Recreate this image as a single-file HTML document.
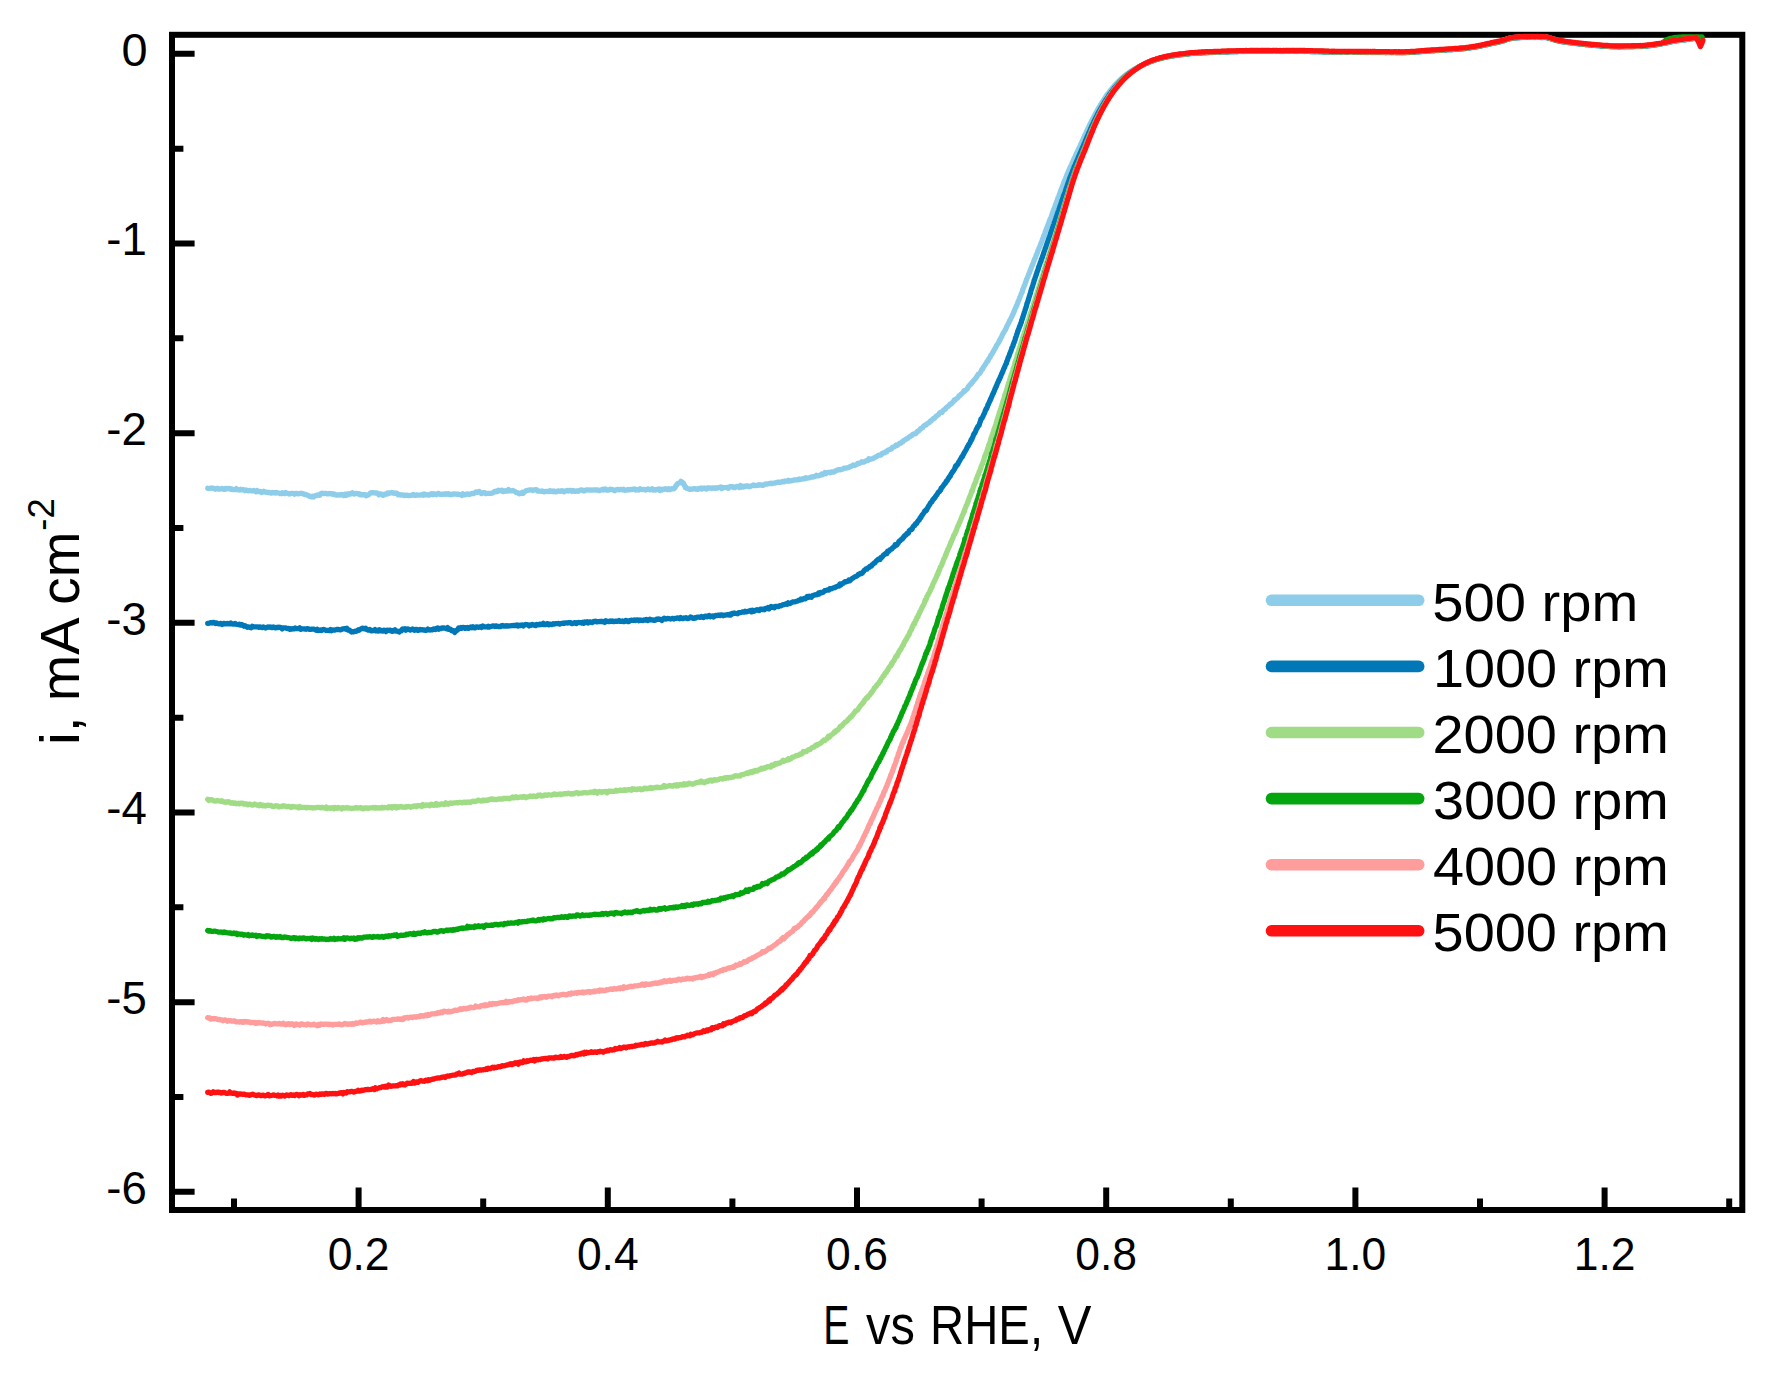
<!DOCTYPE html>
<html lang="en">
<head>
<meta charset="utf-8">
<title>RDE polarisation curves</title>
<style>
html,body{margin:0;padding:0;background:#fff;}
body{width:1790px;height:1383px;overflow:hidden;}
svg{display:block;}
svg text{font-family:'Liberation Sans', Arial, Helvetica, sans-serif;fill:#000;}
</style>
</head>
<body>
<svg width="1790" height="1383" viewBox="0 0 1790 1383">
<rect width="1790" height="1383" fill="#fff"/>
<g fill="none" stroke="#000" stroke-width="6.0" stroke-linejoin="miter">
<rect x="172.0" y="34.8" width="1570.3" height="1175.2"/>
<path stroke-width="6.0" d="M172.0 53.80H194.6M172.0 148.63H183.4M172.0 243.47H194.6M172.0 338.31H183.4M172.0 433.14H194.6M172.0 527.97H183.4M172.0 622.81H194.6M172.0 717.64H183.4M172.0 812.48H194.6M172.0 907.31H183.4M172.0 1002.15H194.6M172.0 1096.98H183.4M172.0 1191.82H194.6M234.00 1210.0V1198.6M358.60 1210.0V1187.4M483.20 1210.0V1198.6M607.80 1210.0V1187.4M732.40 1210.0V1198.6M857.00 1210.0V1187.4M981.60 1210.0V1198.6M1106.20 1210.0V1187.4M1230.80 1210.0V1198.6M1355.40 1210.0V1187.4M1480.00 1210.0V1198.6M1604.60 1210.0V1187.4M1729.20 1210.0V1198.6"/>
</g>
<g fill="none" stroke-width="5.3" stroke-linejoin="round" stroke-linecap="round">
<path d="M207.7 488.3L208.8 488.5L209.9 488.3L211.0 488.0L212.1 488.3L213.2 488.1L214.3 488.6L215.4 489.2L216.5 488.5L217.6 488.5L218.7 489.0L219.8 489.0L220.9 488.9L222.0 488.5L223.1 489.0L224.2 489.4L225.3 488.5L226.4 489.0L227.5 488.4L228.6 488.7L229.7 488.5L230.8 489.3L231.9 488.9L233.0 489.7L234.1 489.7L235.2 489.6L236.3 488.6L237.4 489.6L238.5 489.8L239.6 490.0L240.7 489.3L241.8 489.9L242.9 489.7L243.9 489.9L245.0 490.7L246.1 490.0L247.2 490.4L248.3 490.9L249.4 490.3L250.5 490.6L251.6 490.8L252.7 490.9L253.8 490.4L254.9 491.1L256.0 491.8L257.1 490.6L258.2 491.7L259.3 491.5L260.4 491.3L261.5 492.6L262.6 492.1L263.7 491.3L264.8 492.0L265.9 492.3L267.0 492.1L268.1 492.6L269.2 492.4L270.3 492.8L271.3 493.2L272.4 492.4L273.5 492.8L274.6 492.6L275.7 493.0L276.8 492.5L277.9 492.8L279.0 493.0L280.1 493.6L281.2 493.7L282.3 492.7L283.4 493.0L284.5 493.6L285.6 492.5L286.7 493.2L287.8 493.4L288.9 494.0L290.0 493.8L291.1 493.3L292.2 493.3L293.3 493.4L294.4 494.2L295.5 493.4L296.6 493.4L297.7 493.8L298.8 493.6L299.9 493.6L301.0 493.2L302.1 493.7L303.2 493.6L304.3 494.5L305.4 494.5L306.4 494.6L307.4 495.3L308.4 495.3L309.4 496.3L310.5 496.3L311.5 496.8L312.6 496.2L313.7 496.9L314.8 495.8L315.8 495.3L316.8 495.7L317.8 494.9L318.8 494.9L319.8 495.3L320.8 493.5L321.8 493.2L322.9 493.4L324.0 493.5L325.1 493.3L326.2 493.3L327.3 493.8L328.4 493.8L329.5 493.3L330.6 493.8L331.7 494.1L332.8 493.7L333.9 494.5L334.9 494.1L336.0 495.1L337.1 494.9L338.2 495.0L339.3 494.8L340.4 495.1L341.5 494.4L342.6 494.8L343.7 495.5L344.8 494.3L345.9 495.4L346.9 494.0L348.0 494.8L349.1 493.8L350.1 494.2L351.2 493.6L352.3 492.7L353.4 493.9L354.5 494.0L355.6 493.4L356.6 493.5L357.7 493.8L358.8 493.6L359.9 494.8L360.9 494.3L362.0 494.8L363.1 494.7L364.2 494.9L365.3 494.7L366.4 495.8L367.4 494.9L368.4 495.0L369.4 494.0L370.3 493.1L371.3 492.8L372.4 492.6L373.5 492.9L374.6 492.8L375.7 493.1L376.8 492.9L377.8 493.4L378.9 494.8L379.9 494.0L381.0 494.0L382.1 494.8L383.2 495.4L384.3 494.1L385.4 494.5L386.4 493.9L387.5 493.0L388.5 493.7L389.5 493.0L390.6 492.9L391.7 492.5L392.8 493.1L393.9 492.9L394.9 493.3L396.0 493.1L397.1 493.4L398.1 494.8L399.2 494.3L400.2 494.9L401.3 495.0L402.4 495.0L403.5 495.1L404.6 495.6L405.7 495.2L406.8 495.2L407.9 495.3L409.0 495.7L410.1 495.5L411.2 495.3L412.3 494.9L413.4 494.4L414.5 495.4L415.6 495.4L416.7 494.8L417.8 495.1L418.9 495.1L420.0 495.1L421.1 495.1L422.2 494.4L423.3 495.3L424.4 494.0L425.5 494.9L426.6 494.7L427.7 494.8L428.8 495.2L429.9 495.0L431.0 493.8L432.1 493.6L433.2 494.7L434.3 493.8L435.4 494.3L436.5 494.7L437.6 493.6L438.7 493.4L439.8 494.4L440.9 494.3L442.0 494.2L443.1 494.4L444.2 494.0L445.3 493.7L446.4 494.3L447.5 493.9L448.6 493.7L449.7 494.6L450.8 494.4L451.9 494.6L453.0 494.0L454.1 494.1L455.2 494.0L456.3 494.1L457.4 494.5L458.5 494.1L459.6 494.6L460.7 494.6L461.8 495.4L462.9 493.9L464.0 494.9L465.1 494.5L466.2 494.5L467.3 493.8L468.4 494.2L469.5 494.5L470.5 493.9L471.6 493.7L472.7 493.3L473.7 493.7L474.8 492.9L475.9 491.9L477.0 492.5L478.1 491.9L479.2 491.4L480.3 492.7L481.4 493.5L482.5 493.0L483.6 492.6L484.7 492.7L485.8 493.7L486.9 493.3L488.0 493.3L489.1 493.3L490.2 493.3L491.3 493.4L492.3 493.0L493.4 492.5L494.4 491.5L495.4 491.9L496.5 491.0L497.5 491.5L498.6 490.3L499.7 490.7L500.8 490.8L501.9 490.2L503.0 491.6L504.1 491.4L505.2 490.6L506.3 491.1L507.4 491.0L508.5 489.6L509.6 490.9L510.7 490.8L511.8 490.8L512.9 490.4L514.0 491.1L515.0 491.5L516.0 492.5L517.0 492.6L518.0 492.9L519.1 493.9L520.2 493.2L521.3 493.3L522.3 492.2L523.2 493.2L524.1 492.2L525.0 491.6L525.9 490.9L527.0 490.3L528.1 490.3L529.2 490.0L530.3 489.9L531.4 489.9L532.5 490.5L533.6 490.1L534.7 489.8L535.8 489.7L536.8 489.9L537.9 491.2L538.9 491.1L540.0 491.2L541.1 491.3L542.1 491.0L543.2 491.5L544.3 491.9L545.4 491.3L546.5 491.4L547.6 491.4L548.7 491.5L549.8 490.7L550.9 491.3L552.0 491.0L553.1 491.7L554.2 491.0L555.3 491.6L556.4 491.9L557.5 491.1L558.6 490.9L559.7 491.3L560.8 491.1L561.9 490.7L563.0 491.3L564.1 491.9L565.2 490.9L566.3 490.9L567.4 490.5L568.5 491.0L569.6 490.3L570.7 490.4L571.8 491.4L572.9 490.4L574.0 491.2L575.1 491.4L576.2 490.8L577.3 490.9L578.4 491.4L579.5 490.4L580.6 490.2L581.7 489.8L582.8 490.4L583.9 491.0L585.0 490.7L586.1 489.8L587.2 489.8L588.3 489.9L589.4 490.2L590.5 490.0L591.6 490.1L592.7 490.1L593.8 489.8L594.9 489.9L596.0 490.0L597.1 489.9L598.2 490.1L599.3 490.7L600.4 490.1L601.5 489.9L602.6 489.1L603.7 490.0L604.8 489.0L605.9 489.2L607.0 490.2L608.1 490.2L609.2 489.8L610.3 489.1L611.4 489.7L612.5 489.5L613.6 490.1L614.7 490.8L615.8 489.9L616.9 489.5L618.0 489.3L619.1 489.8L620.2 489.7L621.3 489.3L622.4 489.8L623.5 489.3L624.6 490.3L625.7 490.2L626.8 490.2L627.9 489.5L629.0 489.9L630.1 489.6L631.2 489.5L632.3 489.5L633.4 489.1L634.5 489.0L635.6 490.0L636.7 489.5L637.8 489.7L638.9 490.0L640.0 488.8L641.1 489.2L642.2 489.6L643.3 489.7L644.4 489.4L645.5 490.0L646.6 489.6L647.7 489.0L648.8 489.1L649.9 489.9L651.0 489.7L652.1 488.7L653.2 490.1L654.3 489.7L655.4 490.1L656.5 489.3L657.6 489.3L658.7 488.9L659.8 490.5L660.9 489.3L662.0 490.1L663.1 489.1L664.2 489.4L665.3 488.6L666.4 489.1L667.5 489.7L668.6 488.7L669.7 489.7L670.8 489.3L671.9 488.7L673.0 488.9L674.0 488.6L674.8 488.0L675.4 486.8L675.9 485.8L676.6 485.1L677.3 484.0L678.2 483.2L679.0 483.0L680.0 482.8L681.0 481.4L682.0 482.2L682.8 482.7L683.5 483.4L684.0 485.1L684.6 485.5L685.2 487.3L685.9 487.1L686.8 488.3L687.7 488.7L688.7 488.8L689.8 489.4L690.9 489.0L692.0 489.3L693.1 489.0L694.2 488.6L695.3 489.0L696.4 489.0L697.5 489.4L698.6 488.5L699.7 488.9L700.8 488.1L701.9 489.1L703.0 488.3L704.1 487.9L705.2 488.6L706.3 489.1L707.4 487.9L708.5 488.0L709.6 488.1L710.7 487.9L711.8 488.5L712.9 487.9L714.0 487.8L715.1 488.4L716.2 487.7L717.3 488.2L718.4 487.5L719.5 487.3L720.6 487.0L721.7 488.6L722.8 487.5L723.9 487.7L725.0 487.6L726.1 487.6L727.2 487.5L728.3 488.3L729.4 486.9L730.5 486.7L731.6 486.9L732.7 486.7L733.8 487.5L734.9 487.5L736.0 486.7L737.1 486.4L738.2 486.8L739.3 487.5L740.4 485.6L741.5 487.0L742.6 486.3L743.7 487.1L744.8 486.1L745.8 486.4L746.9 485.8L748.0 485.9L749.1 486.8L750.2 486.5L751.3 485.9L752.4 485.5L753.5 485.0L754.6 485.5L755.7 485.6L756.8 485.4L757.9 485.3L759.0 484.7L760.1 485.0L761.1 484.9L762.2 485.3L763.3 485.4L764.4 484.4L765.5 484.0L766.6 484.2L767.7 483.8L768.8 483.6L769.9 483.7L770.9 483.1L772.0 483.7L773.1 483.2L774.2 483.2L775.3 482.9L776.4 482.5L777.5 482.2L778.6 482.4L779.7 482.1L780.7 482.3L781.8 482.0L782.9 481.3L784.0 481.8L785.1 481.0L786.2 481.2L787.3 481.2L788.4 480.3L789.5 481.1L790.6 480.9L791.6 480.6L792.7 480.4L793.8 480.2L794.9 479.8L796.0 480.0L797.1 479.7L798.2 479.8L799.2 479.0L800.3 479.5L801.4 479.2L802.5 478.9L803.6 478.6L804.6 478.8L805.7 477.7L806.8 478.3L807.9 478.0L808.9 477.8L810.0 477.6L811.1 476.9L812.2 476.9L813.2 477.0L814.3 476.6L815.4 476.3L816.4 475.3L817.5 475.9L818.6 475.9L819.6 475.5L820.7 474.9L821.8 473.9L822.8 474.7L823.9 473.9L824.9 472.6L826.0 473.6L827.1 472.5L828.1 472.3L829.2 472.3L830.3 472.8L831.3 471.9L832.4 471.8L833.4 472.2L834.5 471.8L835.6 470.8L836.6 470.5L837.7 469.8L838.7 469.7L839.8 469.9L840.9 469.6L841.9 469.1L843.0 469.2L844.0 468.2L845.1 468.2L846.1 468.2L847.2 467.8L848.2 467.7L849.3 467.1L850.3 466.5L851.4 466.4L852.4 465.5L853.5 464.9L854.5 465.5L855.6 464.8L856.6 464.6L857.6 463.4L858.7 463.6L859.7 463.2L860.7 462.7L861.8 461.7L862.8 462.1L863.8 462.2L864.8 461.6L865.9 460.8L866.9 460.6L867.9 460.5L868.9 458.7L869.9 459.3L870.9 459.2L871.9 458.8L872.9 458.7L873.9 458.1L874.9 457.3L875.9 456.8L876.9 456.5L877.9 455.5L878.9 455.2L879.9 455.1L880.9 455.1L881.8 453.7L882.8 453.2L883.8 452.8L884.8 452.8L885.7 451.7L886.7 451.8L887.7 450.3L888.6 450.0L889.6 449.5L890.5 449.3L891.5 448.9L892.4 447.3L893.4 447.0L894.3 446.9L895.2 445.9L896.2 445.0L897.1 445.5L898.0 444.7L899.0 444.1L899.9 443.1L900.8 443.1L901.8 442.0L902.7 441.9L903.6 440.6L904.5 440.0L905.4 439.8L906.3 438.8L907.3 438.7L908.2 438.0L909.1 436.9L910.0 436.6L910.9 435.9L911.8 435.7L912.7 434.5L913.6 433.9L914.5 433.9L915.4 433.7L916.3 432.9L917.2 431.6L918.0 431.0L918.9 430.8L919.8 429.5L920.7 428.5L921.6 428.3L922.4 427.8L923.3 426.6L924.2 425.6L925.1 425.0L925.9 425.2L926.8 423.9L927.6 423.5L928.5 422.9L929.4 422.4L930.2 421.3L931.1 421.0L931.9 419.7L932.8 419.2L933.6 418.3L934.4 418.4L935.3 417.2L936.1 416.3L937.0 415.7L937.8 415.0L938.6 414.6L939.5 413.1L940.3 412.6L941.1 412.1L941.9 412.4L942.8 411.1L943.6 410.0L944.4 409.6L945.2 409.3L946.1 407.8L946.9 407.0L947.7 406.8L948.5 405.9L949.4 405.2L950.2 404.0L951.0 404.2L951.8 403.4L952.7 402.2L953.5 401.5L954.3 399.9L955.1 400.1L955.9 399.0L956.8 398.5L957.6 397.9L958.4 396.8L959.2 395.6L960.0 395.6L960.8 394.4L961.6 393.8L962.4 393.0L963.2 392.3L964.0 390.8L964.7 391.3L965.5 390.2L966.3 389.7L967.0 389.2L967.8 387.7L968.5 386.3L969.2 385.8L969.9 384.8L970.7 384.3L971.4 383.6L972.1 382.1L972.8 382.0L973.5 380.5L974.1 380.3L974.8 379.3L975.5 378.4L976.2 377.6L976.8 376.5L977.5 375.6L978.1 374.4L978.8 374.0L979.4 373.7L980.0 372.9L980.7 371.8L981.3 370.7L981.9 369.3L982.5 369.1L983.1 367.7L983.7 366.8L984.4 365.8L985.0 365.0L985.6 363.9L986.2 363.1L986.8 361.9L987.3 361.2L987.9 361.1L988.5 359.4L989.1 358.4L989.7 357.7L990.3 356.8L990.8 355.3L991.4 354.7L992.0 354.1L992.5 352.9L993.1 351.9L993.6 351.4L994.2 349.8L994.7 349.1L995.3 348.0L995.8 347.6L996.4 345.6L996.9 345.0L997.5 344.1L998.0 343.5L998.5 342.5L999.1 341.8L999.6 340.0L1000.1 339.7L1000.6 338.4L1001.2 337.3L1001.7 336.7L1002.2 335.3L1002.7 334.0L1003.2 333.5L1003.8 332.3L1004.3 331.5L1004.8 330.8L1005.3 329.8L1005.8 329.2L1006.3 327.7L1006.8 326.4L1007.3 325.6L1007.8 324.6L1008.3 323.5L1008.7 323.0L1009.2 321.7L1009.7 320.4L1010.2 320.1L1010.7 318.9L1011.1 318.0L1011.6 317.0L1012.1 316.1L1012.5 314.9L1013.0 314.3L1013.4 313.0L1013.9 312.0L1014.3 311.0L1014.8 309.5L1015.2 308.9L1015.6 307.8L1016.1 306.9L1016.5 305.5L1016.9 305.3L1017.3 303.9L1017.8 302.5L1018.2 301.4L1018.6 300.7L1019.0 299.7L1019.4 298.6L1019.8 297.7L1020.2 296.5L1020.6 295.8L1021.0 294.5L1021.4 293.6L1021.8 292.8L1022.2 292.2L1022.5 290.3L1022.9 289.4L1023.3 288.3L1023.7 287.6L1024.1 286.2L1024.5 285.3L1024.9 284.4L1025.3 283.1L1025.7 282.1L1026.1 281.2L1026.4 279.8L1026.8 278.9L1027.2 278.1L1027.6 277.2L1028.0 276.1L1028.4 274.7L1028.8 274.0L1029.2 273.2L1029.6 272.2L1030.0 271.0L1030.4 269.8L1030.8 269.1L1031.2 267.8L1031.6 266.7L1032.0 265.7L1032.4 265.2L1032.8 263.9L1033.2 263.1L1033.6 261.7L1034.0 261.0L1034.4 259.6L1034.8 258.7L1035.2 258.2L1035.7 256.8L1036.1 255.6L1036.5 254.6L1036.9 253.7L1037.3 252.8L1037.7 251.5L1038.1 250.2L1038.5 249.5L1038.9 248.5L1039.3 247.5L1039.7 246.7L1040.1 245.5L1040.5 244.6L1040.9 243.2L1041.3 242.5L1041.7 241.7L1042.1 240.5L1042.5 239.3L1042.9 238.3L1043.3 237.6L1043.7 236.0L1044.1 235.2L1044.5 234.2L1044.8 233.3L1045.2 232.0L1045.6 231.1L1046.0 230.0L1046.4 229.0L1046.8 228.0L1047.2 226.8L1047.6 225.9L1048.0 225.0L1048.4 223.7L1048.8 222.8L1049.1 221.9L1049.5 220.6L1049.9 219.8L1050.3 218.5L1050.7 217.9L1051.1 217.0L1051.5 216.0L1051.9 214.6L1052.3 213.7L1052.6 212.6L1053.0 211.5L1053.4 210.7L1053.8 209.2L1054.2 208.6L1054.6 207.4L1055.0 206.6L1055.3 205.4L1055.7 204.2L1056.1 203.3L1056.5 202.4L1056.9 201.2L1057.3 200.3L1057.6 199.1L1058.0 197.8L1058.4 197.2L1058.8 196.2L1059.2 195.0L1059.6 194.0L1059.9 193.1L1060.3 191.9L1060.7 190.8L1061.1 189.8L1061.5 189.0L1061.9 187.6L1062.3 187.0L1062.7 185.7L1063.1 184.6L1063.4 183.9L1063.8 182.7L1064.2 181.5L1064.6 180.6L1065.0 179.7L1065.5 178.7L1065.9 177.5L1066.3 176.6L1066.7 175.6L1067.1 174.4L1067.5 173.5L1068.0 172.5L1068.4 171.4L1068.8 170.4L1069.2 169.5L1069.7 168.5L1070.1 167.4L1070.6 166.4L1071.0 165.6L1071.5 164.5L1071.9 163.5L1072.4 162.6L1072.9 161.5L1073.3 160.7L1073.8 159.3L1074.2 158.5L1074.7 157.4L1075.2 156.6L1075.6 155.6L1076.1 154.3L1076.6 153.4L1077.0 152.5L1077.5 151.5L1078.0 150.5L1078.4 149.5L1078.9 148.5L1079.3 147.5L1079.8 146.5L1080.3 145.6L1080.7 144.3L1081.2 143.5L1081.6 142.4L1082.1 141.6L1082.5 140.4L1083.0 139.4L1083.4 138.5L1083.9 137.4L1084.3 136.4L1084.8 135.3L1085.2 134.4L1085.7 133.5L1086.2 132.5L1086.6 131.4L1087.1 130.5L1087.5 129.5L1088.0 128.5L1088.5 127.5L1089.0 126.6L1089.4 125.5L1089.9 124.5L1090.4 123.5L1090.9 122.5L1091.4 121.5L1091.9 120.6L1092.4 119.5L1092.9 118.6L1093.4 117.6L1093.9 116.7L1094.4 115.7L1094.9 114.7L1095.4 113.9L1096.0 112.8L1096.5 111.9L1097.0 110.9L1097.6 109.9L1098.1 108.9L1098.7 108.0L1099.2 107.1L1099.8 106.1L1100.3 105.2L1100.9 104.1L1101.5 103.3L1102.1 102.2L1102.7 101.5L1103.3 100.5L1103.9 99.6L1104.5 98.7L1105.1 97.8L1105.7 96.8L1106.3 95.9L1107.0 95.0L1107.6 94.1L1108.3 93.3L1108.9 92.5L1109.6 91.5L1110.2 90.7L1110.9 89.8L1111.6 89.0L1112.3 88.1L1113.0 87.3L1113.7 86.5L1114.4 85.7L1115.2 84.8L1115.9 84.0L1116.6 83.2L1117.4 82.5L1118.2 81.6L1118.9 80.9L1119.7 80.1L1120.5 79.5L1121.3 78.5L1122.1 77.9L1122.9 77.2L1123.8 76.5L1124.6 75.8L1125.5 75.1L1126.3 74.4L1127.2 73.8L1128.1 73.3L1129.0 72.6L1129.9 71.9L1130.8 71.3L1131.7 70.7L1132.6 70.2L1133.5 69.6L1134.5 69.0L1135.4 68.6L1136.4 68.1L1137.3 67.5L1138.3 67.0L1139.3 66.4L1140.3 66.0L1141.2 65.5L1142.2 65.2L1143.2 64.6L1144.2 64.3L1145.2 63.9L1146.2 63.4L1147.2 62.9L1148.3 62.6L1149.3 62.2L1150.3 61.8L1151.3 61.4L1152.4 61.0L1153.4 60.6L1154.4 60.4L1155.5 59.9L1156.5 59.6L1157.6 59.4L1158.6 59.1L1159.7 58.8L1160.7 58.5L1161.8 58.2L1162.8 58.0L1163.9 57.6L1165.0 57.5L1166.0 57.2L1167.1 57.0L1168.2 56.8L1169.3 56.5L1170.3 56.4L1171.4 56.2L1172.5 56.0L1173.6 55.8L1174.7 55.8L1175.8 55.6L1176.9 55.3L1177.9 55.2L1179.0 55.2L1180.1 55.0L1181.2 54.8L1182.3 54.6L1183.4 54.5L1184.5 54.4L1185.6 54.2L1186.7 54.2L1187.8 54.0L1188.8 53.9L1189.9 53.7L1191.0 53.7L1192.1 53.6L1193.2 53.5L1194.3 53.5L1195.4 53.4L1196.5 53.3L1197.6 53.2L1198.7 53.1L1199.8 53.0L1200.9 53.0L1202.0 53.0L1203.1 52.8L1204.2 52.9L1205.3 52.8L1206.4 52.7L1207.5 52.6L1208.6 52.6L1209.7 52.6L1210.8 52.5L1211.9 52.5L1213.0 52.4L1214.1 52.3L1215.2 52.3L1216.3 52.2L1217.4 52.3L1218.5 52.3L1219.6 52.2L1220.7 52.1L1221.8 52.1L1222.9 52.2L1224.0 52.1L1225.1 52.0L1226.2 52.0L1227.3 52.1L1228.4 52.0L1229.5 51.9L1230.6 51.9L1231.7 51.8L1232.8 51.8L1233.9 51.7L1235.0 51.7L1236.1 51.6L1237.2 51.7L1238.3 51.6L1239.4 51.7L1240.5 51.5L1241.6 51.5L1242.7 51.5L1243.8 51.5L1244.9 51.5L1246.0 51.4L1247.1 51.4L1248.2 51.3L1249.3 51.4L1250.4 51.4L1251.5 51.4L1252.6 51.3L1253.7 51.4L1254.8 51.4L1255.9 51.4L1257.0 51.4L1258.1 51.4L1259.2 51.3L1260.3 51.3L1261.4 51.5L1262.5 51.3L1263.6 51.4L1264.7 51.4L1265.8 51.4L1266.9 51.4L1268.0 51.4L1269.1 51.4L1270.2 51.4L1271.3 51.3L1272.4 51.4L1273.5 51.4L1274.6 51.4L1275.7 51.4L1276.8 51.4L1277.9 51.4L1279.0 51.4L1280.1 51.4L1281.2 51.5L1282.3 51.5L1283.4 51.5L1284.5 51.4L1285.6 51.4L1286.7 51.4L1287.8 51.3L1288.9 51.4L1290.0 51.4L1291.1 51.4L1292.2 51.3L1293.3 51.4L1294.4 51.4L1295.5 51.4L1296.6 51.5L1297.7 51.4L1298.8 51.4L1299.9 51.4L1301.0 51.4L1302.1 51.4L1303.2 51.4L1304.3 51.5L1305.4 51.4L1306.5 51.4L1307.6 51.4L1308.7 51.4L1309.8 51.5L1310.9 51.6L1312.0 51.6L1313.1 51.5L1314.2 51.7L1315.3 51.8L1316.4 51.7L1317.5 51.7L1318.6 51.8L1319.7 51.9L1320.8 51.9L1321.9 52.0L1323.0 52.0L1324.1 52.0L1325.2 52.1L1326.3 52.1L1327.4 52.0L1328.5 52.1L1329.6 52.1L1330.7 52.1L1331.8 52.2L1332.9 52.2L1334.0 52.1L1335.1 52.3L1336.2 52.3L1337.3 52.2L1338.4 52.3L1339.5 52.3L1340.6 52.3L1341.7 52.1L1342.8 52.2L1343.9 52.2L1345.0 52.2L1346.1 52.3L1347.2 52.4L1348.3 52.3L1349.4 52.2L1350.5 52.4L1351.6 52.3L1352.7 52.3L1353.8 52.3L1354.9 52.4L1356.0 52.3L1357.1 52.4L1358.2 52.3L1359.3 52.3L1360.4 52.4L1361.5 52.4L1362.6 52.3L1363.7 52.4L1364.8 52.4L1365.9 52.5L1367.0 52.4L1368.1 52.5L1369.2 52.4L1370.3 52.4L1371.4 52.5L1372.5 52.5L1373.6 52.5L1374.7 52.5L1375.8 52.4L1376.9 52.5L1378.0 52.5L1379.1 52.5L1380.2 52.6L1381.3 52.6L1382.4 52.6L1383.5 52.7L1384.6 52.6L1385.7 52.5L1386.8 52.5L1387.9 52.5L1389.0 52.7L1390.1 52.6L1391.2 52.7L1392.3 52.7L1393.4 52.8L1394.5 52.7L1395.6 52.7L1396.7 52.7L1397.8 52.7L1398.9 52.7L1400.0 52.7L1401.1 52.7L1402.2 52.8L1403.3 52.6L1404.4 52.7L1405.5 52.6L1406.6 52.6L1407.7 52.6L1408.8 52.5L1409.9 52.5L1411.0 52.3L1412.1 52.4L1413.2 52.2L1414.3 52.2L1415.4 52.1L1416.5 51.9L1417.5 51.9L1418.6 51.9L1419.7 51.9L1420.8 51.7L1421.9 51.7L1423.0 51.5L1424.1 51.5L1425.2 51.5L1426.3 51.3L1427.4 51.2L1428.5 51.0L1429.6 51.1L1430.7 51.1L1431.8 50.9L1432.9 50.9L1434.0 50.8L1435.1 50.6L1436.2 50.7L1437.3 50.5L1438.4 50.5L1439.5 50.4L1440.6 50.4L1441.7 50.3L1442.8 50.3L1443.9 50.1L1445.0 50.0L1446.1 50.1L1447.2 49.9L1448.3 49.8L1449.4 49.8L1450.5 49.8L1451.6 49.6L1452.7 49.6L1453.8 49.5L1454.9 49.5L1456.0 49.4L1457.1 49.4L1458.2 49.2L1459.3 49.1L1460.3 49.1L1461.4 48.9L1462.5 48.8L1463.6 48.8L1464.7 48.6L1465.8 48.4L1466.9 48.3L1468.0 48.2L1469.1 48.1L1470.2 47.8L1471.3 47.7L1472.4 47.6L1473.4 47.4L1474.5 47.2L1475.6 47.1L1476.7 46.9L1477.8 46.6L1478.9 46.5L1479.9 46.3L1481.0 46.0L1482.1 45.7L1483.2 45.5L1484.2 45.3L1485.3 45.1L1486.4 44.7L1487.5 44.7L1488.5 44.3L1489.6 44.1L1490.7 43.9L1491.8 43.7L1492.8 43.4L1493.9 43.1L1495.0 43.0L1496.1 42.7L1497.1 42.4L1498.2 42.4L1499.3 42.1L1500.4 41.9L1501.4 41.5L1502.5 41.3L1503.5 41.0L1504.6 40.6L1505.6 40.1L1506.6 39.7L1507.7 39.4L1508.8 39.0L1509.8 38.8L1510.9 38.7L1512.0 38.4L1513.1 38.3L1514.1 38.1L1515.2 38.1L1516.3 38.0L1517.4 37.8L1518.5 37.8L1519.6 37.7L1520.7 37.6L1521.8 37.6L1522.9 37.4L1524.0 37.4L1525.1 37.3L1526.2 37.4L1527.3 37.4L1528.4 37.3L1529.5 37.3L1530.6 37.3L1531.7 37.2L1532.8 37.2L1533.9 37.4L1535.0 37.5L1536.1 37.4L1537.2 37.3L1538.3 37.4L1539.4 37.4L1540.5 37.5L1541.6 37.5L1542.7 37.6L1543.8 37.6L1544.9 37.6L1546.0 37.8L1547.1 37.9L1548.2 38.1L1549.3 38.3L1550.3 38.6L1551.4 38.9L1552.4 39.3L1553.4 39.7L1554.5 40.0L1555.5 40.4L1556.6 40.7L1557.7 41.0L1558.7 41.3L1559.8 41.4L1560.9 41.5L1562.0 41.8L1563.1 41.8L1564.2 42.1L1565.2 42.2L1566.3 42.2L1567.4 42.7L1568.5 42.8L1569.6 42.8L1570.7 43.0L1571.8 43.1L1572.9 43.2L1574.0 43.3L1575.1 43.5L1576.2 43.6L1577.2 43.8L1578.3 43.9L1579.4 44.0L1580.5 44.3L1581.6 44.2L1582.7 44.4L1583.8 44.4L1584.9 44.5L1586.0 44.8L1587.1 44.8L1588.2 44.9L1589.3 45.0L1590.4 45.1L1591.5 45.2L1592.6 45.3L1593.7 45.4L1594.8 45.5L1595.9 45.6L1597.0 45.6L1598.1 45.7L1599.1 45.9L1600.2 45.9L1601.3 46.1L1602.4 46.3L1603.5 46.2L1604.6 46.3L1605.7 46.4L1606.8 46.4L1607.9 46.5L1609.0 46.5L1610.1 46.6L1611.2 46.7L1612.3 46.8L1613.4 46.8L1614.5 46.8L1615.6 46.8L1616.7 47.0L1617.8 46.9L1618.9 47.0L1620.0 46.9L1621.1 47.0L1622.2 46.9L1623.3 46.9L1624.4 47.0L1625.5 46.8L1626.6 46.9L1627.7 46.9L1628.8 46.8L1629.9 46.8L1631.0 46.8L1632.1 46.7L1633.2 46.7L1634.3 46.6L1635.4 46.6L1636.5 46.6L1637.6 46.6L1638.7 46.5L1639.8 46.5L1640.9 46.4L1642.0 46.5L1643.1 46.4L1644.2 46.3L1645.3 46.1L1646.4 46.0L1647.5 46.0L1648.6 45.8L1649.7 45.6L1650.8 45.6L1651.9 45.6L1652.9 45.2L1654.0 45.2L1655.1 45.0L1656.2 44.8L1657.3 44.7L1658.4 44.4L1659.5 44.3L1660.6 44.2L1661.6 43.9L1662.7 43.7L1663.8 43.5L1664.9 43.3L1666.0 43.1L1667.0 42.8L1668.1 42.6L1669.2 42.2L1670.2 42.1L1671.3 41.8L1672.4 41.5L1673.5 41.4L1674.6 41.2L1675.6 41.0L1676.7 41.0L1677.8 40.7L1678.9 40.5L1680.0 40.5L1681.1 40.3L1682.2 40.3L1683.3 40.1L1684.4 39.9L1685.5 39.8L1686.6 39.7L1687.6 39.6L1688.7 39.3L1689.8 39.2L1690.9 39.0L1692.0 38.8L1693.1 38.7L1694.2 38.4L1695.2 38.2L1696.0 38.1" stroke="#8ecde9"/>
<path d="M207.7 623.3L208.8 623.3L209.9 622.9L211.0 622.7L212.1 623.0L213.2 622.3L214.3 622.5L215.4 623.5L216.5 622.9L217.6 623.4L218.7 623.8L219.8 623.6L220.9 623.3L222.0 624.4L223.1 623.7L224.2 623.3L225.3 623.9L226.4 623.8L227.5 623.3L228.6 623.8L229.7 623.8L230.8 623.0L231.9 623.9L233.0 624.0L234.1 624.0L235.2 623.5L236.3 624.2L237.4 624.5L238.4 624.7L239.5 624.2L240.6 625.1L241.7 624.5L242.8 625.2L243.8 626.2L244.9 625.7L245.9 626.1L247.0 627.2L248.0 626.8L249.1 627.1L250.2 627.4L251.3 627.8L252.4 626.3L253.5 626.9L254.6 626.8L255.7 626.8L256.8 626.9L257.9 626.9L259.0 627.4L260.1 626.9L261.2 627.4L262.3 627.5L263.4 627.0L264.5 627.4L265.6 628.1L266.7 627.4L267.8 627.0L268.9 627.3L270.0 626.9L271.1 627.4L272.2 627.7L273.3 627.0L274.4 627.3L275.5 627.9L276.6 627.3L277.7 627.7L278.8 627.2L279.9 627.3L281.0 627.6L282.1 628.9L283.2 627.8L284.3 627.8L285.4 627.9L286.5 628.2L287.6 628.6L288.7 628.5L289.7 629.4L290.8 628.6L291.9 629.2L293.0 628.7L294.1 628.9L295.2 628.0L296.3 628.7L297.4 628.7L298.5 628.7L299.6 627.9L300.7 629.3L301.8 628.8L302.9 628.8L304.0 628.9L305.1 629.0L306.2 629.3L307.3 628.6L308.4 628.8L309.5 629.4L310.6 629.4L311.7 629.2L312.8 629.2L313.9 629.1L315.0 629.6L316.1 630.2L317.2 629.3L318.3 630.5L319.4 630.3L320.5 629.8L321.6 630.5L322.7 629.6L323.8 629.5L324.9 629.8L326.0 630.3L327.1 630.4L328.2 630.3L329.3 630.6L330.4 629.6L331.5 630.8L332.6 629.9L333.7 630.2L334.8 630.2L335.9 629.7L337.0 629.4L338.0 629.4L339.1 629.7L340.2 629.8L341.3 629.6L342.4 628.8L343.5 628.8L344.6 628.6L345.7 629.2L346.8 628.2L347.8 630.1L348.8 629.8L349.7 630.3L350.7 631.3L351.7 632.0L352.8 631.7L353.9 631.9L354.9 631.2L356.0 631.4L357.0 631.0L358.0 630.0L359.0 630.3L360.1 629.3L361.1 628.9L362.2 628.2L363.3 628.4L364.4 628.9L365.5 628.2L366.5 629.5L367.5 629.8L368.5 630.2L369.6 629.4L370.6 630.5L371.7 630.9L372.8 630.3L373.9 630.6L375.0 629.5L376.1 630.9L377.2 630.3L378.3 631.0L379.4 629.8L380.5 630.9L381.6 630.5L382.7 631.0L383.8 630.2L384.9 630.3L386.0 631.6L387.1 630.2L388.2 630.3L389.3 630.5L390.4 630.1L391.5 631.1L392.6 631.4L393.7 630.3L394.8 629.8L395.9 631.1L397.0 631.2L398.1 631.4L399.1 632.0L400.2 631.2L401.1 631.0L401.9 629.7L402.7 628.9L403.7 629.5L404.8 628.7L405.9 630.1L407.0 629.1L408.1 628.9L409.2 629.6L410.3 630.1L411.4 629.6L412.5 628.9L413.6 629.7L414.7 630.3L415.7 629.5L416.8 629.5L417.9 630.4L419.0 630.0L420.1 629.5L421.2 629.8L422.3 629.7L423.4 630.1L424.5 630.0L425.6 630.4L426.7 630.1L427.8 629.1L428.9 629.9L430.0 630.0L431.1 629.7L432.2 629.9L433.3 629.1L434.4 628.8L435.5 629.5L436.6 628.5L437.7 628.0L438.8 629.3L439.9 628.4L441.0 628.5L442.1 628.0L443.2 628.0L444.3 628.0L445.4 628.3L446.5 628.7L447.6 627.6L448.6 629.3L449.6 628.9L450.6 629.4L451.6 630.7L452.6 630.9L453.6 630.6L454.7 632.4L455.7 631.1L456.5 630.8L457.2 629.9L457.9 629.6L458.6 628.0L459.7 628.4L460.8 627.5L461.9 628.3L463.0 627.3L464.1 627.5L465.2 628.4L466.3 627.7L467.4 627.5L468.5 628.4L469.6 627.6L470.7 627.0L471.8 627.7L472.9 626.8L474.0 627.8L475.1 627.8L476.2 627.0L477.3 626.9L478.4 627.3L479.5 627.2L480.6 626.7L481.7 627.4L482.8 626.1L483.9 626.8L485.0 626.8L486.1 626.8L487.2 627.0L488.3 626.2L489.4 627.0L490.5 626.6L491.6 626.3L492.7 625.9L493.8 625.9L494.8 626.5L495.9 625.8L497.0 626.2L498.1 626.6L499.2 626.5L500.3 626.7L501.4 625.8L502.5 625.4L503.6 626.2L504.7 625.9L505.8 626.2L506.9 625.6L508.0 626.1L509.1 625.9L510.2 625.8L511.3 625.7L512.4 625.6L513.5 625.5L514.6 625.4L515.7 625.7L516.8 625.0L517.9 626.0L519.0 625.2L520.1 625.6L521.2 625.1L522.3 625.0L523.4 626.0L524.5 624.9L525.6 624.5L526.7 624.7L527.8 624.9L528.9 625.9L530.0 625.0L531.1 625.3L532.2 624.4L533.3 625.0L534.4 625.1L535.5 625.6L536.6 624.4L537.7 624.9L538.8 624.8L539.9 624.1L541.0 624.5L542.1 624.4L543.2 623.4L544.3 624.6L545.4 624.5L546.5 624.0L547.6 623.6L548.7 624.8L549.8 624.2L550.9 624.4L552.0 624.6L553.1 623.6L554.2 624.2L555.3 623.6L556.4 623.6L557.5 623.6L558.6 623.5L559.7 624.0L560.8 623.5L561.9 623.3L563.0 623.2L564.1 623.4L565.2 622.8L566.3 622.9L567.4 623.0L568.5 622.7L569.6 622.9L570.7 622.6L571.8 623.7L572.9 623.4L574.0 622.9L575.1 622.6L576.2 623.6L577.3 622.7L578.4 622.5L579.5 622.6L580.6 622.6L581.7 623.0L582.8 622.3L583.8 623.2L584.9 621.9L586.0 622.5L587.1 621.7L588.2 622.9L589.3 621.9L590.4 622.0L591.5 622.4L592.6 622.5L593.7 621.4L594.8 621.7L595.9 621.2L597.0 621.9L598.1 621.7L599.2 621.6L600.3 621.4L601.4 621.5L602.5 621.3L603.6 621.9L604.7 622.3L605.8 620.7L606.9 621.5L608.0 621.3L609.1 621.7L610.2 621.0L611.3 621.3L612.4 620.9L613.5 621.7L614.6 621.4L615.7 621.2L616.8 621.4L617.9 621.1L619.0 620.5L620.1 621.4L621.2 621.3L622.3 621.0L623.4 621.5L624.5 621.6L625.6 620.5L626.7 620.6L627.8 621.6L628.9 621.5L630.0 620.5L631.1 620.2L632.2 620.4L633.3 620.4L634.4 619.9L635.5 620.5L636.6 619.9L637.7 619.9L638.8 620.7L639.9 620.0L641.0 620.2L642.1 620.4L643.2 620.5L644.3 619.9L645.4 620.0L646.5 619.5L647.6 620.6L648.7 620.1L649.8 619.2L650.9 619.7L652.0 620.0L653.1 619.8L654.2 620.4L655.3 620.1L656.4 619.2L657.5 619.4L658.6 618.8L659.7 619.4L660.8 619.3L661.9 620.4L663.0 619.2L664.1 618.2L665.2 618.8L666.3 619.1L667.4 618.4L668.5 618.6L669.6 618.7L670.7 619.0L671.8 618.7L672.9 618.3L674.0 619.0L675.1 618.4L676.2 618.4L677.3 617.9L678.4 618.1L679.5 618.7L680.6 617.6L681.7 618.3L682.8 618.6L683.9 618.0L685.0 618.2L686.1 617.6L687.2 618.6L688.3 618.4L689.4 618.0L690.4 617.0L691.5 617.3L692.6 618.1L693.7 618.4L694.8 617.7L695.9 618.0L697.0 617.1L698.1 617.2L699.2 617.2L700.3 617.4L701.4 616.4L702.5 617.4L703.6 617.5L704.7 616.3L705.8 616.1L706.9 616.8L708.0 616.2L709.1 615.4L710.2 616.7L711.3 616.3L712.4 615.9L713.5 617.0L714.6 616.0L715.7 615.5L716.8 615.7L717.9 615.1L718.9 615.1L720.0 615.5L721.1 615.0L722.2 614.9L723.3 615.7L724.4 615.2L725.5 615.1L726.6 614.8L727.7 614.7L728.8 615.0L729.9 614.2L731.0 614.9L732.1 613.5L733.1 613.6L734.2 613.0L735.3 613.3L736.4 613.5L737.5 613.8L738.6 612.7L739.7 612.8L740.8 612.5L741.9 612.2L742.9 611.8L744.0 612.2L745.1 611.2L746.2 611.9L747.3 611.7L748.4 611.2L749.5 610.9L750.6 610.5L751.6 611.8L752.7 610.2L753.8 611.3L754.9 610.7L756.0 610.1L757.1 609.6L758.2 610.4L759.2 610.5L760.3 609.1L761.4 609.2L762.5 609.6L763.6 609.1L764.6 609.7L765.7 608.3L766.8 608.6L767.9 607.6L769.0 608.9L770.0 607.4L771.1 606.5L772.2 607.3L773.3 607.0L774.4 607.7L775.4 606.5L776.5 606.4L777.6 606.4L778.6 606.6L779.7 605.6L780.8 605.9L781.9 605.4L782.9 604.7L784.0 604.6L785.1 604.3L786.1 603.6L787.2 604.3L788.2 602.9L789.3 603.7L790.4 603.3L791.4 602.6L792.5 602.0L793.5 601.9L794.6 601.9L795.6 601.7L796.7 601.2L797.7 601.2L798.8 600.1L799.8 600.2L800.9 599.0L801.9 599.7L803.0 599.1L804.0 598.5L805.1 598.9L806.1 598.3L807.1 596.4L808.2 597.3L809.2 596.3L810.3 597.0L811.3 597.3L812.3 595.6L813.4 595.5L814.4 595.0L815.4 594.9L816.5 594.6L817.5 594.5L818.5 593.1L819.5 593.9L820.6 592.3L821.6 592.5L822.6 592.5L823.6 591.9L824.7 590.7L825.7 590.5L826.7 590.2L827.7 589.9L828.8 590.1L829.8 588.6L830.8 588.9L831.8 588.6L832.8 588.1L833.8 587.7L834.9 587.7L835.9 586.8L836.9 586.6L837.9 586.0L838.9 586.1L839.9 584.0L840.9 585.0L841.9 583.8L842.9 583.4L843.9 582.6L844.9 581.7L845.9 581.9L846.9 581.3L847.8 581.3L848.8 580.0L849.8 580.7L850.7 579.7L851.7 578.9L852.7 578.2L853.6 577.6L854.6 576.9L855.5 576.6L856.4 576.3L857.4 575.6L858.3 574.5L859.2 574.4L860.1 573.5L861.0 573.4L861.9 573.5L862.8 572.3L863.7 571.3L864.6 570.0L865.5 569.5L866.3 568.7L867.2 569.1L868.1 567.8L869.0 567.5L869.8 566.5L870.7 566.1L871.5 566.0L872.4 564.4L873.2 563.9L874.1 563.0L874.9 563.0L875.8 561.5L876.6 560.7L877.5 559.9L878.3 559.2L879.2 559.3L880.0 559.6L880.9 557.3L881.7 557.4L882.6 556.4L883.4 555.1L884.3 554.8L885.1 554.1L885.9 553.2L886.8 553.6L887.6 551.2L888.5 551.5L889.3 550.8L890.1 549.7L891.0 549.3L891.8 548.9L892.6 547.8L893.4 547.2L894.3 546.6L895.1 544.7L895.9 545.5L896.7 545.1L897.5 543.8L898.3 543.0L899.1 541.2L899.9 541.0L900.7 540.0L901.5 539.3L902.3 539.2L903.0 537.6L903.8 537.2L904.6 535.6L905.3 535.6L906.1 534.9L906.8 533.7L907.6 532.9L908.3 533.3L909.1 531.1L909.8 530.3L910.5 529.6L911.3 529.7L912.0 529.3L912.7 527.6L913.4 526.3L914.1 525.6L914.8 525.4L915.5 523.7L916.2 523.9L916.9 523.0L917.5 521.6L918.2 520.9L918.9 520.1L919.5 519.6L920.2 517.6L920.8 517.7L921.5 516.1L922.1 515.0L922.8 514.5L923.4 513.5L924.1 512.3L924.7 511.1L925.3 510.5L926.0 510.7L926.6 510.0L927.2 508.5L927.8 507.8L928.5 506.2L929.1 505.5L929.7 504.7L930.4 503.2L931.0 502.4L931.6 502.0L932.3 500.9L932.9 499.6L933.6 499.4L934.2 498.2L934.8 497.9L935.5 496.5L936.1 495.5L936.8 494.8L937.4 493.8L938.1 492.7L938.7 491.9L939.4 491.6L940.0 490.6L940.7 490.0L941.3 487.8L941.9 487.5L942.6 486.6L943.2 485.9L943.9 484.8L944.5 483.9L945.1 483.5L945.8 482.4L946.4 480.9L947.0 481.0L947.6 480.0L948.3 478.4L948.9 478.1L949.5 476.5L950.1 476.4L950.7 474.9L951.3 473.7L951.9 473.0L952.5 471.9L953.1 471.4L953.7 470.5L954.3 469.5L954.9 468.3L955.5 466.1L956.0 466.7L956.6 464.9L957.2 464.9L957.8 464.3L958.3 463.0L958.9 461.8L959.5 461.0L960.0 460.0L960.6 458.9L961.2 458.0L961.7 456.9L962.3 456.8L962.8 455.3L963.3 454.8L963.9 453.3L964.4 452.5L965.0 451.4L965.5 450.7L966.0 449.9L966.6 448.7L967.1 447.4L967.6 446.4L968.1 446.4L968.7 444.6L969.2 443.7L969.7 443.4L970.2 442.3L970.7 441.1L971.2 439.7L971.7 439.8L972.2 438.1L972.7 437.2L973.2 435.9L973.7 434.5L974.2 433.5L974.7 433.2L975.2 432.2L975.7 431.0L976.2 429.6L976.7 428.6L977.2 428.0L977.7 426.6L978.2 426.5L978.6 425.6L979.1 425.2L979.6 423.5L980.1 422.0L980.5 420.9L981.0 418.9L981.5 419.0L982.0 418.1L982.4 417.6L982.9 416.4L983.4 415.4L983.8 414.3L984.3 413.5L984.7 412.8L985.2 410.8L985.7 410.1L986.1 408.7L986.6 408.8L987.0 407.7L987.5 406.5L987.9 404.8L988.4 404.3L988.8 403.1L989.3 402.2L989.7 401.1L990.2 400.4L990.6 399.0L991.0 398.5L991.5 397.3L991.9 396.1L992.4 395.1L992.8 394.0L993.3 393.4L993.7 392.1L994.2 391.2L994.6 390.0L995.1 388.6L995.5 388.4L995.9 386.8L996.4 386.3L996.8 385.2L997.3 383.5L997.7 382.8L998.2 381.9L998.6 380.8L999.0 379.7L999.5 379.3L999.9 378.0L1000.4 377.2L1000.8 375.9L1001.2 375.1L1001.7 373.8L1002.1 373.0L1002.5 372.2L1003.0 371.0L1003.4 369.8L1003.8 368.6L1004.3 368.0L1004.7 367.0L1005.1 365.8L1005.5 364.7L1005.9 364.0L1006.3 363.6L1006.7 361.7L1007.1 360.9L1007.6 359.9L1008.0 358.0L1008.3 357.8L1008.7 356.5L1009.1 356.1L1009.5 354.6L1009.9 353.4L1010.3 352.5L1010.7 351.6L1011.1 350.4L1011.4 349.5L1011.8 348.1L1012.2 347.4L1012.6 346.6L1012.9 345.9L1013.3 344.5L1013.7 343.4L1014.1 342.6L1014.4 341.5L1014.8 340.7L1015.2 339.5L1015.5 338.1L1015.9 337.2L1016.3 336.1L1016.6 335.1L1017.0 334.0L1017.4 332.7L1017.7 331.3L1018.1 330.7L1018.5 329.3L1018.8 328.8L1019.2 327.7L1019.6 326.2L1019.9 325.9L1020.3 324.9L1020.6 323.6L1021.0 323.0L1021.4 322.0L1021.7 320.1L1022.1 319.7L1022.4 318.5L1022.8 317.5L1023.1 316.6L1023.5 315.1L1023.8 314.1L1024.2 313.0L1024.5 311.9L1024.8 311.1L1025.2 309.7L1025.5 308.7L1025.8 308.1L1026.2 306.9L1026.5 305.9L1026.8 304.3L1027.1 303.5L1027.4 302.5L1027.8 301.6L1028.1 300.4L1028.4 299.8L1028.7 298.4L1029.0 297.4L1029.3 296.4L1029.7 295.5L1030.0 294.1L1030.3 293.5L1030.6 292.3L1030.9 291.1L1031.2 290.1L1031.6 289.1L1031.9 288.2L1032.2 287.1L1032.6 285.9L1032.9 285.0L1033.2 283.8L1033.6 283.0L1033.9 281.6L1034.2 280.1L1034.6 279.9L1034.9 278.5L1035.3 277.2L1035.6 276.4L1036.0 275.2L1036.3 274.8L1036.7 273.4L1037.0 271.9L1037.4 271.3L1037.7 270.1L1038.1 269.6L1038.4 267.9L1038.8 266.6L1039.2 266.0L1039.5 264.9L1039.9 263.9L1040.3 262.4L1040.6 262.0L1041.0 261.2L1041.3 259.4L1041.7 259.0L1042.1 257.6L1042.4 257.2L1042.8 255.7L1043.2 254.6L1043.5 253.8L1043.9 252.6L1044.2 251.4L1044.6 250.6L1045.0 249.3L1045.3 248.0L1045.7 247.7L1046.1 246.2L1046.4 245.1L1046.8 244.3L1047.2 242.9L1047.5 241.9L1047.9 241.0L1048.3 240.0L1048.6 239.0L1049.0 238.2L1049.3 236.9L1049.7 236.0L1050.1 235.0L1050.4 233.6L1050.8 232.8L1051.2 231.6L1051.5 230.9L1051.9 229.8L1052.2 228.6L1052.6 227.4L1053.0 226.6L1053.3 225.4L1053.7 224.6L1054.1 223.4L1054.4 222.3L1054.8 221.5L1055.1 220.5L1055.5 219.2L1055.9 218.5L1056.2 217.2L1056.6 216.1L1057.0 215.2L1057.3 214.0L1057.7 213.0L1058.0 212.0L1058.4 211.2L1058.8 210.2L1059.1 208.9L1059.5 208.1L1059.8 206.8L1060.2 205.8L1060.6 204.9L1060.9 203.8L1061.3 203.0L1061.6 201.7L1062.0 200.4L1062.4 199.7L1062.7 198.4L1063.1 197.4L1063.4 196.0L1063.8 195.5L1064.1 194.5L1064.5 193.4L1064.9 192.4L1065.2 191.5L1065.6 190.2L1065.9 189.3L1066.3 188.0L1066.7 187.0L1067.0 186.2L1067.4 185.0L1067.8 183.8L1068.1 183.0L1068.5 181.9L1068.9 180.7L1069.2 179.9L1069.6 178.7L1070.0 177.6L1070.4 176.6L1070.8 175.9L1071.2 174.5L1071.6 173.7L1072.0 172.7L1072.4 171.7L1072.8 170.4L1073.2 169.5L1073.6 168.6L1074.0 167.6L1074.4 166.4L1074.9 165.4L1075.3 164.6L1075.7 163.6L1076.1 162.5L1076.6 161.4L1077.0 160.5L1077.5 159.4L1077.9 158.5L1078.3 157.3L1078.8 156.4L1079.2 155.4L1079.7 154.3L1080.1 153.4L1080.5 152.4L1081.0 151.3L1081.4 150.4L1081.8 149.2L1082.3 148.3L1082.7 147.4L1083.1 146.3L1083.6 145.4L1084.0 144.2L1084.4 143.1L1084.9 142.3L1085.3 141.3L1085.7 140.4L1086.1 139.3L1086.6 138.1L1087.0 137.3L1087.4 136.1L1087.9 135.0L1088.3 134.4L1088.7 133.2L1089.2 132.2L1089.6 131.2L1090.0 130.3L1090.5 129.1L1090.9 128.2L1091.4 127.0L1091.8 126.0L1092.3 125.2L1092.7 124.2L1093.2 123.2L1093.7 122.1L1094.1 121.1L1094.6 120.1L1095.1 119.3L1095.6 118.2L1096.1 117.2L1096.6 116.2L1097.1 115.3L1097.6 114.3L1098.1 113.3L1098.6 112.2L1099.1 111.4L1099.7 110.5L1100.2 109.4L1100.7 108.5L1101.3 107.6L1101.8 106.6L1102.4 105.7L1103.0 104.6L1103.5 103.8L1104.1 102.7L1104.7 101.8L1105.3 101.0L1105.8 100.0L1106.4 99.1L1107.0 98.3L1107.7 97.3L1108.3 96.4L1108.9 95.4L1109.5 94.5L1110.2 93.6L1110.8 92.8L1111.5 91.8L1112.1 91.0L1112.8 90.1L1113.5 89.2L1114.1 88.4L1114.8 87.5L1115.5 86.8L1116.2 85.9L1117.0 85.1L1117.7 84.3L1118.4 83.4L1119.2 82.7L1119.9 81.8L1120.7 81.2L1121.4 80.4L1122.2 79.5L1123.0 78.7L1123.8 78.1L1124.6 77.2L1125.4 76.5L1126.2 75.9L1127.1 75.2L1127.9 74.4L1128.8 73.8L1129.6 73.1L1130.5 72.5L1131.4 71.8L1132.3 71.2L1133.2 70.6L1134.1 69.9L1135.0 69.5L1135.9 68.8L1136.8 68.3L1137.8 67.6L1138.7 67.2L1139.7 66.5L1140.6 66.0L1141.6 65.6L1142.6 65.1L1143.6 64.5L1144.5 64.2L1145.5 63.6L1146.5 63.3L1147.5 62.8L1148.5 62.4L1149.5 61.9L1150.6 61.7L1151.6 61.2L1152.6 60.8L1153.6 60.4L1154.7 60.0L1155.7 59.7L1156.8 59.5L1157.8 59.1L1158.8 58.8L1159.9 58.5L1161.0 58.3L1162.0 58.0L1163.1 57.7L1164.1 57.5L1165.2 57.3L1166.3 57.0L1167.4 56.7L1168.4 56.5L1169.5 56.3L1170.6 56.1L1171.7 56.0L1172.8 55.8L1173.8 55.6L1174.9 55.4L1176.0 55.3L1177.1 55.1L1178.2 54.8L1179.3 54.8L1180.4 54.6L1181.4 54.5L1182.5 54.4L1183.6 54.2L1184.7 54.1L1185.8 54.0L1186.9 53.9L1188.0 53.8L1189.1 53.7L1190.2 53.6L1191.3 53.4L1192.4 53.4L1193.5 53.4L1194.6 53.2L1195.7 53.2L1196.8 53.1L1197.9 53.1L1199.0 52.9L1200.1 52.9L1201.2 52.8L1202.3 52.7L1203.4 52.6L1204.4 52.6L1205.5 52.6L1206.6 52.5L1207.7 52.5L1208.8 52.4L1209.9 52.3L1211.0 52.4L1212.1 52.3L1213.2 52.3L1214.3 52.1L1215.4 52.2L1216.5 52.1L1217.6 52.2L1218.7 52.0L1219.8 52.0L1220.9 51.9L1222.0 51.8L1223.1 51.8L1224.2 51.9L1225.3 51.8L1226.4 51.7L1227.5 51.8L1228.6 51.8L1229.7 51.7L1230.8 51.6L1231.9 51.6L1233.0 51.6L1234.1 51.5L1235.2 51.5L1236.3 51.5L1237.4 51.5L1238.5 51.4L1239.6 51.3L1240.7 51.3L1241.8 51.3L1242.9 51.3L1244.0 51.3L1245.1 51.3L1246.2 51.2L1247.3 51.2L1248.4 51.2L1249.5 51.2L1250.6 51.2L1251.7 51.3L1252.8 51.2L1253.9 51.2L1255.0 51.1L1256.1 51.2L1257.2 51.1L1258.3 51.2L1259.4 51.2L1260.5 51.2L1261.6 51.2L1262.7 51.2L1263.8 51.1L1264.9 51.1L1266.0 51.2L1267.1 51.2L1268.2 51.3L1269.3 51.2L1270.4 51.3L1271.5 51.2L1272.6 51.2L1273.7 51.1L1274.8 51.1L1275.9 51.2L1277.0 51.3L1278.1 51.2L1279.2 51.2L1280.3 51.2L1281.4 51.2L1282.5 51.2L1283.6 51.3L1284.7 51.2L1285.8 51.2L1286.9 51.2L1288.0 51.2L1289.1 51.2L1290.2 51.2L1291.3 51.3L1292.4 51.2L1293.5 51.2L1294.6 51.3L1295.7 51.3L1296.8 51.2L1297.9 51.2L1299.0 51.1L1300.1 51.2L1301.2 51.1L1302.3 51.3L1303.4 51.1L1304.5 51.3L1305.6 51.2L1306.7 51.2L1307.8 51.3L1308.9 51.3L1310.0 51.4L1311.1 51.5L1312.2 51.4L1313.3 51.5L1314.4 51.4L1315.5 51.5L1316.6 51.5L1317.7 51.5L1318.8 51.6L1319.9 51.6L1321.0 51.7L1322.1 51.7L1323.2 51.7L1324.3 51.8L1325.4 51.9L1326.5 51.8L1327.6 51.9L1328.7 52.0L1329.8 51.8L1330.9 51.9L1332.0 52.0L1333.1 51.9L1334.2 52.1L1335.3 51.9L1336.4 52.1L1337.5 52.1L1338.6 52.1L1339.7 52.0L1340.8 52.1L1341.9 52.0L1343.0 52.1L1344.1 52.0L1345.2 52.1L1346.3 52.1L1347.4 52.0L1348.5 52.1L1349.6 52.1L1350.7 52.0L1351.8 52.2L1352.9 52.1L1354.0 52.0L1355.1 52.1L1356.2 52.1L1357.3 52.1L1358.4 52.2L1359.5 52.1L1360.6 52.2L1361.7 52.1L1362.8 52.2L1363.9 52.2L1365.0 52.2L1366.1 52.2L1367.2 52.2L1368.3 52.1L1369.4 52.2L1370.5 52.3L1371.6 52.3L1372.7 52.3L1373.8 52.3L1374.9 52.3L1376.0 52.3L1377.1 52.3L1378.2 52.4L1379.3 52.4L1380.4 52.3L1381.5 52.3L1382.6 52.4L1383.7 52.4L1384.8 52.4L1385.9 52.5L1387.0 52.4L1388.1 52.4L1389.2 52.4L1390.3 52.3L1391.4 52.5L1392.5 52.4L1393.6 52.4L1394.7 52.4L1395.8 52.5L1396.9 52.5L1398.0 52.5L1399.1 52.4L1400.2 52.5L1401.3 52.4L1402.4 52.5L1403.5 52.5L1404.6 52.5L1405.7 52.5L1406.8 52.4L1407.9 52.4L1409.0 52.3L1410.1 52.2L1411.2 52.2L1412.3 52.2L1413.4 52.0L1414.5 52.0L1415.6 51.9L1416.7 51.9L1417.8 51.8L1418.9 51.6L1420.0 51.5L1421.1 51.6L1422.2 51.4L1423.3 51.3L1424.4 51.3L1425.5 51.1L1426.6 51.0L1427.7 50.9L1428.8 50.8L1429.9 50.8L1431.0 50.7L1432.1 50.7L1433.1 50.6L1434.2 50.6L1435.3 50.3L1436.4 50.4L1437.5 50.3L1438.6 50.2L1439.7 50.2L1440.8 50.1L1441.9 50.1L1443.0 49.9L1444.1 49.9L1445.2 50.0L1446.3 49.8L1447.4 49.7L1448.5 49.7L1449.6 49.7L1450.7 49.6L1451.8 49.4L1452.9 49.5L1454.0 49.3L1455.1 49.2L1456.2 49.2L1457.3 49.1L1458.4 49.1L1459.5 49.0L1460.6 48.8L1461.7 48.8L1462.8 48.6L1463.9 48.5L1465.0 48.3L1466.1 48.1L1467.1 48.1L1468.2 47.9L1469.3 47.8L1470.4 47.6L1471.5 47.5L1472.6 47.3L1473.7 47.2L1474.8 46.8L1475.9 46.8L1476.9 46.7L1478.0 46.4L1479.1 46.2L1480.2 46.0L1481.3 45.9L1482.3 45.5L1483.4 45.3L1484.5 45.0L1485.5 44.8L1486.6 44.6L1487.7 44.4L1488.8 44.1L1489.8 43.8L1490.9 43.6L1492.0 43.3L1493.1 43.2L1494.2 43.0L1495.2 42.7L1496.3 42.6L1497.4 42.3L1498.5 42.0L1499.5 41.8L1500.6 41.5L1501.6 41.2L1502.7 40.9L1503.8 40.6L1504.8 40.3L1505.8 39.8L1506.9 39.5L1507.9 39.3L1509.0 38.7L1510.0 38.6L1511.1 38.4L1512.2 38.2L1513.3 38.0L1514.4 38.0L1515.5 37.8L1516.6 37.8L1517.7 37.7L1518.8 37.5L1519.9 37.5L1521.0 37.4L1522.1 37.4L1523.2 37.3L1524.3 37.2L1525.4 37.2L1526.5 37.2L1527.6 37.2L1528.7 37.1L1529.8 37.1L1530.9 37.1L1532.0 37.1L1533.1 37.1L1534.2 37.1L1535.3 37.1L1536.4 37.2L1537.5 37.2L1538.6 37.2L1539.7 37.4L1540.8 37.3L1541.9 37.5L1543.0 37.4L1544.1 37.4L1545.2 37.4L1546.3 37.4L1547.3 37.7L1548.4 38.0L1549.5 38.4L1550.5 38.5L1551.6 39.0L1552.6 39.2L1553.7 39.6L1554.7 39.8L1555.8 40.3L1556.8 40.5L1557.9 40.8L1559.0 41.0L1560.1 41.2L1561.1 41.4L1562.2 41.6L1563.3 41.8L1564.4 42.0L1565.5 42.1L1566.6 42.2L1567.7 42.3L1568.8 42.4L1569.9 42.7L1570.9 42.8L1572.0 42.9L1573.1 43.0L1574.2 43.2L1575.3 43.3L1576.4 43.4L1577.5 43.5L1578.6 43.8L1579.7 43.8L1580.8 43.9L1581.9 44.0L1583.0 44.2L1584.1 44.3L1585.2 44.5L1586.2 44.5L1587.3 44.6L1588.4 44.7L1589.5 44.8L1590.6 45.0L1591.7 45.1L1592.8 45.3L1593.9 45.2L1595.0 45.3L1596.1 45.5L1597.2 45.5L1598.3 45.5L1599.4 45.6L1600.5 45.8L1601.6 45.9L1602.7 45.9L1603.8 46.1L1604.9 46.2L1606.0 46.2L1607.1 46.3L1608.2 46.3L1609.3 46.4L1610.4 46.5L1611.5 46.5L1612.6 46.6L1613.7 46.6L1614.8 46.6L1615.9 46.6L1617.0 46.7L1618.1 46.7L1619.2 46.8L1620.3 46.7L1621.4 46.7L1622.5 46.7L1623.6 46.7L1624.7 46.6L1625.8 46.6L1626.9 46.6L1628.0 46.5L1629.1 46.6L1630.2 46.6L1631.3 46.5L1632.4 46.6L1633.5 46.5L1634.6 46.4L1635.7 46.4L1636.8 46.4L1637.9 46.4L1639.0 46.3L1640.1 46.4L1641.2 46.3L1642.3 46.2L1643.4 46.1L1644.4 45.9L1645.5 45.9L1646.6 45.8L1647.7 45.8L1648.8 45.6L1649.9 45.6L1651.0 45.4L1652.1 45.2L1653.2 45.0L1654.3 44.9L1655.4 44.8L1656.5 44.6L1657.6 44.4L1658.6 44.3L1659.7 44.2L1660.8 43.9L1661.9 43.7L1663.0 43.5L1664.0 43.2L1665.1 43.1L1666.2 42.8L1667.3 42.6L1668.3 42.4L1669.4 42.2L1670.5 41.8L1671.6 41.6L1672.6 41.4L1673.7 41.2L1674.8 41.0L1675.9 40.8L1677.0 40.7L1678.1 40.5L1679.2 40.4L1680.3 40.3L1681.3 40.1L1682.4 40.0L1683.5 39.8L1684.6 39.8L1685.7 39.6L1686.8 39.4L1687.9 39.2L1689.0 39.1L1690.1 38.9L1691.2 38.8L1692.2 38.6L1693.3 38.3L1694.4 38.2L1695.5 38.0L1696.0 37.9" stroke="#0078b8"/>
<path d="M207.7 799.3L208.8 800.4L209.9 799.7L211.0 799.6L212.1 799.8L213.2 800.4L214.2 801.0L215.3 801.2L216.4 801.0L217.5 800.5L218.6 800.9L219.7 800.9L220.8 801.3L221.9 800.8L223.0 801.7L224.1 802.1L225.2 801.9L226.2 802.3L227.3 801.8L228.4 801.7L229.5 802.2L230.6 803.0L231.7 803.1L232.8 802.6L233.9 803.4L235.0 802.9L236.1 803.8L237.2 803.5L238.3 803.2L239.4 803.8L240.5 803.2L241.6 803.3L242.7 803.2L243.8 804.0L244.9 803.9L245.9 804.0L247.0 804.0L248.1 804.8L249.2 804.1L250.3 804.1L251.4 805.0L252.5 805.2L253.6 804.8L254.7 804.0L255.8 804.6L256.9 805.2L258.0 805.0L259.1 805.7L260.2 804.6L261.3 805.5L262.4 805.0L263.5 805.9L264.6 805.4L265.7 806.0L266.8 805.3L267.9 805.1L269.0 805.3L270.1 805.6L271.2 805.4L272.3 806.4L273.4 806.6L274.5 806.2L275.6 805.7L276.7 806.1L277.8 806.0L278.9 806.9L280.0 806.5L281.1 806.6L282.2 806.3L283.3 805.7L284.4 806.2L285.5 806.1L286.6 806.8L287.7 806.7L288.8 806.4L289.9 806.6L291.0 807.5L292.1 806.5L293.2 806.6L294.3 806.9L295.4 806.8L296.5 806.9L297.6 807.4L298.7 807.9L299.7 806.5L300.8 807.3L301.9 807.3L303.0 807.3L304.1 807.3L305.2 807.3L306.3 807.9L307.4 807.3L308.5 807.5L309.6 807.6L310.7 807.7L311.8 807.6L312.9 808.1L314.0 807.7L315.1 807.8L316.2 807.7L317.3 807.3L318.4 807.4L319.5 807.3L320.6 807.9L321.7 807.5L322.8 807.4L323.9 807.9L325.0 808.1L326.1 807.1L327.2 808.6L328.3 807.9L329.4 807.8L330.5 808.3L331.6 807.9L332.7 807.6L333.8 808.8L334.9 807.5L336.0 807.9L337.1 808.3L338.2 807.5L339.3 807.9L340.4 808.1L341.5 809.0L342.6 807.6L343.7 807.9L344.8 808.2L345.9 808.0L347.0 807.5L348.1 808.2L349.2 808.0L350.3 808.2L351.4 808.5L352.5 808.4L353.6 808.2L354.7 808.1L355.8 807.5L356.9 807.9L358.0 808.1L359.1 807.8L360.2 808.0L361.3 807.6L362.4 808.6L363.5 808.9L364.6 807.8L365.7 808.1L366.8 807.9L367.9 808.5L369.0 808.1L370.1 807.9L371.2 807.8L372.3 807.9L373.4 807.4L374.5 808.1L375.6 807.5L376.7 808.0L377.8 807.8L378.9 808.2L380.0 807.7L381.1 808.1L382.2 807.3L383.3 807.9L384.4 807.5L385.5 807.7L386.6 807.6L387.7 807.9L388.8 806.7L389.9 807.6L391.0 806.8L392.1 807.9L393.2 806.6L394.3 806.9L395.4 806.6L396.5 808.0L397.6 806.7L398.7 807.3L399.8 806.9L400.9 806.4L402.0 806.9L403.1 807.3L404.2 806.9L405.3 807.3L406.4 806.7L407.5 806.8L408.6 806.5L409.7 806.8L410.8 807.3L411.9 806.6L413.0 806.5L414.1 806.0L415.2 805.9L416.3 806.7L417.4 805.6L418.5 805.6L419.6 805.8L420.7 805.6L421.8 806.5L422.9 804.6L424.0 805.7L425.1 805.7L426.2 804.9L427.3 805.0L428.4 805.3L429.5 805.7L430.5 804.6L431.6 804.2L432.7 805.2L433.8 805.4L434.9 804.5L436.0 803.6L437.1 805.1L438.2 804.3L439.3 804.8L440.4 804.2L441.5 803.9L442.6 803.8L443.7 804.5L444.8 804.4L445.9 802.8L447.0 803.3L448.1 804.3L449.2 803.3L450.3 802.8L451.4 803.3L452.5 803.1L453.6 803.0L454.7 802.8L455.8 802.8L456.9 802.6L458.0 802.8L459.1 802.3L460.1 802.4L461.2 802.4L462.3 802.9L463.4 802.4L464.5 802.1L465.6 802.3L466.7 802.1L467.8 802.3L468.9 802.0L470.0 802.4L471.1 802.1L472.2 801.4L473.3 801.2L474.4 801.6L475.5 801.4L476.6 801.0L477.7 800.4L478.8 800.1L479.9 800.9L481.0 801.0L482.1 800.9L483.2 800.0L484.3 800.8L485.4 800.1L486.4 800.4L487.5 800.3L488.6 799.7L489.7 799.7L490.8 798.9L491.9 799.3L493.0 798.9L494.1 799.7L495.2 799.4L496.3 799.7L497.4 799.4L498.5 798.9L499.6 799.2L500.7 798.8L501.8 799.1L502.9 798.9L504.0 798.2L505.1 798.6L506.2 798.5L507.3 798.2L508.4 798.7L509.5 798.9L510.6 797.9L511.7 797.9L512.7 797.0L513.8 797.8L514.9 797.6L516.0 796.7L517.1 797.7L518.2 797.7L519.3 797.1L520.4 797.1L521.5 796.8L522.6 797.4L523.7 796.4L524.8 796.8L525.9 797.7L527.0 796.8L528.1 796.9L529.2 796.5L530.3 796.0L531.4 796.4L532.5 796.5L533.6 795.8L534.7 796.3L535.8 796.6L536.9 796.4L538.0 795.2L539.1 795.4L540.2 795.0L541.3 796.1L542.4 795.8L543.4 795.8L544.5 795.0L545.6 794.8L546.7 795.3L547.8 795.2L548.9 794.7L550.0 795.0L551.1 795.2L552.2 794.9L553.3 794.3L554.4 793.8L555.5 794.5L556.6 794.6L557.7 794.3L558.8 794.2L559.9 794.0L561.0 794.5L562.1 794.1L563.2 794.1L564.3 793.6L565.4 793.7L566.5 793.9L567.6 793.3L568.7 793.2L569.8 793.5L570.9 794.1L572.0 793.6L573.1 794.0L574.2 793.3L575.3 793.1L576.4 792.6L577.5 792.9L578.6 793.7L579.7 793.1L580.8 793.2L581.9 793.2L583.0 792.8L584.1 792.7L585.2 792.7L586.3 792.9L587.4 792.8L588.5 792.7L589.5 792.5L590.6 792.1L591.7 792.2L592.8 791.9L593.9 792.6L595.0 791.3L596.1 792.0L597.2 793.1L598.3 791.8L599.4 791.5L600.5 791.9L601.6 792.3L602.7 791.7L603.8 791.9L604.9 791.7L606.0 791.4L607.1 792.8L608.2 791.5L609.3 791.1L610.4 791.1L611.5 791.4L612.6 791.3L613.7 791.4L614.8 791.1L615.9 790.3L617.0 791.1L618.1 790.7L619.2 790.6L620.3 790.0L621.4 790.3L622.5 790.2L623.6 790.4L624.7 789.7L625.8 790.3L626.9 790.2L628.0 789.6L629.1 789.8L630.2 789.6L631.3 790.2L632.4 788.7L633.5 789.5L634.6 788.9L635.7 789.3L636.7 789.7L637.8 789.0L638.9 789.2L640.0 788.7L641.1 789.8L642.2 789.3L643.3 789.3L644.4 788.1L645.5 788.1L646.6 788.9L647.7 788.3L648.8 788.2L649.9 788.3L651.0 787.5L652.1 788.3L653.2 787.9L654.3 787.9L655.4 787.3L656.5 787.7L657.6 787.1L658.6 787.7L659.7 787.6L660.8 787.4L661.9 787.1L663.0 787.1L664.1 785.5L665.2 786.9L666.3 786.3L667.4 786.3L668.5 786.0L669.6 785.5L670.7 785.7L671.8 786.1L672.9 786.2L673.9 785.3L675.0 785.0L676.1 785.9L677.2 784.8L678.3 785.9L679.4 784.9L680.5 784.4L681.6 785.1L682.7 785.2L683.8 783.8L684.9 784.9L686.0 784.0L687.1 784.6L688.2 783.7L689.2 783.1L690.3 783.8L691.4 783.9L692.5 784.2L693.6 783.9L694.7 783.4L695.8 782.8L696.9 782.6L698.0 782.5L699.1 782.1L700.2 782.2L701.2 781.1L702.3 782.1L703.4 781.9L704.5 782.8L705.6 781.9L706.7 781.2L707.8 781.5L708.9 780.5L709.9 780.6L711.0 779.9L712.1 781.1L713.2 780.6L714.3 779.6L715.4 779.9L716.4 780.2L717.5 779.8L718.6 779.5L719.7 778.8L720.8 778.7L721.9 778.8L722.9 779.0L724.0 778.0L725.1 777.7L726.2 778.4L727.3 777.4L728.3 778.0L729.4 777.4L730.5 777.5L731.6 777.6L732.7 776.9L733.7 776.8L734.8 775.8L735.9 775.7L737.0 776.0L738.0 776.1L739.1 775.8L740.2 776.0L741.2 774.9L742.3 774.6L743.4 774.7L744.4 774.0L745.5 773.7L746.6 773.0L747.6 773.6L748.7 772.4L749.8 772.8L750.8 771.7L751.9 772.5L752.9 771.3L754.0 771.8L755.1 770.5L756.1 770.6L757.2 771.0L758.2 769.9L759.3 769.9L760.3 769.3L761.4 768.3L762.4 769.0L763.5 768.7L764.5 767.7L765.6 768.1L766.6 767.2L767.6 766.7L768.7 766.8L769.7 766.2L770.8 767.0L771.8 765.1L772.8 765.7L773.9 765.4L774.9 763.8L775.9 763.5L777.0 764.1L778.0 763.2L779.0 763.2L780.0 763.1L781.1 762.1L782.1 761.4L783.1 760.3L784.1 761.2L785.2 760.3L786.2 760.4L787.2 759.9L788.2 758.8L789.2 759.7L790.2 759.0L791.3 758.5L792.3 757.2L793.3 757.1L794.3 756.6L795.3 756.2L796.3 755.5L797.3 755.7L798.3 755.2L799.3 754.8L800.3 753.9L801.3 754.2L802.3 753.3L803.3 751.6L804.2 752.0L805.2 751.7L806.2 751.6L807.2 750.6L808.2 750.1L809.1 749.4L810.1 749.4L811.0 748.4L812.0 747.8L812.9 747.2L813.9 747.2L814.8 746.2L815.8 745.2L816.7 745.6L817.6 744.4L818.6 744.3L819.5 743.7L820.4 743.4L821.3 742.8L822.2 741.5L823.1 741.0L824.0 739.9L824.9 740.5L825.8 739.4L826.7 739.1L827.6 737.7L828.4 736.3L829.3 737.2L830.2 735.9L831.0 735.2L831.9 734.5L832.7 734.1L833.6 733.3L834.4 731.7L835.3 732.1L836.1 730.7L836.9 730.1L837.8 730.2L838.6 729.2L839.4 727.9L840.2 726.5L841.0 726.6L841.8 726.0L842.6 725.0L843.4 723.8L844.2 723.2L844.9 722.2L845.7 722.1L846.5 721.5L847.3 720.8L848.0 719.3L848.8 718.9L849.5 718.3L850.3 717.0L851.0 716.4L851.8 716.5L852.5 714.9L853.3 714.4L854.0 713.0L854.8 712.4L855.5 710.8L856.2 710.7L856.9 710.4L857.7 709.9L858.4 708.7L859.1 707.7L859.8 706.6L860.5 705.5L861.2 704.8L862.0 704.3L862.7 702.9L863.4 702.8L864.1 701.1L864.8 699.9L865.5 699.4L866.2 698.3L866.9 697.5L867.5 697.7L868.2 696.3L868.9 695.6L869.6 695.2L870.3 694.3L871.0 692.7L871.6 692.6L872.3 691.4L873.0 690.3L873.6 689.7L874.3 688.0L875.0 687.4L875.6 686.8L876.3 686.2L876.9 684.9L877.6 684.1L878.2 683.7L878.9 683.0L879.5 681.8L880.2 681.2L880.8 679.6L881.4 678.7L882.1 678.1L882.7 676.9L883.3 675.9L884.0 675.9L884.6 674.2L885.2 673.0L885.9 672.7L886.5 672.4L887.1 670.7L887.7 670.3L888.3 668.7L888.9 667.8L889.5 666.8L890.2 666.1L890.8 666.0L891.4 663.8L892.0 664.1L892.6 662.0L893.2 661.4L893.7 661.0L894.3 659.9L894.9 658.9L895.5 657.1L896.1 657.0L896.7 655.5L897.2 656.1L897.8 654.0L898.4 653.2L898.9 651.7L899.5 651.0L900.1 649.8L900.6 649.8L901.2 648.3L901.7 647.7L902.3 646.2L902.8 645.3L903.4 645.1L903.9 643.2L904.4 641.9L904.9 641.9L905.5 640.2L906.0 639.6L906.5 639.2L907.0 637.5L907.5 637.2L908.1 635.6L908.6 635.5L909.1 634.5L909.6 632.7L910.1 631.9L910.6 630.6L911.1 630.1L911.6 629.5L912.0 627.4L912.5 627.4L913.0 625.5L913.5 624.7L914.0 623.3L914.5 624.0L915.0 622.1L915.5 621.2L915.9 619.9L916.4 619.6L916.9 617.3L917.4 617.2L917.9 617.1L918.3 615.0L918.8 614.2L919.3 613.5L919.8 611.9L920.3 611.2L920.7 610.6L921.2 609.3L921.7 608.4L922.2 607.1L922.7 606.4L923.1 605.3L923.6 604.9L924.1 603.6L924.6 602.2L925.0 600.3L925.5 600.6L926.0 599.7L926.5 598.0L926.9 596.5L927.4 595.9L927.9 595.8L928.3 593.9L928.8 593.2L929.3 592.5L929.7 591.9L930.2 590.4L930.7 589.3L931.1 588.2L931.6 588.1L932.1 586.8L932.5 585.4L933.0 583.8L933.4 583.1L933.9 582.6L934.3 581.1L934.8 580.8L935.2 579.5L935.7 578.5L936.1 577.6L936.6 576.6L937.0 575.0L937.4 574.2L937.9 574.3L938.3 571.8L938.8 571.1L939.2 570.8L939.6 569.2L940.1 567.9L940.5 566.7L940.9 566.5L941.4 565.7L941.8 564.8L942.2 563.3L942.7 562.7L943.1 560.8L943.5 560.3L943.9 558.9L944.4 558.2L944.8 557.5L945.2 556.6L945.6 554.7L946.1 554.6L946.5 552.9L946.9 551.7L947.4 551.0L947.8 549.4L948.2 549.0L948.6 548.2L949.1 546.9L949.5 546.2L949.9 544.9L950.4 544.0L950.8 542.4L951.2 542.0L951.7 540.6L952.1 539.7L952.5 538.9L953.0 538.0L953.4 536.2L953.8 535.2L954.3 534.8L954.7 534.1L955.1 533.0L955.6 532.2L956.0 531.4L956.4 530.0L956.9 528.8L957.3 527.4L957.7 526.4L958.2 525.6L958.6 524.9L959.0 523.8L959.4 522.7L959.9 521.7L960.3 521.0L960.7 519.8L961.1 518.8L961.5 517.8L961.9 516.4L962.4 515.2L962.8 514.8L963.2 513.7L963.6 512.5L964.0 511.4L964.4 511.5L964.8 509.2L965.2 508.4L965.6 507.5L966.0 505.9L966.4 505.4L966.8 505.1L967.2 503.7L967.6 502.6L968.0 501.5L968.4 500.3L968.8 499.6L969.2 498.1L969.6 497.0L970.0 496.2L970.4 495.5L970.8 494.2L971.2 493.4L971.6 491.2L972.0 491.5L972.4 491.0L972.8 489.5L973.2 487.8L973.5 486.6L973.9 486.0L974.3 484.5L974.7 484.1L975.1 482.6L975.5 482.2L975.9 481.3L976.3 478.9L976.7 478.8L977.1 477.4L977.5 476.1L977.9 475.4L978.3 474.5L978.7 474.0L979.0 471.9L979.4 471.9L979.8 471.3L980.2 469.7L980.6 468.6L981.0 467.4L981.4 465.9L981.7 465.5L982.1 464.4L982.5 463.5L982.9 463.2L983.2 461.5L983.6 460.3L984.0 459.7L984.4 457.6L984.7 456.6L985.1 455.9L985.4 454.7L985.8 454.2L986.2 452.8L986.5 452.5L986.9 451.4L987.2 450.1L987.6 448.6L988.0 447.9L988.3 446.9L988.7 445.2L989.0 444.7L989.4 443.8L989.7 442.6L990.1 442.0L990.4 440.8L990.8 439.1L991.1 438.4L991.5 437.0L991.8 436.4L992.2 434.9L992.5 434.5L992.9 433.2L993.2 432.4L993.5 430.9L993.9 429.4L994.2 429.5L994.6 427.8L994.9 427.3L995.3 425.9L995.6 425.0L995.9 424.3L996.3 422.8L996.6 422.1L997.0 420.0L997.3 419.8L997.6 418.4L998.0 417.4L998.3 416.4L998.6 415.4L999.0 414.8L999.3 412.6L999.7 412.2L1000.0 410.9L1000.3 410.5L1000.7 408.9L1001.0 408.1L1001.3 406.8L1001.7 406.1L1002.0 405.2L1002.3 403.7L1002.6 402.7L1003.0 401.2L1003.3 400.7L1003.6 399.9L1004.0 398.4L1004.3 397.8L1004.6 395.8L1005.0 394.8L1005.3 393.9L1005.6 393.1L1005.9 392.2L1006.3 391.2L1006.6 390.1L1006.9 389.3L1007.2 387.9L1007.6 386.6L1007.9 385.5L1008.2 385.5L1008.5 383.1L1008.9 382.7L1009.2 382.2L1009.5 380.8L1009.8 379.4L1010.2 378.6L1010.5 377.8L1010.8 376.8L1011.1 375.1L1011.5 374.6L1011.8 373.4L1012.1 372.6L1012.4 371.6L1012.8 370.1L1013.1 368.7L1013.4 368.2L1013.7 367.5L1014.1 366.2L1014.4 365.0L1014.7 364.6L1015.0 362.5L1015.4 362.0L1015.7 360.5L1016.0 359.7L1016.3 358.6L1016.7 358.0L1017.0 356.2L1017.3 355.3L1017.6 354.0L1018.0 353.5L1018.3 352.2L1018.6 351.4L1018.9 349.9L1019.3 349.0L1019.6 348.4L1019.9 347.0L1020.2 346.2L1020.6 345.1L1020.9 343.8L1021.2 342.4L1021.6 342.1L1021.9 340.8L1022.2 340.0L1022.5 338.1L1022.9 337.2L1023.2 336.0L1023.5 335.3L1023.9 334.7L1024.2 333.6L1024.5 332.4L1024.9 331.3L1025.2 330.5L1025.5 329.1L1025.9 328.3L1026.2 327.2L1026.6 325.5L1026.9 324.9L1027.2 324.3L1027.6 322.8L1027.9 321.9L1028.3 320.7L1028.6 319.7L1028.9 319.0L1029.3 317.6L1029.6 316.4L1029.9 314.8L1030.3 314.4L1030.6 313.0L1031.0 312.0L1031.3 311.6L1031.6 310.5L1032.0 308.9L1032.3 308.5L1032.6 307.3L1033.0 306.0L1033.3 305.3L1033.6 303.7L1033.9 302.7L1034.3 301.6L1034.6 300.7L1034.9 300.1L1035.3 298.5L1035.6 297.5L1035.9 296.5L1036.2 295.7L1036.6 294.6L1036.9 293.8L1037.2 292.4L1037.5 291.2L1037.9 290.3L1038.2 289.4L1038.5 288.1L1038.8 287.3L1039.1 286.6L1039.5 285.0L1039.8 284.1L1040.1 283.4L1040.5 281.9L1040.8 280.8L1041.1 279.7L1041.4 278.9L1041.8 277.9L1042.1 276.7L1042.4 275.7L1042.7 274.9L1043.1 273.8L1043.4 272.3L1043.7 271.5L1044.1 270.5L1044.4 269.6L1044.7 268.3L1045.1 267.2L1045.4 266.2L1045.7 264.9L1046.1 264.2L1046.4 263.0L1046.7 262.2L1047.1 260.8L1047.4 259.9L1047.7 258.7L1048.1 257.7L1048.4 257.0L1048.7 255.7L1049.1 254.8L1049.4 253.5L1049.7 252.7L1050.1 251.3L1050.4 250.5L1050.7 249.4L1051.1 248.6L1051.4 247.4L1051.7 246.3L1052.1 245.5L1052.4 244.3L1052.7 243.3L1053.0 242.3L1053.4 241.1L1053.7 240.0L1054.0 239.1L1054.4 237.9L1054.7 237.0L1055.0 236.0L1055.3 234.9L1055.7 233.7L1056.0 232.5L1056.3 231.6L1056.6 230.6L1057.0 229.7L1057.3 228.4L1057.6 227.4L1057.9 226.5L1058.3 225.3L1058.6 224.3L1058.9 223.5L1059.2 222.4L1059.5 221.2L1059.9 220.1L1060.2 218.9L1060.5 218.1L1060.8 216.9L1061.1 215.9L1061.5 214.7L1061.8 213.8L1062.1 212.7L1062.4 211.7L1062.7 210.8L1063.1 209.6L1063.4 208.3L1063.7 207.3L1064.0 206.2L1064.3 205.2L1064.7 204.4L1065.0 203.3L1065.3 202.1L1065.6 201.2L1065.9 200.0L1066.2 198.8L1066.6 197.8L1066.9 196.8L1067.2 196.1L1067.5 194.6L1067.8 193.9L1068.2 192.9L1068.5 191.6L1068.8 190.6L1069.1 189.5L1069.4 188.5L1069.8 187.5L1070.1 186.4L1070.4 185.5L1070.8 184.5L1071.1 183.3L1071.4 182.3L1071.8 181.2L1072.1 180.2L1072.5 179.0L1072.8 178.1L1073.2 177.0L1073.6 175.9L1073.9 175.2L1074.3 173.8L1074.7 172.8L1075.0 171.9L1075.4 170.6L1075.8 169.7L1076.2 168.6L1076.6 167.6L1077.0 166.7L1077.4 165.7L1077.8 164.8L1078.2 163.7L1078.6 162.7L1079.0 161.7L1079.4 160.5L1079.9 159.7L1080.3 158.5L1080.7 157.5L1081.1 156.7L1081.5 155.6L1082.0 154.5L1082.4 153.5L1082.8 152.5L1083.2 151.3L1083.6 150.4L1084.1 149.3L1084.5 148.4L1084.9 147.3L1085.3 146.5L1085.7 145.4L1086.1 144.2L1086.5 143.3L1086.9 142.2L1087.3 141.2L1087.7 140.3L1088.2 139.2L1088.6 138.0L1089.0 137.1L1089.4 136.2L1089.8 135.1L1090.2 134.2L1090.6 133.0L1091.0 132.1L1091.4 131.0L1091.9 130.0L1092.3 129.0L1092.7 128.0L1093.2 126.9L1093.6 126.0L1094.0 124.9L1094.5 123.9L1094.9 123.0L1095.4 122.0L1095.8 120.9L1096.3 119.9L1096.8 119.0L1097.2 118.1L1097.7 117.1L1098.2 116.0L1098.7 114.9L1099.2 114.0L1099.7 113.1L1100.2 112.1L1100.7 111.1L1101.2 110.1L1101.7 109.3L1102.2 108.3L1102.8 107.2L1103.3 106.2L1103.9 105.4L1104.4 104.4L1105.0 103.5L1105.5 102.6L1106.1 101.5L1106.7 100.6L1107.3 99.7L1107.8 98.8L1108.4 97.9L1109.0 97.0L1109.6 96.0L1110.3 95.1L1110.9 94.3L1111.5 93.3L1112.1 92.4L1112.8 91.6L1113.4 90.6L1114.1 89.8L1114.8 88.9L1115.4 88.0L1116.1 87.1L1116.8 86.4L1117.5 85.5L1118.2 84.6L1119.0 83.8L1119.7 83.0L1120.4 82.2L1121.2 81.4L1121.9 80.8L1122.7 79.9L1123.5 79.1L1124.2 78.2L1125.0 77.6L1125.8 76.8L1126.6 76.1L1127.5 75.4L1128.3 74.7L1129.1 74.0L1130.0 73.3L1130.8 72.5L1131.7 72.0L1132.6 71.2L1133.4 70.6L1134.3 70.0L1135.2 69.4L1136.1 68.8L1137.1 68.3L1138.0 67.7L1138.9 67.1L1139.9 66.6L1140.8 66.1L1141.8 65.4L1142.7 65.0L1143.7 64.5L1144.7 64.0L1145.7 63.5L1146.7 63.1L1147.6 62.7L1148.6 62.3L1149.7 61.7L1150.7 61.4L1151.7 61.1L1152.7 60.7L1153.7 60.3L1154.8 59.9L1155.8 59.5L1156.8 59.2L1157.9 58.9L1158.9 58.7L1160.0 58.3L1161.1 58.0L1162.1 57.8L1163.2 57.4L1164.2 57.2L1165.3 57.1L1166.4 56.9L1167.4 56.5L1168.5 56.4L1169.6 56.1L1170.7 55.9L1171.8 55.6L1172.8 55.6L1173.9 55.4L1175.0 55.3L1176.1 55.1L1177.2 54.9L1178.3 54.7L1179.4 54.7L1180.5 54.4L1181.5 54.3L1182.6 54.1L1183.7 54.1L1184.8 54.0L1185.9 53.8L1187.0 53.7L1188.1 53.6L1189.2 53.5L1190.3 53.4L1191.4 53.3L1192.5 53.2L1193.6 53.0L1194.7 53.0L1195.8 52.8L1196.9 52.8L1198.0 52.8L1199.1 52.7L1200.1 52.6L1201.2 52.6L1202.3 52.4L1203.4 52.4L1204.5 52.4L1205.6 52.4L1206.7 52.3L1207.8 52.3L1208.9 52.3L1210.0 52.1L1211.1 52.1L1212.2 52.0L1213.3 51.9L1214.4 52.0L1215.5 51.9L1216.6 51.9L1217.7 51.8L1218.8 51.8L1219.9 51.8L1221.0 51.8L1222.1 51.7L1223.2 51.6L1224.3 51.7L1225.4 51.6L1226.5 51.6L1227.6 51.5L1228.7 51.6L1229.8 51.5L1230.9 51.5L1232.0 51.3L1233.1 51.3L1234.2 51.3L1235.3 51.3L1236.4 51.3L1237.5 51.2L1238.6 51.3L1239.7 51.2L1240.8 51.2L1241.9 51.2L1243.0 51.0L1244.1 51.1L1245.2 51.1L1246.3 51.0L1247.4 51.1L1248.5 51.0L1249.6 51.0L1250.7 51.0L1251.8 50.9L1252.9 51.0L1254.0 51.0L1255.1 51.0L1256.2 51.0L1257.3 50.9L1258.4 50.9L1259.5 50.9L1260.6 51.1L1261.7 51.0L1262.8 51.0L1263.9 50.9L1265.0 51.0L1266.1 51.0L1267.2 51.0L1268.3 50.9L1269.4 51.1L1270.5 51.0L1271.6 51.0L1272.7 51.1L1273.8 51.0L1274.9 51.0L1276.0 51.0L1277.1 51.0L1278.2 51.0L1279.3 51.0L1280.4 51.0L1281.5 51.0L1282.6 51.0L1283.7 51.0L1284.8 51.1L1285.9 50.9L1287.0 51.0L1288.1 51.1L1289.2 51.0L1290.3 50.9L1291.4 51.1L1292.5 51.0L1293.6 50.9L1294.7 51.0L1295.8 50.9L1296.9 50.9L1298.0 51.0L1299.1 51.0L1300.2 50.9L1301.3 51.0L1302.4 51.0L1303.5 51.0L1304.6 51.0L1305.7 51.1L1306.8 51.0L1307.9 51.0L1309.0 51.0L1310.1 51.1L1311.2 51.2L1312.3 51.2L1313.4 51.2L1314.5 51.3L1315.6 51.2L1316.7 51.4L1317.8 51.4L1318.9 51.5L1320.0 51.5L1321.1 51.5L1322.2 51.5L1323.3 51.5L1324.4 51.6L1325.5 51.7L1326.6 51.9L1327.7 51.7L1328.8 51.7L1329.9 51.7L1331.0 51.8L1332.1 51.7L1333.2 51.7L1334.3 51.8L1335.4 51.7L1336.5 51.9L1337.6 51.9L1338.7 51.8L1339.8 51.8L1340.9 51.8L1342.0 51.8L1343.1 51.9L1344.2 51.9L1345.3 51.9L1346.4 51.9L1347.5 51.9L1348.6 51.9L1349.7 51.8L1350.8 51.9L1351.9 52.0L1353.0 52.0L1354.1 51.9L1355.2 51.9L1356.3 52.0L1357.4 52.0L1358.5 51.9L1359.6 51.9L1360.7 52.0L1361.8 52.0L1362.9 51.9L1364.0 52.0L1365.1 52.0L1366.2 52.1L1367.3 52.0L1368.4 52.0L1369.5 52.0L1370.6 52.1L1371.7 52.1L1372.8 52.0L1373.9 52.1L1375.0 52.0L1376.1 52.0L1377.2 52.0L1378.3 52.0L1379.4 52.1L1380.5 52.1L1381.6 52.2L1382.7 52.2L1383.8 52.2L1384.9 52.1L1386.0 52.2L1387.1 52.1L1388.2 52.1L1389.3 52.3L1390.4 52.3L1391.5 52.3L1392.6 52.3L1393.7 52.2L1394.8 52.3L1395.9 52.3L1397.0 52.2L1398.1 52.3L1399.2 52.2L1400.3 52.2L1401.4 52.3L1402.5 52.3L1403.6 52.2L1404.7 52.2L1405.8 52.2L1406.9 52.2L1408.0 52.1L1409.1 52.1L1410.2 51.9L1411.3 51.9L1412.4 51.9L1413.5 51.9L1414.6 51.7L1415.7 51.7L1416.8 51.7L1417.9 51.5L1419.0 51.4L1420.1 51.4L1421.2 51.3L1422.3 51.3L1423.4 51.2L1424.5 51.0L1425.6 50.9L1426.7 50.9L1427.8 50.7L1428.9 50.6L1429.9 50.7L1431.0 50.5L1432.1 50.5L1433.2 50.4L1434.3 50.3L1435.4 50.3L1436.5 50.2L1437.6 50.2L1438.7 50.0L1439.8 50.0L1440.9 49.9L1442.0 50.0L1443.1 49.9L1444.2 49.7L1445.3 49.7L1446.4 49.6L1447.5 49.6L1448.6 49.5L1449.7 49.5L1450.8 49.3L1451.9 49.3L1453.0 49.2L1454.1 49.1L1455.2 49.1L1456.3 49.0L1457.4 48.9L1458.5 48.9L1459.6 48.6L1460.7 48.7L1461.8 48.5L1462.9 48.5L1464.0 48.3L1465.1 48.2L1466.2 48.0L1467.2 47.9L1468.3 47.7L1469.4 47.5L1470.5 47.5L1471.6 47.3L1472.7 47.2L1473.8 46.8L1474.9 46.8L1475.9 46.6L1477.0 46.3L1478.1 46.2L1479.2 46.1L1480.3 45.9L1481.3 45.5L1482.4 45.4L1483.5 45.1L1484.6 44.9L1485.6 44.6L1486.7 44.4L1487.8 44.1L1488.9 43.8L1489.9 43.7L1491.0 43.4L1492.1 43.3L1493.2 42.9L1494.2 42.6L1495.3 42.5L1496.4 42.3L1497.5 42.1L1498.5 41.8L1499.6 41.5L1500.7 41.3L1501.7 40.9L1502.8 40.7L1503.8 40.3L1504.9 40.0L1505.9 39.7L1507.0 39.2L1508.0 38.9L1509.1 38.6L1510.1 38.4L1511.2 38.2L1512.3 38.0L1513.4 37.8L1514.5 37.8L1515.6 37.6L1516.7 37.5L1517.8 37.4L1518.9 37.3L1520.0 37.3L1521.1 37.2L1522.2 37.1L1523.3 37.1L1524.4 37.1L1525.5 36.9L1526.6 36.9L1527.7 36.9L1528.8 36.9L1529.9 36.9L1531.0 36.9L1532.1 36.9L1533.2 37.0L1534.3 37.0L1535.4 37.0L1536.5 37.0L1537.6 37.0L1538.7 37.1L1539.8 37.1L1540.9 37.2L1542.0 37.1L1543.1 37.2L1544.2 37.2L1545.3 37.1L1546.3 37.3L1547.4 37.5L1548.5 37.8L1549.6 38.1L1550.6 38.5L1551.7 38.8L1552.7 39.0L1553.8 39.4L1554.8 39.8L1555.9 40.1L1556.9 40.3L1558.0 40.7L1559.1 40.8L1560.1 41.0L1561.2 41.2L1562.3 41.4L1563.4 41.6L1564.5 41.8L1565.6 41.9L1566.7 42.1L1567.8 42.1L1568.9 42.3L1569.9 42.5L1571.0 42.6L1572.1 42.9L1573.2 42.9L1574.3 43.0L1575.4 43.2L1576.5 43.3L1577.6 43.4L1578.7 43.5L1579.8 43.7L1580.9 43.8L1582.0 43.9L1583.1 44.0L1584.1 44.1L1585.2 44.3L1586.3 44.4L1587.4 44.3L1588.5 44.5L1589.6 44.6L1590.7 44.7L1591.8 44.9L1592.9 45.0L1594.0 45.1L1595.1 45.1L1596.2 45.2L1597.3 45.4L1598.4 45.4L1599.5 45.5L1600.6 45.6L1601.7 45.7L1602.8 45.6L1603.9 45.8L1605.0 45.9L1606.1 46.0L1607.2 46.1L1608.3 46.2L1609.4 46.2L1610.5 46.3L1611.6 46.4L1612.7 46.4L1613.8 46.4L1614.9 46.5L1616.0 46.5L1617.1 46.5L1618.2 46.5L1619.3 46.4L1620.4 46.4L1621.5 46.5L1622.6 46.5L1623.7 46.5L1624.8 46.4L1625.9 46.4L1627.0 46.4L1628.1 46.4L1629.1 46.3L1630.2 46.4L1631.3 46.3L1632.4 46.4L1633.5 46.2L1634.6 46.2L1635.7 46.3L1636.8 46.2L1637.9 46.1L1639.0 46.1L1640.1 46.0L1641.2 46.0L1642.3 45.9L1643.4 45.9L1644.5 45.8L1645.6 45.7L1646.7 45.7L1647.8 45.5L1648.9 45.5L1650.0 45.2L1651.1 45.0L1652.2 44.8L1653.3 44.9L1654.4 44.7L1655.5 44.5L1656.6 44.3L1657.6 44.2L1658.7 44.1L1659.8 43.9L1660.9 43.8L1662.0 43.5L1663.1 43.2L1664.1 43.1L1665.2 42.8L1666.3 42.6L1667.4 42.4L1668.4 42.1L1669.5 41.9L1670.6 41.6L1671.6 41.3L1672.7 41.2L1673.8 40.9L1674.9 40.8L1676.0 40.7L1677.1 40.5L1678.2 40.3L1679.2 40.2L1680.3 40.0L1681.4 39.9L1682.5 39.7L1683.6 39.6L1684.7 39.4L1685.8 39.3L1686.9 39.2L1688.0 39.0L1689.1 38.9L1690.2 38.7L1691.2 38.6L1692.3 38.3L1693.4 38.2L1694.5 38.0L1695.6 37.8L1696.0 37.6" stroke="#a0dc86"/>
<path d="M207.7 930.5L208.8 931.0L209.9 930.6L211.0 931.3L212.1 931.3L213.1 931.3L214.2 931.2L215.3 931.2L216.4 931.5L217.5 931.8L218.6 932.1L219.7 932.2L220.8 932.0L221.9 932.3L223.0 932.6L224.1 931.9L225.2 932.4L226.2 932.5L227.3 932.8L228.4 932.9L229.5 933.1L230.6 932.9L231.7 933.7L232.8 933.6L233.9 932.9L235.0 933.7L236.1 933.3L237.2 934.6L238.3 933.8L239.4 934.0L240.5 934.3L241.6 934.2L242.7 934.4L243.8 935.2L244.9 934.7L246.0 935.0L247.1 935.3L248.1 934.5L249.2 935.7L250.3 935.3L251.4 935.5L252.5 934.9L253.6 935.6L254.7 935.6L255.8 935.2L256.9 936.5L258.0 935.9L259.1 935.6L260.2 935.9L261.3 936.2L262.4 936.4L263.5 936.3L264.6 936.6L265.7 936.8L266.8 935.7L267.9 936.1L269.0 936.0L270.1 936.5L271.2 937.2L272.3 936.9L273.4 936.3L274.5 936.6L275.6 937.3L276.7 936.7L277.8 936.9L278.9 937.2L280.0 936.4L281.1 937.5L282.2 937.4L283.3 937.6L284.4 937.0L285.5 937.1L286.6 937.3L287.7 937.7L288.8 937.7L289.8 937.8L290.9 938.5L292.0 938.4L293.1 937.6L294.2 937.7L295.3 938.7L296.4 937.9L297.5 938.7L298.6 938.8L299.7 938.0L300.8 938.2L301.9 938.4L303.0 938.0L304.1 938.0L305.2 938.3L306.3 938.9L307.4 938.4L308.5 938.6L309.6 938.5L310.7 938.2L311.8 939.4L312.9 937.9L314.0 938.6L315.1 939.2L316.2 938.4L317.3 939.2L318.4 939.5L319.5 938.6L320.6 939.1L321.7 938.5L322.8 939.2L323.9 939.0L325.0 939.1L326.1 939.6L327.2 939.2L328.3 939.5L329.4 939.2L330.5 938.5L331.6 939.1L332.7 939.1L333.8 938.3L334.9 939.5L336.0 938.9L337.1 939.0L338.2 938.5L339.3 938.9L340.4 938.9L341.5 938.7L342.6 938.8L343.7 937.9L344.8 939.3L345.9 938.2L347.0 937.8L348.1 938.2L349.2 938.3L350.3 938.8L351.4 938.1L352.5 938.6L353.6 938.0L354.7 939.3L355.8 938.5L356.9 939.0L358.0 937.7L359.1 938.3L360.2 937.6L361.3 938.1L362.4 938.1L363.5 937.1L364.6 937.2L365.7 937.1L366.8 936.9L367.9 937.1L369.0 936.9L370.1 936.7L371.2 937.2L372.3 937.4L373.4 936.5L374.5 936.8L375.6 936.9L376.7 936.8L377.8 936.5L378.9 937.1L380.0 937.0L381.0 936.9L382.1 936.4L383.2 937.3L384.3 937.1L385.4 936.1L386.5 936.2L387.6 936.6L388.7 935.7L389.8 936.2L390.9 935.9L392.0 935.5L393.1 935.7L394.2 935.0L395.3 935.4L396.4 934.7L397.5 936.4L398.6 935.9L399.7 935.7L400.8 935.2L401.9 935.4L403.0 935.4L404.1 935.2L405.2 935.1L406.3 934.2L407.4 934.7L408.5 934.1L409.6 933.8L410.6 933.7L411.7 934.2L412.8 934.3L413.9 933.2L415.0 934.4L416.1 934.2L417.2 933.3L418.3 933.1L419.4 933.2L420.5 933.5L421.6 932.8L422.7 932.4L423.8 932.9L424.9 931.8L426.0 932.6L427.1 932.9L428.2 932.5L429.2 932.5L430.3 932.3L431.4 932.3L432.5 931.9L433.6 931.4L434.7 931.6L435.8 931.5L436.9 932.0L438.0 932.0L439.1 931.4L440.2 930.8L441.3 930.7L442.4 930.8L443.5 931.3L444.6 930.8L445.7 930.5L446.8 930.1L447.8 930.6L448.9 930.2L450.0 930.0L451.1 929.9L452.2 930.4L453.3 929.5L454.4 930.1L455.5 929.8L456.6 929.2L457.7 929.4L458.8 928.8L459.8 928.3L460.9 928.4L462.0 928.0L463.1 928.5L464.2 928.1L465.3 928.2L466.4 928.2L467.5 926.4L468.6 927.7L469.7 926.7L470.8 927.4L471.8 926.8L472.9 927.1L474.0 927.5L475.1 926.1L476.2 926.8L477.3 926.6L478.4 925.7L479.5 926.7L480.6 926.3L481.7 926.0L482.8 925.8L483.9 927.3L485.0 925.7L486.1 925.0L487.2 925.3L488.3 925.4L489.4 925.3L490.5 925.3L491.6 924.8L492.6 925.4L493.7 924.8L494.8 924.3L495.9 924.5L497.0 924.5L498.1 924.9L499.2 924.6L500.3 924.2L501.4 924.2L502.5 924.1L503.6 924.8L504.7 923.5L505.8 923.9L506.9 923.8L507.9 923.0L509.0 923.3L510.1 923.2L511.2 922.8L512.3 923.1L513.4 923.2L514.5 923.1L515.6 922.4L516.7 922.4L517.8 923.2L518.9 921.6L520.0 922.0L521.1 922.2L522.1 921.7L523.2 921.8L524.3 921.5L525.4 921.6L526.5 921.7L527.6 921.0L528.7 921.0L529.8 920.8L530.9 920.5L532.0 920.6L533.1 920.0L534.2 920.6L535.3 920.9L536.4 920.8L537.4 920.5L538.5 919.4L539.6 920.3L540.7 919.3L541.8 919.4L542.9 920.1L544.0 918.8L545.1 919.5L546.2 919.1L547.3 918.8L548.4 918.4L549.5 918.8L550.6 918.3L551.7 918.9L552.8 918.8L553.9 917.6L554.9 917.9L556.0 917.8L557.1 917.4L558.2 917.3L559.3 917.7L560.4 917.4L561.5 916.7L562.6 917.1L563.7 917.4L564.8 916.6L565.9 916.6L567.0 917.5L568.1 917.3L569.2 916.0L570.3 916.0L571.4 916.6L572.5 915.9L573.6 916.2L574.7 916.0L575.8 916.3L576.8 914.9L577.9 915.0L579.0 915.3L580.1 916.1L581.2 915.6L582.3 914.8L583.4 915.7L584.5 915.7L585.6 915.2L586.7 915.1L587.8 915.3L588.9 915.5L590.0 915.0L591.1 915.1L592.2 914.8L593.3 914.5L594.4 914.2L595.5 914.6L596.6 914.3L597.7 914.3L598.8 914.7L599.9 914.4L601.0 914.5L602.1 913.4L603.2 914.3L604.3 913.7L605.4 913.5L606.5 913.5L607.6 914.3L608.7 914.0L609.8 913.3L610.9 913.1L612.0 913.5L613.1 913.2L614.2 914.1L615.3 912.7L616.4 912.5L617.4 913.0L618.5 913.1L619.6 913.1L620.7 913.3L621.8 913.7L622.9 912.6L624.0 912.5L625.1 911.9L626.2 912.6L627.3 912.8L628.4 912.2L629.5 912.7L630.6 912.1L631.7 912.7L632.8 912.1L633.9 911.4L635.0 911.4L636.1 910.9L637.2 910.7L638.3 911.5L639.4 911.6L640.5 911.9L641.5 911.0L642.6 910.8L643.7 910.3L644.8 911.0L645.9 910.7L647.0 910.1L648.1 910.6L649.2 910.4L650.3 909.2L651.4 910.2L652.5 909.9L653.6 909.5L654.7 909.4L655.8 910.2L656.9 910.0L658.0 910.0L659.0 908.6L660.1 908.7L661.2 909.3L662.3 908.3L663.4 908.3L664.5 907.8L665.6 909.2L666.7 908.7L667.8 908.4L668.9 908.1L670.0 907.7L671.1 907.6L672.2 907.9L673.3 907.2L674.4 907.9L675.4 907.1L676.5 906.8L677.6 907.5L678.7 906.8L679.8 906.9L680.9 906.4L682.0 905.5L683.1 906.5L684.2 905.5L685.3 906.4L686.3 905.1L687.4 904.9L688.5 905.6L689.6 905.5L690.7 905.2L691.8 904.5L692.9 905.2L694.0 904.0L695.0 904.3L696.1 904.0L697.2 903.9L698.3 904.3L699.4 903.4L700.5 903.8L701.5 903.6L702.6 902.4L703.7 902.4L704.8 902.5L705.9 902.2L706.9 902.4L708.0 901.2L709.1 902.1L710.2 901.9L711.2 901.3L712.3 900.5L713.4 900.9L714.5 900.4L715.5 900.6L716.6 900.1L717.7 900.2L718.7 899.4L719.8 899.9L720.9 898.1L721.9 898.4L723.0 898.7L724.1 897.6L725.1 898.2L726.2 897.1L727.2 897.4L728.3 896.7L729.4 896.6L730.4 896.5L731.5 896.1L732.5 895.7L733.6 896.4L734.6 895.2L735.7 894.5L736.7 894.9L737.8 894.5L738.8 894.4L739.9 894.3L740.9 892.8L742.0 893.3L743.0 892.9L744.0 892.1L745.1 891.8L746.1 890.1L747.1 890.7L748.2 891.3L749.2 889.4L750.2 889.5L751.2 889.5L752.3 889.2L753.3 889.3L754.3 887.4L755.3 887.8L756.3 887.7L757.3 886.3L758.3 886.4L759.3 886.8L760.4 886.1L761.4 885.4L762.4 883.6L763.4 884.2L764.3 883.9L765.3 883.1L766.3 882.8L767.3 883.6L768.3 881.7L769.3 880.9L770.3 880.9L771.2 880.2L772.2 879.7L773.2 879.3L774.1 879.1L775.1 878.3L776.1 877.2L777.0 877.1L778.0 876.8L778.9 875.9L779.9 876.0L780.8 875.3L781.7 874.0L782.7 874.0L783.6 874.1L784.6 873.3L785.5 872.1L786.4 871.9L787.4 870.6L788.3 869.7L789.2 870.0L790.1 869.2L791.0 868.7L792.0 867.9L792.9 867.5L793.8 866.5L794.7 866.3L795.6 865.8L796.5 864.8L797.4 864.6L798.3 862.9L799.2 862.6L800.1 863.0L801.0 862.4L801.9 861.2L802.8 860.4L803.7 859.2L804.6 859.3L805.5 858.8L806.3 857.2L807.2 857.4L808.1 856.7L809.0 856.0L809.8 854.6L810.7 854.7L811.5 853.1L812.4 853.7L813.2 852.4L814.1 851.2L814.9 851.5L815.7 850.7L816.6 849.2L817.4 849.7L818.2 847.6L819.1 847.5L819.9 847.1L820.7 844.9L821.5 845.5L822.3 844.3L823.1 843.6L823.9 842.4L824.7 842.2L825.5 840.9L826.2 840.1L827.0 839.6L827.8 838.5L828.6 838.9L829.3 836.9L830.1 836.3L830.9 835.7L831.6 835.0L832.4 834.6L833.1 833.8L833.8 832.5L834.6 831.6L835.3 831.0L836.0 830.5L836.8 829.6L837.5 828.3L838.2 826.8L838.9 827.7L839.6 826.4L840.3 825.3L841.0 824.4L841.7 823.2L842.4 822.2L843.1 821.6L843.8 820.8L844.4 819.7L845.1 818.5L845.8 818.1L846.4 817.6L847.1 816.3L847.7 815.6L848.4 813.8L849.0 813.7L849.6 812.9L850.2 811.5L850.9 810.4L851.5 810.4L852.1 808.9L852.7 808.6L853.3 807.3L853.9 806.8L854.5 805.4L855.1 804.0L855.6 803.7L856.2 802.7L856.8 802.1L857.3 800.7L857.9 799.8L858.5 799.4L859.0 798.6L859.6 797.4L860.1 796.6L860.7 795.4L861.2 794.6L861.7 793.7L862.3 792.5L862.8 791.4L863.4 790.5L863.9 790.5L864.4 788.5L864.9 787.4L865.5 786.4L866.0 785.6L866.5 784.7L867.1 783.2L867.6 781.9L868.1 781.9L868.6 780.1L869.1 779.9L869.7 778.9L870.2 778.3L870.7 777.6L871.2 776.1L871.7 774.7L872.3 773.5L872.8 772.7L873.3 772.0L873.8 770.2L874.3 770.1L874.8 769.1L875.3 768.4L875.8 767.0L876.3 766.2L876.8 764.9L877.4 764.0L877.9 762.5L878.4 762.3L878.9 761.9L879.4 760.4L879.9 759.5L880.4 757.9L880.9 758.0L881.4 756.1L881.9 755.8L882.4 754.5L882.9 753.1L883.4 752.9L883.8 751.5L884.3 750.6L884.8 749.7L885.3 748.5L885.8 747.4L886.3 746.8L886.8 745.4L887.3 744.6L887.8 743.3L888.3 742.0L888.8 741.4L889.3 740.5L889.8 739.7L890.2 739.2L890.7 737.0L891.2 736.8L891.7 734.8L892.2 734.3L892.7 733.5L893.1 731.8L893.6 731.0L894.1 730.8L894.6 729.8L895.0 728.7L895.5 727.5L896.0 727.7L896.4 725.7L896.9 724.4L897.3 724.5L897.8 723.1L898.2 721.6L898.7 721.3L899.1 719.9L899.6 719.1L900.0 717.9L900.5 716.3L900.9 716.2L901.3 714.8L901.8 713.3L902.2 712.4L902.6 712.1L903.1 710.6L903.5 709.7L903.9 709.0L904.4 707.7L904.8 706.0L905.2 705.9L905.7 705.0L906.1 704.0L906.5 703.3L906.9 701.7L907.4 700.9L907.8 700.2L908.2 698.4L908.6 698.3L909.0 697.2L909.5 695.8L909.9 695.3L910.3 693.8L910.7 692.1L911.1 691.9L911.6 690.6L912.0 689.6L912.4 688.4L912.8 687.9L913.2 686.6L913.6 685.0L914.1 684.5L914.5 683.6L914.9 682.0L915.3 681.1L915.7 680.1L916.1 679.0L916.5 678.3L917.0 677.6L917.4 676.9L917.8 675.6L918.2 674.5L918.6 673.6L919.0 672.6L919.4 670.9L919.8 670.3L920.2 669.1L920.6 667.9L921.0 666.8L921.4 665.7L921.8 664.8L922.2 663.4L922.6 663.1L923.0 661.8L923.4 660.9L923.8 659.9L924.2 659.1L924.6 657.5L925.0 656.7L925.4 655.0L925.8 653.7L926.2 652.8L926.6 653.2L927.0 650.8L927.4 650.7L927.8 650.1L928.2 648.3L928.5 648.1L928.9 647.2L929.3 645.8L929.7 645.4L930.1 643.6L930.4 642.0L930.8 641.5L931.2 640.0L931.5 638.6L931.9 637.6L932.3 638.1L932.6 635.8L933.0 635.0L933.3 633.7L933.7 633.0L934.0 631.8L934.4 630.7L934.7 629.3L935.1 628.2L935.4 627.4L935.8 626.8L936.1 626.5L936.5 625.1L936.8 624.3L937.2 622.7L937.5 621.4L937.9 619.9L938.2 619.4L938.5 617.4L938.9 617.2L939.2 616.9L939.6 615.3L939.9 614.6L940.3 613.0L940.6 611.5L940.9 610.8L941.3 609.8L941.6 609.4L942.0 608.7L942.3 606.5L942.6 605.6L943.0 604.7L943.3 603.6L943.7 602.1L944.0 601.7L944.4 600.7L944.7 599.7L945.0 598.0L945.4 597.4L945.7 595.7L946.1 595.7L946.4 593.9L946.8 593.1L947.1 592.0L947.5 590.9L947.8 589.7L948.1 588.3L948.5 588.8L948.8 587.1L949.2 586.1L949.5 585.8L949.9 583.8L950.2 583.1L950.6 581.8L950.9 581.2L951.3 579.9L951.7 578.8L952.0 577.5L952.4 576.7L952.7 576.0L953.1 573.6L953.4 573.4L953.8 572.2L954.2 571.2L954.5 569.5L954.9 569.6L955.2 567.9L955.6 567.1L956.0 566.0L956.3 564.4L956.7 563.9L957.0 562.3L957.4 561.6L957.8 560.9L958.1 559.9L958.5 558.9L958.8 557.8L959.2 557.7L959.6 556.0L959.9 554.2L960.3 553.4L960.6 552.4L961.0 551.6L961.3 550.3L961.7 549.2L962.1 549.2L962.4 547.5L962.8 546.3L963.1 545.3L963.5 544.2L963.8 543.9L964.1 542.4L964.5 541.7L964.8 538.8L965.2 539.2L965.5 538.5L965.8 537.8L966.2 536.0L966.5 534.2L966.9 534.1L967.2 532.6L967.5 531.0L967.8 530.5L968.2 530.1L968.5 529.1L968.8 527.9L969.2 526.1L969.5 526.5L969.8 523.9L970.1 523.3L970.5 521.7L970.8 521.8L971.1 520.4L971.4 519.5L971.7 518.2L972.1 517.0L972.4 516.1L972.7 514.2L973.0 514.3L973.3 513.2L973.7 511.6L974.0 510.7L974.3 509.8L974.6 509.3L974.9 507.8L975.3 506.6L975.6 505.3L975.9 503.8L976.2 503.1L976.6 502.4L976.9 501.2L977.2 500.3L977.5 499.5L977.9 498.3L978.2 497.2L978.5 496.3L978.9 495.1L979.2 493.9L979.5 493.1L979.9 491.1L980.2 491.3L980.5 489.2L980.9 489.0L981.2 487.7L981.5 487.1L981.9 485.6L982.2 484.1L982.5 483.9L982.9 482.5L983.2 481.4L983.5 480.3L983.9 479.7L984.2 478.5L984.5 477.3L984.9 475.5L985.2 474.9L985.5 474.1L985.9 473.7L986.2 472.1L986.5 470.8L986.9 470.3L987.2 468.7L987.5 467.7L987.9 466.7L988.2 465.1L988.5 465.0L988.8 463.7L989.2 462.4L989.5 461.0L989.8 460.5L990.1 459.9L990.5 458.0L990.8 456.8L991.1 456.3L991.4 454.5L991.7 453.2L992.1 452.9L992.4 451.7L992.7 450.8L993.0 449.7L993.3 448.9L993.6 447.7L994.0 446.5L994.3 445.5L994.6 444.8L994.9 443.9L995.2 442.8L995.5 441.7L995.8 439.2L996.2 439.0L996.5 438.1L996.8 437.3L997.1 435.6L997.4 435.6L997.7 434.2L998.0 432.8L998.3 432.0L998.6 430.8L999.0 429.6L999.3 428.9L999.6 427.6L999.9 426.2L1000.2 425.4L1000.5 424.5L1000.8 423.1L1001.1 422.9L1001.4 421.0L1001.7 420.9L1002.0 419.6L1002.3 417.9L1002.6 417.2L1002.9 416.5L1003.2 415.0L1003.6 413.6L1003.9 413.0L1004.2 412.5L1004.5 410.3L1004.8 409.9L1005.1 408.7L1005.4 407.6L1005.7 406.4L1006.0 405.4L1006.3 404.8L1006.6 403.6L1006.9 402.0L1007.2 401.8L1007.5 399.8L1007.8 399.4L1008.1 398.2L1008.4 397.4L1008.7 396.1L1008.9 395.3L1009.2 393.9L1009.5 393.1L1009.8 391.9L1010.1 391.4L1010.4 389.4L1010.7 388.9L1011.0 387.7L1011.3 386.5L1011.6 385.2L1011.9 384.5L1012.2 382.8L1012.5 381.8L1012.8 381.4L1013.1 379.6L1013.4 379.5L1013.7 377.9L1014.0 377.0L1014.3 375.9L1014.6 374.9L1014.9 373.7L1015.2 372.6L1015.5 371.6L1015.8 370.9L1016.1 369.9L1016.4 368.8L1016.7 367.5L1017.0 366.3L1017.3 364.8L1017.6 364.4L1017.9 363.4L1018.2 362.0L1018.5 361.3L1018.8 360.4L1019.1 359.0L1019.4 358.2L1019.7 356.9L1020.0 355.3L1020.4 354.6L1020.7 353.5L1021.0 352.7L1021.3 351.3L1021.6 350.4L1021.9 349.2L1022.2 348.4L1022.5 347.3L1022.8 346.5L1023.1 345.4L1023.4 344.2L1023.7 343.2L1024.1 342.1L1024.4 341.0L1024.7 340.4L1025.0 338.2L1025.3 337.8L1025.6 336.9L1025.9 336.0L1026.3 334.4L1026.6 333.7L1026.9 332.8L1027.2 331.4L1027.5 329.9L1027.8 329.3L1028.1 328.0L1028.5 327.5L1028.8 326.0L1029.1 325.6L1029.4 324.2L1029.7 322.9L1030.1 321.9L1030.4 320.7L1030.7 320.0L1031.0 319.2L1031.3 317.8L1031.6 317.0L1032.0 315.5L1032.3 314.7L1032.6 314.2L1032.9 312.2L1033.2 311.8L1033.6 310.7L1033.9 308.9L1034.2 308.0L1034.5 307.0L1034.8 306.5L1035.1 305.1L1035.5 304.1L1035.8 303.2L1036.1 302.0L1036.4 301.0L1036.7 299.8L1037.0 299.1L1037.3 297.6L1037.6 297.1L1038.0 295.6L1038.3 294.4L1038.6 293.7L1038.9 292.6L1039.2 291.0L1039.5 290.5L1039.8 289.0L1040.1 288.1L1040.4 287.4L1040.8 286.0L1041.1 285.2L1041.4 284.0L1041.7 283.4L1042.0 281.9L1042.3 280.7L1042.6 279.6L1043.0 278.6L1043.3 277.8L1043.6 276.7L1043.9 275.8L1044.2 274.6L1044.5 273.6L1044.8 272.5L1045.2 271.4L1045.5 270.4L1045.8 269.5L1046.1 268.4L1046.4 267.1L1046.8 265.8L1047.1 264.9L1047.4 264.1L1047.7 262.5L1048.0 261.9L1048.4 261.0L1048.7 259.7L1049.0 258.6L1049.3 258.1L1049.7 257.0L1050.0 255.6L1050.3 254.8L1050.6 253.8L1050.9 252.3L1051.3 251.9L1051.6 250.2L1051.9 249.3L1052.2 248.1L1052.5 247.2L1052.9 245.9L1053.2 245.1L1053.5 244.3L1053.8 243.0L1054.1 241.9L1054.5 241.2L1054.8 239.7L1055.1 239.0L1055.4 237.7L1055.7 236.7L1056.1 235.6L1056.4 234.6L1056.7 233.5L1057.0 232.3L1057.3 231.3L1057.6 230.4L1057.9 229.3L1058.3 228.1L1058.6 227.1L1058.9 226.0L1059.2 225.1L1059.5 224.1L1059.8 223.0L1060.1 221.8L1060.4 220.9L1060.8 219.6L1061.1 218.3L1061.4 217.7L1061.7 216.4L1062.0 215.5L1062.3 214.4L1062.6 213.6L1062.9 212.3L1063.3 211.4L1063.6 210.3L1063.9 209.1L1064.2 208.0L1064.5 207.2L1064.8 206.2L1065.1 205.2L1065.4 204.3L1065.7 203.0L1066.0 201.9L1066.3 200.8L1066.7 199.8L1067.0 198.7L1067.3 197.5L1067.6 196.9L1067.9 195.3L1068.2 194.5L1068.5 193.5L1068.8 192.4L1069.1 191.2L1069.4 190.2L1069.8 189.2L1070.1 188.0L1070.4 187.1L1070.7 186.0L1071.0 184.9L1071.4 184.0L1071.7 182.8L1072.0 181.9L1072.4 180.7L1072.7 179.8L1073.1 178.7L1073.4 177.7L1073.7 176.5L1074.1 175.5L1074.5 174.5L1074.8 173.5L1075.2 172.6L1075.6 171.6L1076.0 170.4L1076.3 169.4L1076.7 168.2L1077.1 167.1L1077.5 166.2L1077.9 165.2L1078.3 164.1L1078.7 163.1L1079.1 162.3L1079.5 161.1L1079.9 160.0L1080.4 159.4L1080.8 158.2L1081.2 157.1L1081.6 156.2L1082.0 155.0L1082.4 154.2L1082.9 152.9L1083.3 151.9L1083.7 151.0L1084.1 149.9L1084.5 149.1L1084.9 147.8L1085.3 146.9L1085.7 145.9L1086.1 145.0L1086.6 144.0L1087.0 142.9L1087.4 142.0L1087.8 140.8L1088.2 139.8L1088.6 138.8L1089.0 137.7L1089.4 136.7L1089.8 135.7L1090.2 134.6L1090.6 133.6L1091.0 132.6L1091.4 131.5L1091.9 130.6L1092.3 129.5L1092.7 128.7L1093.1 127.7L1093.6 126.6L1094.0 125.5L1094.4 124.5L1094.9 123.6L1095.3 122.5L1095.8 121.6L1096.2 120.5L1096.7 119.6L1097.2 118.5L1097.6 117.6L1098.1 116.5L1098.6 115.5L1099.1 114.6L1099.6 113.6L1100.1 112.6L1100.6 111.7L1101.1 110.7L1101.6 109.8L1102.1 108.6L1102.7 107.8L1103.2 106.8L1103.7 105.8L1104.3 104.8L1104.8 104.0L1105.4 103.0L1106.0 102.0L1106.5 101.2L1107.1 100.2L1107.7 99.3L1108.3 98.3L1108.9 97.4L1109.5 96.6L1110.1 95.6L1110.7 94.6L1111.3 93.8L1111.9 92.9L1112.6 92.0L1113.2 91.2L1113.9 90.1L1114.5 89.5L1115.2 88.5L1115.9 87.7L1116.6 86.8L1117.3 85.9L1118.0 85.1L1118.7 84.3L1119.4 83.5L1120.1 82.7L1120.9 81.8L1121.6 81.1L1122.4 80.3L1123.1 79.5L1123.9 78.7L1124.7 77.9L1125.5 77.2L1126.3 76.5L1127.1 75.7L1127.9 74.9L1128.8 74.4L1129.6 73.5L1130.5 72.9L1131.3 72.2L1132.2 71.5L1133.1 71.0L1133.9 70.3L1134.8 69.8L1135.7 69.2L1136.6 68.5L1137.6 68.0L1138.5 67.4L1139.4 66.7L1140.4 66.2L1141.3 65.8L1142.3 65.2L1143.2 64.7L1144.2 64.2L1145.2 63.7L1146.2 63.2L1147.2 62.8L1148.2 62.4L1149.2 61.9L1150.2 61.4L1151.2 61.1L1152.2 60.6L1153.2 60.3L1154.3 60.0L1155.3 59.7L1156.3 59.3L1157.4 58.9L1158.4 58.7L1159.5 58.2L1160.5 58.0L1161.6 57.9L1162.7 57.6L1163.7 57.2L1164.8 56.9L1165.9 56.8L1166.9 56.6L1168.0 56.3L1169.1 56.2L1170.2 55.9L1171.2 55.6L1172.3 55.6L1173.4 55.3L1174.5 55.1L1175.6 55.0L1176.7 54.9L1177.7 54.7L1178.8 54.6L1179.9 54.4L1181.0 54.3L1182.1 54.1L1183.2 54.0L1184.3 53.8L1185.4 53.7L1186.5 53.7L1187.6 53.7L1188.7 53.4L1189.7 53.3L1190.8 53.2L1191.9 53.1L1193.0 53.0L1194.1 52.9L1195.2 52.8L1196.3 52.8L1197.4 52.7L1198.5 52.7L1199.6 52.6L1200.7 52.5L1201.8 52.5L1202.9 52.4L1204.0 52.3L1205.1 52.2L1206.2 52.2L1207.3 52.2L1208.4 52.1L1209.5 52.0L1210.6 52.1L1211.7 52.0L1212.8 52.0L1213.9 51.9L1215.0 51.8L1216.1 51.8L1217.2 51.7L1218.3 51.7L1219.4 51.7L1220.5 51.6L1221.6 51.7L1222.7 51.5L1223.8 51.6L1224.9 51.5L1226.0 51.6L1227.1 51.5L1228.2 51.4L1229.3 51.4L1230.4 51.4L1231.5 51.3L1232.6 51.4L1233.7 51.3L1234.8 51.3L1235.9 51.3L1237.0 51.2L1238.1 51.2L1239.2 51.1L1240.3 51.1L1241.4 51.1L1242.5 51.1L1243.6 51.0L1244.7 50.9L1245.8 50.9L1246.9 51.0L1248.0 51.0L1249.1 50.9L1250.2 50.9L1251.3 51.0L1252.4 50.9L1253.5 50.9L1254.6 50.8L1255.7 51.0L1256.8 50.9L1257.9 50.9L1259.0 50.8L1260.1 50.9L1261.2 50.9L1262.3 50.9L1263.4 50.9L1264.5 50.9L1265.6 50.8L1266.7 50.9L1267.8 50.9L1268.9 50.9L1270.0 50.9L1271.1 50.9L1272.2 50.9L1273.3 50.9L1274.4 50.9L1275.5 50.9L1276.6 50.9L1277.7 50.9L1278.8 50.9L1279.9 51.0L1281.0 51.0L1282.1 50.9L1283.2 51.0L1284.3 50.9L1285.4 50.9L1286.5 50.9L1287.6 50.9L1288.7 51.0L1289.8 50.8L1290.9 50.9L1292.0 50.9L1293.1 50.9L1294.2 51.0L1295.3 50.9L1296.4 50.8L1297.5 50.9L1298.6 50.9L1299.7 50.8L1300.8 50.9L1301.9 50.9L1303.0 50.9L1304.1 50.9L1305.2 51.0L1306.3 51.0L1307.4 51.0L1308.5 51.1L1309.6 51.0L1310.7 51.0L1311.8 51.0L1312.9 51.2L1314.0 51.2L1315.1 51.2L1316.2 51.2L1317.3 51.3L1318.4 51.3L1319.5 51.3L1320.6 51.4L1321.7 51.4L1322.8 51.5L1323.9 51.4L1325.0 51.5L1326.1 51.5L1327.2 51.6L1328.3 51.5L1329.4 51.7L1330.5 51.7L1331.6 51.7L1332.7 51.7L1333.8 51.6L1334.9 51.7L1336.0 51.6L1337.1 51.7L1338.2 51.7L1339.3 51.7L1340.4 51.8L1341.5 51.8L1342.6 51.7L1343.7 51.7L1344.8 51.7L1345.9 51.8L1347.0 51.9L1348.1 51.8L1349.2 51.8L1350.3 51.8L1351.4 51.9L1352.5 51.8L1353.6 51.8L1354.7 51.7L1355.8 51.8L1356.9 51.9L1358.0 51.8L1359.1 51.9L1360.2 51.8L1361.3 51.8L1362.4 51.9L1363.5 51.9L1364.6 51.8L1365.7 51.9L1366.8 51.9L1367.9 51.9L1369.0 51.9L1370.1 51.9L1371.2 51.8L1372.3 51.9L1373.4 51.9L1374.5 51.9L1375.6 52.0L1376.7 52.0L1377.8 52.0L1378.9 52.1L1380.0 52.0L1381.1 52.0L1382.2 52.0L1383.3 52.1L1384.4 52.1L1385.5 52.1L1386.6 52.1L1387.7 52.1L1388.8 52.1L1389.9 52.2L1391.0 52.1L1392.1 52.1L1393.2 52.2L1394.3 52.2L1395.4 52.1L1396.5 52.2L1397.6 52.1L1398.7 52.3L1399.8 52.3L1400.9 52.3L1402.0 52.2L1403.1 52.2L1404.2 52.2L1405.3 52.1L1406.4 52.1L1407.5 52.0L1408.6 52.0L1409.7 52.0L1410.8 52.0L1411.9 51.9L1413.0 51.9L1414.1 51.9L1415.2 51.6L1416.3 51.6L1417.4 51.4L1418.5 51.4L1419.5 51.3L1420.6 51.2L1421.7 51.2L1422.8 51.1L1423.9 51.0L1425.0 50.9L1426.1 50.8L1427.2 50.7L1428.3 50.7L1429.4 50.6L1430.5 50.5L1431.6 50.3L1432.7 50.4L1433.8 50.3L1434.9 50.2L1436.0 50.0L1437.1 50.1L1438.2 50.0L1439.3 49.8L1440.4 49.9L1441.5 49.8L1442.6 49.8L1443.7 49.7L1444.8 49.6L1445.9 49.6L1447.0 49.4L1448.1 49.4L1449.2 49.4L1450.3 49.3L1451.4 49.2L1452.5 49.1L1453.6 49.1L1454.7 48.9L1455.8 48.8L1456.9 48.8L1458.0 48.8L1459.1 48.6L1460.2 48.5L1461.2 48.5L1462.3 48.3L1463.4 48.3L1464.5 48.1L1465.6 48.0L1466.7 47.9L1467.8 47.7L1468.9 47.6L1470.0 47.5L1471.1 47.3L1472.2 47.2L1473.2 46.9L1474.3 46.8L1475.4 46.6L1476.5 46.3L1477.6 46.2L1478.7 46.0L1479.7 45.8L1480.8 45.6L1481.9 45.4L1483.0 45.1L1484.0 44.8L1485.1 44.5L1486.2 44.4L1487.3 44.2L1488.3 43.9L1489.4 43.7L1490.5 43.4L1491.6 43.1L1492.6 42.9L1493.7 42.7L1494.8 42.5L1495.9 42.4L1497.0 42.0L1498.0 41.9L1499.1 41.5L1500.2 41.3L1501.2 41.0L1502.3 40.7L1503.3 40.4L1504.4 40.1L1505.4 39.7L1506.5 39.3L1507.5 39.0L1508.5 38.7L1509.6 38.4L1510.7 38.2L1511.8 38.0L1512.9 37.8L1514.0 37.8L1515.0 37.5L1516.1 37.4L1517.2 37.3L1518.3 37.3L1519.4 37.2L1520.5 37.3L1521.6 37.1L1522.7 37.1L1523.8 37.0L1524.9 36.9L1526.0 36.9L1527.1 36.9L1528.2 36.8L1529.3 36.8L1530.4 36.8L1531.5 36.7L1532.6 36.8L1533.7 36.8L1534.8 36.9L1535.9 36.8L1537.0 36.8L1538.1 36.9L1539.2 36.9L1540.3 37.0L1541.4 37.0L1542.5 37.0L1543.6 37.0L1544.7 37.1L1545.8 37.2L1546.9 37.2L1548.0 37.6L1549.0 37.8L1550.1 38.1L1551.1 38.5L1552.2 38.8L1553.3 39.1L1554.3 39.4L1555.3 39.8L1556.4 40.3L1557.5 40.3L1558.5 40.6L1559.6 40.8L1560.7 41.1L1561.8 41.2L1562.9 41.2L1564.0 41.6L1565.1 41.6L1566.1 41.8L1567.2 41.9L1568.3 42.1L1569.4 42.3L1570.5 42.5L1571.6 42.6L1572.7 42.7L1573.8 42.9L1574.9 42.9L1576.0 43.1L1577.1 43.2L1578.1 43.4L1579.2 43.4L1580.3 43.6L1581.4 43.7L1582.5 43.8L1583.6 43.9L1584.7 44.2L1585.8 44.2L1586.9 44.3L1588.0 44.4L1589.1 44.6L1590.2 44.5L1591.3 44.8L1592.4 44.8L1593.5 44.8L1594.6 45.0L1595.7 45.2L1596.8 45.2L1597.9 45.2L1599.0 45.3L1600.0 45.5L1601.1 45.4L1602.2 45.6L1603.3 45.7L1604.4 45.9L1605.5 45.8L1606.6 46.0L1607.7 46.0L1608.8 46.0L1609.9 46.2L1611.0 46.2L1612.1 46.2L1613.2 46.3L1614.3 46.4L1615.4 46.3L1616.5 46.4L1617.6 46.4L1618.7 46.4L1619.8 46.4L1620.9 46.4L1622.0 46.4L1623.1 46.3L1624.2 46.4L1625.3 46.3L1626.4 46.3L1627.5 46.3L1628.6 46.2L1629.7 46.3L1630.8 46.3L1631.9 46.3L1633.0 46.1L1634.1 46.2L1635.2 46.1L1636.3 46.1L1637.4 46.0L1638.5 46.0L1639.6 46.1L1640.7 46.0L1641.8 45.9L1642.9 45.8L1644.0 45.7L1645.1 45.7L1646.2 45.7L1647.3 45.4L1648.4 45.3L1649.5 45.2L1650.6 45.0L1651.7 45.0L1652.8 44.8L1653.8 44.6L1654.9 44.4L1656.0 44.4L1657.1 44.2L1658.2 44.1L1659.3 43.8L1660.4 43.7L1661.4 43.5L1662.4 42.9L1663.3 42.2L1664.1 41.6L1665.0 40.9L1665.9 40.2L1666.8 39.7L1667.8 39.3L1668.9 38.9L1669.9 38.6L1671.0 38.3L1672.1 38.1L1673.2 37.9L1674.2 37.6L1675.3 37.5L1676.4 37.5L1677.5 37.3L1678.6 37.2L1679.7 37.1L1680.8 37.1L1681.9 37.0L1683.0 37.0L1684.1 36.9L1685.2 37.0L1686.3 37.0L1687.4 36.9L1688.5 36.9L1689.6 36.9L1690.7 36.9L1691.8 36.9L1692.9 36.8L1694.0 36.9L1695.1 36.9L1696.2 36.9L1697.3 36.9L1698.4 36.9L1699.5 37.1L1700.6 37.0L1701.7 37.0L1702.0 36.9" stroke="#04a50e"/>
<path d="M207.7 1017.7L208.8 1018.2L209.9 1017.9L211.0 1019.1L212.1 1018.7L213.1 1018.9L214.2 1018.5L215.3 1018.7L216.4 1018.9L217.5 1019.5L218.6 1019.4L219.7 1019.5L220.8 1019.9L221.9 1020.0L223.0 1020.7L224.1 1020.1L225.1 1019.9L226.2 1020.4L227.3 1021.2L228.4 1020.4L229.5 1020.8L230.6 1020.7L231.7 1021.2L232.8 1021.2L233.9 1020.8L235.0 1021.2L236.1 1021.8L237.2 1021.9L238.3 1021.9L239.4 1022.0L240.5 1021.6L241.6 1021.7L242.7 1022.3L243.8 1021.5L244.9 1022.1L246.0 1021.4L247.1 1022.1L248.2 1022.0L249.3 1021.9L250.4 1022.7L251.4 1022.3L252.5 1022.5L253.6 1022.6L254.7 1022.5L255.8 1023.4L256.9 1022.7L258.0 1023.1L259.1 1022.5L260.2 1022.9L261.3 1023.0L262.4 1023.1L263.5 1023.0L264.6 1023.4L265.7 1024.0L266.8 1023.4L267.9 1023.4L269.0 1023.4L270.1 1024.6L271.2 1024.3L272.3 1023.9L273.4 1024.0L274.5 1023.4L275.6 1023.7L276.7 1023.9L277.8 1023.9L278.9 1023.5L280.0 1023.6L281.1 1024.2L282.2 1024.2L283.3 1023.2L284.4 1024.1L285.5 1024.7L286.6 1023.9L287.7 1024.3L288.8 1023.6L289.9 1024.6L291.0 1023.9L292.1 1023.8L293.2 1024.2L294.3 1025.4L295.4 1024.2L296.5 1023.9L297.6 1024.7L298.7 1024.6L299.8 1025.2L300.9 1024.0L302.0 1023.9L303.1 1024.4L304.2 1024.7L305.3 1024.7L306.4 1025.0L307.5 1024.0L308.6 1024.2L309.7 1024.5L310.8 1024.9L311.9 1024.8L313.0 1024.4L314.1 1024.2L315.2 1024.9L316.3 1025.0L317.4 1025.7L318.5 1024.5L319.6 1025.2L320.7 1024.0L321.8 1024.3L322.9 1024.2L324.0 1024.3L325.1 1024.1L326.2 1024.2L327.3 1024.4L328.4 1024.2L329.5 1024.7L330.6 1024.4L331.7 1024.4L332.8 1025.0L333.9 1024.5L335.0 1024.4L336.1 1024.3L337.2 1024.3L338.3 1024.5L339.4 1023.9L340.5 1024.7L341.6 1024.8L342.7 1024.6L343.8 1023.9L344.9 1023.5L346.0 1023.9L347.1 1024.1L348.2 1024.4L349.3 1023.9L350.4 1023.8L351.5 1024.4L352.6 1023.5L353.7 1024.1L354.8 1023.9L355.9 1022.9L357.0 1023.4L358.1 1023.0L359.2 1022.7L360.3 1022.2L361.3 1022.2L362.4 1022.9L363.5 1022.4L364.6 1022.6L365.7 1021.9L366.8 1022.1L367.9 1022.0L369.0 1021.4L370.1 1021.2L371.2 1022.0L372.3 1021.7L373.4 1021.2L374.5 1021.4L375.6 1021.6L376.7 1022.0L377.8 1020.8L378.9 1021.3L379.9 1021.8L381.0 1020.9L382.1 1021.3L383.2 1019.6L384.3 1021.1L385.4 1020.4L386.5 1019.5L387.6 1020.5L388.7 1020.5L389.8 1020.5L390.9 1020.4L392.0 1019.7L393.1 1019.3L394.2 1019.3L395.3 1019.4L396.4 1019.4L397.5 1019.0L398.5 1019.0L399.6 1019.3L400.7 1018.9L401.8 1019.6L402.9 1019.4L404.0 1017.9L405.1 1018.0L406.2 1017.6L407.3 1017.5L408.4 1018.0L409.5 1017.3L410.6 1017.1L411.6 1017.3L412.7 1017.6L413.8 1016.9L414.9 1016.8L416.0 1017.1L417.1 1016.8L418.2 1016.6L419.3 1016.7L420.4 1015.7L421.4 1016.1L422.5 1015.6L423.6 1016.1L424.7 1015.8L425.8 1014.9L426.9 1015.7L428.0 1014.5L429.1 1015.3L430.1 1014.7L431.2 1014.1L432.3 1013.8L433.4 1013.9L434.5 1013.9L435.6 1013.4L436.6 1013.7L437.7 1012.7L438.8 1013.1L439.9 1012.9L441.0 1012.0L442.1 1012.7L443.1 1011.8L444.2 1011.1L445.3 1011.7L446.4 1011.7L447.5 1012.0L448.6 1011.2L449.7 1011.9L450.7 1011.7L451.8 1011.3L452.9 1011.2L454.0 1010.7L455.1 1010.1L456.2 1010.4L457.2 1010.3L458.3 1009.9L459.4 1009.5L460.5 1008.7L461.6 1009.5L462.7 1009.2L463.7 1008.3L464.8 1008.7L465.9 1008.8L467.0 1008.2L468.1 1008.4L469.2 1008.2L470.3 1007.1L471.3 1007.4L472.4 1007.6L473.5 1007.6L474.6 1007.6L475.7 1006.0L476.8 1006.6L477.8 1006.8L478.9 1006.8L480.0 1006.8L481.1 1005.6L482.2 1005.6L483.3 1005.2L484.4 1005.8L485.5 1004.7L486.5 1005.6L487.6 1005.3L488.7 1004.9L489.8 1003.7L490.9 1004.1L492.0 1004.5L493.1 1003.5L494.1 1003.8L495.2 1003.7L496.3 1003.9L497.4 1003.5L498.5 1003.3L499.6 1002.9L500.7 1002.9L501.8 1002.7L502.8 1002.9L503.9 1002.4L505.0 1002.7L506.1 1001.4L507.2 1002.5L508.3 1001.7L509.4 1002.1L510.5 1001.5L511.6 1001.7L512.6 1001.8L513.7 1000.8L514.8 1000.9L515.9 1000.6L517.0 1000.7L518.1 999.7L519.2 1000.2L520.3 1000.0L521.4 999.6L522.5 999.7L523.5 999.0L524.6 1000.1L525.7 999.6L526.8 1000.0L527.9 998.7L529.0 998.5L530.1 998.9L531.2 998.0L532.3 998.6L533.4 998.1L534.5 998.1L535.5 998.2L536.6 998.0L537.7 998.6L538.8 998.0L539.9 997.0L541.0 997.8L542.1 996.7L543.2 997.2L544.3 996.5L545.4 996.6L546.5 997.3L547.6 996.4L548.6 996.2L549.7 996.1L550.8 996.1L551.9 996.7L553.0 995.5L554.1 995.3L555.2 995.9L556.3 994.9L557.4 995.3L558.5 995.8L559.6 995.2L560.7 994.8L561.7 994.6L562.8 994.4L563.9 994.4L565.0 994.6L566.1 994.9L567.2 994.7L568.3 993.9L569.4 993.7L570.5 994.2L571.6 993.0L572.7 993.4L573.8 993.4L574.9 992.9L576.0 992.9L577.0 993.3L578.1 992.3L579.2 992.5L580.3 992.5L581.4 992.7L582.5 992.0L583.6 992.9L584.7 992.2L585.8 992.1L586.9 992.0L588.0 991.7L589.1 991.5L590.2 992.3L591.3 991.8L592.4 991.5L593.5 991.9L594.6 991.0L595.6 991.5L596.7 991.1L597.8 990.6L598.9 991.2L600.0 990.1L601.1 990.9L602.2 990.1L603.3 990.5L604.4 990.8L605.5 990.3L606.6 989.7L607.7 989.8L608.8 989.6L609.9 989.1L610.9 989.0L612.0 989.4L613.1 989.4L614.2 988.4L615.3 988.9L616.4 989.0L617.5 988.7L618.6 988.1L619.7 988.8L620.8 987.7L621.9 988.4L623.0 988.6L624.0 986.9L625.1 987.7L626.2 987.6L627.3 987.4L628.4 986.8L629.5 986.8L630.6 986.2L631.7 986.7L632.7 986.7L633.8 986.0L634.9 985.8L636.0 985.8L637.1 985.8L638.2 985.7L639.3 985.4L640.4 985.3L641.4 984.6L642.5 983.9L643.6 985.1L644.7 985.3L645.8 983.9L646.9 984.1L648.0 984.3L649.1 984.4L650.1 984.1L651.2 984.2L652.3 983.5L653.4 983.5L654.5 983.4L655.6 982.9L656.7 983.4L657.8 983.0L658.9 983.0L659.9 982.2L661.0 982.7L662.1 981.6L663.2 982.1L664.3 980.7L665.4 981.1L666.5 981.7L667.6 981.0L668.6 981.1L669.7 980.2L670.8 981.4L671.9 980.8L673.0 980.4L674.1 980.4L675.2 980.2L676.3 980.5L677.3 979.9L678.4 979.1L679.5 979.4L680.6 980.0L681.7 979.5L682.8 979.0L683.9 979.3L685.0 979.0L686.1 979.1L687.2 978.1L688.3 978.3L689.4 978.8L690.5 978.4L691.6 978.5L692.7 979.0L693.8 978.0L694.9 978.1L695.9 977.6L697.0 977.4L698.1 977.5L699.2 976.8L700.3 976.3L701.4 977.6L702.5 976.7L703.5 977.0L704.6 976.3L705.7 976.0L706.7 975.9L707.8 975.6L708.8 974.5L709.9 975.2L710.9 973.9L711.9 974.1L713.0 974.7L714.0 973.3L715.1 973.6L716.1 972.4L717.1 972.4L718.2 971.8L719.2 971.6L720.3 970.8L721.3 970.4L722.4 970.6L723.4 969.5L724.5 969.5L725.5 969.7L726.6 968.9L727.6 968.4L728.6 968.0L729.7 968.1L730.7 967.6L731.8 967.4L732.8 966.9L733.8 967.4L734.9 966.0L735.9 965.0L736.9 965.5L737.9 965.0L738.9 964.7L740.0 963.5L741.0 964.2L742.0 963.3L743.0 962.8L744.0 961.7L745.0 962.1L745.9 961.4L746.9 961.5L747.9 960.3L748.9 959.5L749.9 959.5L750.9 958.6L751.8 958.7L752.8 957.6L753.8 957.4L754.8 956.9L755.7 956.4L756.7 955.7L757.7 955.1L758.6 954.8L759.6 954.1L760.5 953.8L761.5 953.1L762.4 951.8L763.4 952.1L764.3 952.1L765.3 951.1L766.2 950.7L767.1 950.0L768.1 949.1L769.0 948.1L769.9 948.4L770.8 947.9L771.7 947.1L772.6 946.4L773.6 945.8L774.5 945.0L775.4 944.5L776.3 943.8L777.2 943.2L778.0 942.1L778.9 941.6L779.8 941.4L780.7 940.4L781.6 938.9L782.4 939.2L783.3 937.6L784.2 938.6L785.0 937.4L785.9 936.7L786.8 935.5L787.6 934.6L788.5 934.3L789.3 933.7L790.1 932.7L791.0 932.3L791.8 931.8L792.7 931.1L793.5 929.7L794.3 928.5L795.1 928.7L796.0 927.7L796.8 927.4L797.6 927.2L798.4 926.4L799.2 925.1L800.1 924.7L800.9 924.2L801.7 922.8L802.5 922.1L803.3 921.6L804.1 920.5L804.9 919.6L805.6 918.7L806.4 918.2L807.2 917.2L808.0 917.0L808.7 915.7L809.5 915.7L810.3 914.8L811.0 913.0L811.8 913.1L812.5 911.7L813.2 911.6L814.0 910.5L814.7 909.4L815.4 908.9L816.1 907.6L816.9 907.1L817.6 906.3L818.3 905.2L819.0 904.6L819.7 903.2L820.4 903.0L821.1 901.4L821.7 901.3L822.4 900.4L823.1 899.6L823.8 898.2L824.5 898.8L825.2 896.6L825.8 895.9L826.5 894.7L827.2 894.7L827.9 893.1L828.5 892.8L829.2 891.2L829.9 890.8L830.6 889.6L831.2 889.3L831.9 887.9L832.6 886.8L833.2 886.5L833.9 884.9L834.5 884.2L835.2 884.0L835.8 882.0L836.5 882.2L837.1 880.8L837.7 879.7L838.3 879.3L838.9 878.5L839.6 877.2L840.2 876.4L840.8 875.9L841.4 874.9L842.0 873.7L842.6 872.5L843.2 871.5L843.8 870.7L844.4 870.3L845.0 869.4L845.6 868.3L846.2 867.8L846.8 866.3L847.4 865.3L848.0 864.4L848.5 864.4L849.1 861.9L849.7 861.9L850.3 861.0L850.9 860.0L851.5 859.9L852.1 858.6L852.7 857.5L853.3 855.9L853.9 855.5L854.5 854.2L855.0 853.5L855.6 852.6L856.2 851.4L856.7 850.9L857.3 850.3L857.8 849.1L858.3 847.8L858.9 846.0L859.4 846.3L859.9 845.3L860.4 843.8L860.9 842.7L861.4 842.2L861.9 840.6L862.4 840.3L862.9 838.6L863.3 837.6L863.8 837.0L864.3 835.4L864.8 835.0L865.2 834.2L865.7 832.5L866.1 832.4L866.6 830.8L867.1 830.2L867.5 829.1L868.0 827.8L868.4 826.8L868.9 825.4L869.3 824.7L869.8 823.7L870.2 823.7L870.7 822.4L871.1 820.5L871.6 820.3L872.1 819.1L872.5 817.9L873.0 817.2L873.4 816.3L873.9 814.8L874.3 813.9L874.8 813.1L875.2 811.6L875.7 811.1L876.2 810.0L876.6 808.7L877.1 807.7L877.5 807.1L878.0 806.3L878.4 805.1L878.9 803.7L879.3 803.3L879.8 802.1L880.2 801.2L880.7 800.4L881.1 798.6L881.6 797.9L882.0 796.7L882.5 795.6L882.9 795.7L883.3 794.3L883.8 792.2L884.2 792.1L884.6 790.7L885.1 790.3L885.5 788.9L885.9 787.8L886.3 786.9L886.8 786.0L887.2 784.8L887.6 783.7L888.0 782.7L888.4 782.0L888.8 780.3L889.2 779.7L889.6 778.6L890.0 777.5L890.4 776.9L890.8 775.1L891.2 774.4L891.6 773.2L892.0 772.7L892.4 771.3L892.7 770.5L893.1 769.6L893.5 767.8L893.9 767.5L894.2 766.0L894.6 765.2L895.0 764.2L895.3 763.5L895.7 762.5L896.0 761.8L896.4 760.2L896.7 758.9L897.1 757.8L897.5 757.2L897.8 756.6L898.2 755.0L898.5 753.6L898.9 752.9L899.3 751.9L899.6 750.8L900.0 749.4L900.4 747.7L900.8 747.5L901.2 747.1L901.6 745.7L902.0 743.8L902.4 743.6L902.8 741.9L903.2 742.4L903.6 740.7L904.1 739.1L904.5 738.9L904.9 737.3L905.4 736.8L905.8 735.6L906.3 734.1L906.7 733.9L907.2 732.1L907.6 732.1L908.0 730.6L908.5 729.2L908.9 727.9L909.3 728.2L909.7 727.1L910.1 725.1L910.5 725.2L910.9 723.6L911.3 722.4L911.6 721.4L912.0 720.3L912.4 720.0L912.7 718.4L913.1 716.6L913.4 717.1L913.8 715.6L914.1 713.8L914.4 713.0L914.8 711.8L915.1 711.1L915.4 710.2L915.8 709.1L916.1 707.7L916.4 706.5L916.7 706.1L917.1 704.7L917.4 704.6L917.7 702.4L918.1 701.9L918.4 700.6L918.8 699.2L919.1 699.0L919.4 697.5L919.8 696.0L920.1 695.2L920.5 694.7L920.8 692.8L921.2 692.8L921.6 691.5L921.9 690.0L922.3 689.6L922.6 688.8L923.0 687.3L923.4 686.1L923.7 685.7L924.1 684.5L924.5 682.5L924.8 681.8L925.2 680.7L925.5 679.6L925.9 678.1L926.3 678.0L926.6 676.7L927.0 675.7L927.4 675.1L927.7 673.3L928.1 672.5L928.5 671.6L928.8 670.3L929.2 669.3L929.5 668.7L929.9 667.3L930.3 666.8L930.6 664.9L931.0 664.3L931.3 662.6L931.7 662.1L932.0 660.8L932.4 660.6L932.7 659.3L933.1 658.1L933.4 657.6L933.7 656.4L934.1 655.1L934.4 653.5L934.8 652.1L935.1 651.6L935.4 650.5L935.8 649.3L936.1 648.4L936.4 646.8L936.7 647.0L937.1 644.9L937.4 644.0L937.7 643.5L938.0 641.5L938.3 641.5L938.6 640.5L938.9 638.9L939.3 637.5L939.6 636.7L939.9 635.1L940.2 635.4L940.5 633.8L940.8 632.4L941.1 631.3L941.4 630.8L941.7 630.1L942.0 628.0L942.3 627.2L942.6 625.6L942.9 625.6L943.2 624.3L943.5 624.1L943.8 622.1L944.1 620.9L944.4 619.7L944.7 619.3L945.1 617.3L945.4 617.1L945.7 615.9L946.0 614.5L946.3 613.3L946.6 613.1L947.0 612.3L947.3 610.4L947.6 609.7L947.9 609.1L948.3 607.1L948.6 606.2L948.9 604.8L949.3 604.2L949.6 603.2L949.9 602.0L950.3 600.8L950.6 599.4L950.9 598.5L951.3 597.6L951.6 597.2L951.9 595.6L952.3 594.5L952.6 594.0L952.9 592.9L953.3 591.4L953.6 590.4L953.9 589.8L954.3 588.7L954.6 587.1L954.9 586.5L955.3 585.4L955.6 584.8L955.9 582.9L956.3 582.6L956.6 581.3L956.9 579.7L957.3 579.5L957.6 578.4L957.9 576.4L958.3 576.7L958.6 574.4L958.9 573.5L959.2 572.7L959.6 572.0L959.9 570.9L960.2 569.6L960.6 569.1L960.9 567.7L961.2 567.0L961.5 566.6L961.9 564.5L962.2 562.3L962.5 562.1L962.9 560.8L963.2 560.2L963.5 559.2L963.8 557.6L964.2 556.6L964.5 555.9L964.8 554.8L965.1 552.8L965.5 553.2L965.8 551.8L966.1 550.7L966.4 549.8L966.8 548.2L967.1 547.5L967.4 546.9L967.7 545.9L968.1 544.6L968.4 543.2L968.7 542.0L969.0 541.8L969.3 540.4L969.7 539.0L970.0 537.2L970.3 536.7L970.6 535.2L970.9 535.4L971.2 534.0L971.6 532.5L971.9 531.7L972.2 531.8L972.5 530.2L972.8 528.1L973.1 527.5L973.5 526.0L973.8 524.8L974.1 524.5L974.4 524.3L974.7 522.9L975.0 521.3L975.3 520.0L975.6 519.2L976.0 518.5L976.3 516.4L976.6 515.2L976.9 515.7L977.2 514.0L977.5 513.5L977.8 511.8L978.1 511.3L978.5 509.4L978.8 508.8L979.1 508.2L979.4 506.9L979.7 505.2L980.0 504.7L980.3 503.0L980.6 501.7L980.9 501.4L981.2 500.7L981.5 499.4L981.8 497.5L982.1 497.3L982.5 496.2L982.8 494.7L983.1 492.8L983.4 493.2L983.7 492.0L984.0 490.8L984.3 488.9L984.6 487.9L984.9 487.9L985.2 486.7L985.5 485.5L985.8 484.2L986.1 483.4L986.4 481.9L986.7 481.0L987.0 479.7L987.3 479.1L987.6 477.8L987.9 477.2L988.2 476.1L988.5 474.4L988.8 474.4L989.1 472.2L989.4 471.8L989.7 470.9L990.0 470.0L990.3 467.5L990.6 467.7L990.9 466.8L991.2 465.8L991.5 463.3L991.8 462.8L992.1 462.0L992.4 460.8L992.7 460.4L993.0 458.6L993.3 458.3L993.6 457.0L993.9 455.1L994.2 454.3L994.5 453.4L994.8 452.6L995.1 451.8L995.4 450.3L995.6 449.7L995.9 447.7L996.2 446.1L996.5 446.0L996.8 445.3L997.1 443.9L997.4 442.6L997.7 442.1L998.0 441.6L998.3 439.8L998.6 438.5L998.9 437.4L999.2 437.3L999.5 435.6L999.8 434.7L1000.1 433.9L1000.4 432.8L1000.7 431.0L1001.0 430.6L1001.2 429.5L1001.5 428.3L1001.8 427.4L1002.1 425.8L1002.4 424.9L1002.7 423.7L1003.0 423.1L1003.3 421.6L1003.6 420.9L1003.9 419.3L1004.1 418.6L1004.4 417.4L1004.7 416.4L1005.0 415.5L1005.3 414.3L1005.6 413.2L1005.9 411.5L1006.1 411.5L1006.4 409.9L1006.7 409.0L1007.0 407.7L1007.3 407.2L1007.6 405.5L1007.8 404.9L1008.1 404.1L1008.4 403.2L1008.7 402.0L1009.0 400.7L1009.3 399.1L1009.5 398.8L1009.8 397.7L1010.1 396.5L1010.4 395.5L1010.7 394.2L1010.9 392.9L1011.2 392.4L1011.5 391.4L1011.8 389.6L1012.1 389.1L1012.4 387.8L1012.6 387.0L1012.9 385.7L1013.2 384.9L1013.5 383.8L1013.8 382.7L1014.1 381.0L1014.4 380.6L1014.6 379.3L1014.9 377.9L1015.2 377.4L1015.5 375.7L1015.8 375.3L1016.1 374.5L1016.4 372.8L1016.7 372.1L1017.0 370.9L1017.3 369.9L1017.5 368.3L1017.8 367.8L1018.1 366.6L1018.4 365.7L1018.7 364.4L1019.0 363.7L1019.3 362.4L1019.6 361.4L1019.9 360.6L1020.2 359.2L1020.5 358.4L1020.8 357.1L1021.1 356.1L1021.4 354.7L1021.7 354.0L1022.0 353.1L1022.3 351.7L1022.6 350.9L1022.9 349.7L1023.2 348.2L1023.5 347.6L1023.8 346.8L1024.0 345.2L1024.3 343.8L1024.6 343.3L1025.0 342.0L1025.3 341.6L1025.6 340.1L1025.9 339.0L1026.2 337.8L1026.5 337.0L1026.8 335.7L1027.1 334.5L1027.4 333.7L1027.7 332.5L1028.0 332.0L1028.3 330.3L1028.6 329.5L1028.9 328.3L1029.2 327.0L1029.5 326.8L1029.8 324.7L1030.1 324.6L1030.4 322.8L1030.7 322.1L1031.1 321.6L1031.4 319.5L1031.7 318.6L1032.0 318.2L1032.3 316.9L1032.6 315.6L1032.9 314.7L1033.2 313.4L1033.5 312.6L1033.9 311.9L1034.2 310.4L1034.5 309.5L1034.8 308.7L1035.1 307.8L1035.4 306.1L1035.7 305.3L1036.0 304.0L1036.3 303.0L1036.6 302.0L1036.9 300.9L1037.3 299.5L1037.6 298.4L1037.9 297.7L1038.2 296.8L1038.5 296.0L1038.8 294.5L1039.1 293.6L1039.4 292.7L1039.7 291.7L1040.0 290.4L1040.3 289.4L1040.6 288.7L1041.0 287.2L1041.3 286.1L1041.6 284.8L1041.9 284.2L1042.2 283.0L1042.5 282.4L1042.8 280.9L1043.1 280.1L1043.4 279.0L1043.7 278.1L1044.1 276.4L1044.4 276.0L1044.7 274.6L1045.0 273.5L1045.3 272.4L1045.6 271.4L1045.9 270.3L1046.3 268.9L1046.6 268.4L1046.9 267.2L1047.2 266.0L1047.5 265.1L1047.8 264.5L1048.2 263.1L1048.5 261.9L1048.8 261.2L1049.1 259.7L1049.4 258.8L1049.7 257.6L1050.1 256.7L1050.4 255.8L1050.7 254.7L1051.0 253.4L1051.3 252.5L1051.7 251.5L1052.0 250.3L1052.3 249.3L1052.6 248.1L1052.9 247.1L1053.3 246.2L1053.6 244.9L1053.9 244.1L1054.2 243.0L1054.5 241.8L1054.8 240.8L1055.2 239.8L1055.5 238.8L1055.8 237.8L1056.1 236.7L1056.4 235.5L1056.7 234.8L1057.0 233.7L1057.4 232.5L1057.7 231.6L1058.0 230.4L1058.3 229.3L1058.6 228.3L1058.9 227.6L1059.2 226.3L1059.5 225.3L1059.9 224.0L1060.2 223.1L1060.5 222.3L1060.8 220.9L1061.1 220.0L1061.4 218.9L1061.7 217.8L1062.0 216.9L1062.3 215.6L1062.7 214.6L1063.0 213.4L1063.3 212.8L1063.6 211.4L1063.9 210.3L1064.2 209.5L1064.5 208.1L1064.8 207.1L1065.1 206.0L1065.4 205.0L1065.7 203.9L1066.0 203.0L1066.4 201.8L1066.7 200.7L1067.0 199.7L1067.3 198.7L1067.6 197.6L1067.9 196.7L1068.2 195.6L1068.5 194.5L1068.8 193.3L1069.1 192.4L1069.4 191.1L1069.8 190.3L1070.1 189.2L1070.4 188.1L1070.7 187.0L1071.0 186.0L1071.3 185.2L1071.7 183.9L1072.0 182.9L1072.3 182.0L1072.7 180.8L1073.0 179.9L1073.3 178.6L1073.7 177.5L1074.0 177.0L1074.4 175.6L1074.8 174.5L1075.1 173.5L1075.5 172.6L1075.9 171.3L1076.2 170.4L1076.6 169.4L1077.0 168.4L1077.4 167.3L1077.8 166.2L1078.2 165.2L1078.6 164.0L1079.0 163.3L1079.4 162.1L1079.8 161.1L1080.2 160.3L1080.6 159.1L1081.0 158.2L1081.5 157.1L1081.9 156.2L1082.3 155.1L1082.7 154.0L1083.1 153.2L1083.5 152.0L1083.9 150.9L1084.4 149.9L1084.8 149.0L1085.2 147.8L1085.6 147.0L1086.0 146.0L1086.4 145.0L1086.8 143.8L1087.2 142.9L1087.6 141.7L1088.0 140.7L1088.4 139.8L1088.8 138.8L1089.2 137.7L1089.6 136.7L1090.0 135.6L1090.4 134.6L1090.9 133.6L1091.3 132.6L1091.7 131.6L1092.1 130.6L1092.5 129.6L1092.9 128.4L1093.4 127.5L1093.8 126.5L1094.2 125.5L1094.7 124.6L1095.1 123.5L1095.5 122.5L1096.0 121.5L1096.4 120.6L1096.9 119.5L1097.4 118.5L1097.8 117.5L1098.3 116.5L1098.8 115.6L1099.3 114.6L1099.8 113.6L1100.3 112.5L1100.8 111.5L1101.3 110.6L1101.8 109.5L1102.3 108.7L1102.9 107.8L1103.4 106.8L1103.9 105.8L1104.5 104.9L1105.0 103.9L1105.6 103.0L1106.1 102.1L1106.7 101.1L1107.3 100.2L1107.9 99.2L1108.4 98.3L1109.0 97.4L1109.6 96.4L1110.3 95.6L1110.9 94.5L1111.5 93.7L1112.1 92.9L1112.8 91.9L1113.4 91.0L1114.1 90.1L1114.7 89.3L1115.4 88.5L1116.1 87.6L1116.8 86.7L1117.4 85.8L1118.2 85.1L1118.9 84.2L1119.6 83.5L1120.3 82.5L1121.1 81.8L1121.8 80.9L1122.6 80.2L1123.3 79.4L1124.1 78.7L1124.9 77.9L1125.7 77.1L1126.5 76.4L1127.3 75.7L1128.1 75.0L1128.9 74.2L1129.8 73.5L1130.6 72.8L1131.5 72.2L1132.4 71.5L1133.2 70.8L1134.1 70.2L1135.0 69.6L1135.9 69.0L1136.8 68.5L1137.7 67.8L1138.7 67.3L1139.6 66.7L1140.5 66.1L1141.5 65.6L1142.4 65.1L1143.4 64.7L1144.4 64.0L1145.3 63.5L1146.3 63.1L1147.3 62.6L1148.3 62.2L1149.3 61.8L1150.3 61.3L1151.3 60.9L1152.4 60.6L1153.4 60.2L1154.4 59.9L1155.4 59.5L1156.5 59.2L1157.5 58.8L1158.6 58.5L1159.6 58.1L1160.7 57.9L1161.7 57.7L1162.8 57.4L1163.9 57.2L1164.9 56.9L1166.0 56.6L1167.1 56.5L1168.1 56.3L1169.2 56.0L1170.3 55.7L1171.4 55.6L1172.5 55.5L1173.5 55.2L1174.6 55.1L1175.7 54.9L1176.8 54.7L1177.9 54.5L1179.0 54.5L1180.1 54.3L1181.2 54.1L1182.2 53.9L1183.3 54.0L1184.4 53.7L1185.5 53.6L1186.6 53.5L1187.7 53.4L1188.8 53.2L1189.9 53.2L1191.0 53.1L1192.1 53.0L1193.2 52.9L1194.3 52.8L1195.4 52.7L1196.5 52.8L1197.6 52.5L1198.7 52.5L1199.8 52.4L1200.9 52.4L1202.0 52.4L1203.1 52.3L1204.2 52.2L1205.3 52.2L1206.4 52.1L1207.5 52.1L1208.5 51.9L1209.6 52.0L1210.7 51.9L1211.8 51.9L1212.9 51.9L1214.0 51.8L1215.1 51.8L1216.2 51.8L1217.3 51.6L1218.4 51.7L1219.5 51.6L1220.6 51.6L1221.7 51.5L1222.8 51.5L1223.9 51.5L1225.0 51.5L1226.1 51.4L1227.2 51.4L1228.3 51.4L1229.4 51.4L1230.5 51.3L1231.6 51.2L1232.7 51.2L1233.8 51.2L1234.9 51.1L1236.0 51.1L1237.1 51.1L1238.2 51.0L1239.3 51.0L1240.4 51.0L1241.5 50.9L1242.6 50.9L1243.7 50.8L1244.8 50.9L1245.9 50.9L1247.0 50.8L1248.1 50.8L1249.2 50.8L1250.3 50.8L1251.4 50.9L1252.5 50.8L1253.6 50.8L1254.7 50.9L1255.8 50.8L1256.9 50.8L1258.0 50.8L1259.1 50.9L1260.2 50.8L1261.3 50.7L1262.4 50.9L1263.5 50.8L1264.6 50.8L1265.7 50.9L1266.8 50.8L1267.9 50.9L1269.0 50.9L1270.1 50.8L1271.2 50.8L1272.3 50.8L1273.4 50.8L1274.5 50.8L1275.6 50.8L1276.7 50.8L1277.8 50.7L1278.9 50.8L1280.0 50.9L1281.1 50.9L1282.2 50.8L1283.3 50.8L1284.4 50.8L1285.5 50.8L1286.6 50.7L1287.7 50.8L1288.8 50.8L1289.9 50.8L1291.0 50.7L1292.1 50.8L1293.2 50.9L1294.3 50.7L1295.4 50.9L1296.5 50.8L1297.6 50.8L1298.7 50.7L1299.8 50.9L1300.9 50.8L1302.0 50.8L1303.1 50.8L1304.2 50.8L1305.3 50.9L1306.4 50.8L1307.5 50.9L1308.6 50.8L1309.7 50.9L1310.8 50.9L1311.9 51.1L1313.0 50.9L1314.1 51.0L1315.2 51.1L1316.3 51.1L1317.4 51.3L1318.5 51.3L1319.6 51.3L1320.7 51.3L1321.8 51.2L1322.9 51.3L1324.0 51.4L1325.1 51.4L1326.2 51.4L1327.3 51.4L1328.4 51.5L1329.5 51.6L1330.6 51.6L1331.7 51.6L1332.8 51.6L1333.9 51.6L1335.0 51.6L1336.1 51.6L1337.2 51.5L1338.3 51.7L1339.4 51.7L1340.5 51.7L1341.6 51.7L1342.7 51.7L1343.8 51.8L1344.9 51.7L1346.0 51.6L1347.1 51.6L1348.2 51.7L1349.3 51.8L1350.4 51.7L1351.5 51.8L1352.6 51.7L1353.7 51.7L1354.8 51.7L1355.9 51.6L1357.0 51.7L1358.1 51.7L1359.2 51.8L1360.3 51.7L1361.4 51.7L1362.5 51.8L1363.6 51.8L1364.7 51.7L1365.8 51.8L1366.9 51.8L1368.0 51.8L1369.1 51.9L1370.2 51.8L1371.3 51.9L1372.4 51.9L1373.5 51.8L1374.6 51.9L1375.7 51.9L1376.8 51.9L1377.9 51.9L1379.0 51.9L1380.1 51.9L1381.2 51.9L1382.3 52.0L1383.4 52.0L1384.5 52.0L1385.6 52.0L1386.7 52.0L1387.8 52.1L1388.9 52.1L1390.0 52.0L1391.1 52.1L1392.2 52.0L1393.3 52.1L1394.4 52.1L1395.5 52.1L1396.6 52.0L1397.7 52.0L1398.8 52.1L1399.9 52.2L1401.0 52.1L1402.1 52.1L1403.2 52.1L1404.3 52.1L1405.4 52.0L1406.5 52.0L1407.6 52.0L1408.7 51.8L1409.8 51.9L1410.9 51.8L1412.0 51.6L1413.1 51.7L1414.2 51.6L1415.3 51.5L1416.4 51.5L1417.5 51.4L1418.6 51.2L1419.7 51.2L1420.8 51.1L1421.9 51.2L1423.0 51.0L1424.1 50.8L1425.2 50.8L1426.3 50.7L1427.4 50.6L1428.5 50.5L1429.6 50.4L1430.7 50.5L1431.8 50.3L1432.9 50.1L1434.0 50.1L1435.0 50.0L1436.1 50.0L1437.2 50.0L1438.3 49.9L1439.4 49.7L1440.5 49.8L1441.6 49.7L1442.7 49.6L1443.8 49.5L1444.9 49.5L1446.0 49.4L1447.1 49.3L1448.2 49.3L1449.3 49.2L1450.4 49.2L1451.5 49.1L1452.6 49.0L1453.7 49.0L1454.8 49.0L1455.9 48.7L1457.0 48.7L1458.1 48.7L1459.2 48.5L1460.3 48.4L1461.4 48.3L1462.5 48.2L1463.6 48.0L1464.7 47.9L1465.8 47.8L1466.9 47.7L1467.9 47.6L1469.0 47.5L1470.1 47.3L1471.2 47.2L1472.3 47.0L1473.4 46.7L1474.5 46.6L1475.6 46.6L1476.6 46.4L1477.7 46.1L1478.8 45.9L1479.9 45.7L1481.0 45.4L1482.0 45.3L1483.1 44.9L1484.2 44.7L1485.3 44.6L1486.3 44.1L1487.4 44.0L1488.5 43.7L1489.6 43.5L1490.6 43.3L1491.7 43.0L1492.8 42.8L1493.9 42.6L1494.9 42.4L1496.0 42.1L1497.1 41.9L1498.2 41.6L1499.2 41.5L1500.3 41.1L1501.4 40.9L1502.4 40.6L1503.5 40.2L1504.5 40.0L1505.6 39.6L1506.6 39.1L1507.6 38.9L1508.7 38.4L1509.8 38.3L1510.8 38.0L1511.9 37.8L1513.0 37.7L1514.1 37.5L1515.2 37.5L1516.3 37.3L1517.4 37.3L1518.5 37.2L1519.6 37.1L1520.7 37.0L1521.8 37.0L1522.9 36.9L1524.0 36.9L1525.1 36.8L1526.2 36.7L1527.3 36.7L1528.4 36.7L1529.5 36.6L1530.6 36.7L1531.7 36.8L1532.8 36.8L1533.9 36.7L1535.0 36.7L1536.1 36.8L1537.2 36.8L1538.3 36.8L1539.4 36.8L1540.5 36.8L1541.6 37.0L1542.7 37.1L1543.8 36.9L1544.9 36.9L1546.0 37.1L1547.1 37.2L1548.1 37.5L1549.2 37.8L1550.2 38.1L1551.3 38.4L1552.3 38.6L1553.4 39.1L1554.4 39.3L1555.5 39.7L1556.5 40.0L1557.6 40.3L1558.7 40.5L1559.8 40.7L1560.8 40.9L1561.9 41.1L1563.0 41.4L1564.1 41.4L1565.2 41.6L1566.3 41.9L1567.4 41.9L1568.5 42.1L1569.6 42.2L1570.6 42.4L1571.7 42.5L1572.8 42.7L1573.9 42.8L1575.0 42.8L1576.1 43.0L1577.2 43.1L1578.3 43.3L1579.4 43.4L1580.5 43.5L1581.6 43.6L1582.7 43.7L1583.8 43.8L1584.8 44.0L1585.9 44.1L1587.0 44.2L1588.1 44.3L1589.2 44.4L1590.3 44.5L1591.4 44.5L1592.5 44.6L1593.6 44.8L1594.7 45.0L1595.8 44.9L1596.9 45.0L1598.0 45.1L1599.1 45.2L1600.2 45.3L1601.3 45.3L1602.4 45.4L1603.5 45.6L1604.6 45.7L1605.7 45.7L1606.8 45.9L1607.9 46.0L1609.0 45.9L1610.1 46.1L1611.2 46.2L1612.3 46.1L1613.4 46.2L1614.5 46.3L1615.6 46.3L1616.7 46.2L1617.8 46.3L1618.9 46.2L1620.0 46.3L1621.1 46.2L1622.2 46.3L1623.3 46.2L1624.4 46.3L1625.5 46.2L1626.6 46.2L1627.7 46.3L1628.8 46.2L1629.9 46.2L1631.0 46.1L1632.1 46.1L1633.2 46.1L1634.3 46.1L1635.4 46.0L1636.5 46.1L1637.6 46.0L1638.7 46.0L1639.8 45.9L1640.9 45.9L1642.0 45.8L1643.1 45.7L1644.1 45.6L1645.2 45.5L1646.3 45.4L1647.4 45.4L1648.5 45.2L1649.6 45.3L1650.7 45.0L1651.8 44.9L1652.9 44.7L1654.0 44.4L1655.1 44.4L1656.2 44.3L1657.3 44.0L1658.3 44.0L1659.4 43.7L1660.5 43.5L1661.6 43.4L1662.7 43.1L1663.7 42.9L1664.8 42.7L1665.9 42.4L1667.0 42.3L1668.0 42.2L1669.1 41.7L1670.2 41.5L1671.3 41.2L1672.3 41.0L1673.4 40.9L1674.5 40.7L1675.6 40.5L1676.7 40.3L1677.8 40.1L1678.9 40.1L1680.0 39.8L1681.0 39.8L1682.1 39.6L1683.2 39.5L1684.3 39.3L1685.4 39.1L1686.5 39.0L1687.6 38.9L1688.7 38.7L1689.8 38.5L1690.9 38.5L1691.9 38.3L1693.0 38.0L1694.1 37.8L1695.2 37.6L1696.0 37.6" stroke="#ff9c9c"/>
<path d="M207.7 1092.4L208.8 1092.2L209.9 1092.7L211.0 1093.3L212.1 1092.9L213.2 1091.8L214.3 1092.5L215.4 1092.4L216.5 1092.5L217.6 1092.1L218.7 1092.5L219.8 1092.3L220.9 1093.0L222.0 1092.9L223.1 1092.3L224.2 1092.3L225.3 1092.9L226.4 1093.4L227.5 1093.4L228.6 1093.2L229.7 1091.9L230.8 1093.2L231.9 1093.1L233.0 1093.4L234.1 1093.0L235.2 1093.5L236.3 1093.4L237.4 1094.9L238.5 1094.2L239.5 1093.9L240.6 1094.0L241.7 1094.1L242.8 1094.3L243.9 1094.2L245.0 1094.4L246.1 1094.9L247.2 1094.9L248.3 1094.8L249.4 1095.3L250.5 1094.9L251.6 1094.5L252.7 1094.2L253.8 1094.7L254.9 1095.1L256.0 1095.3L257.1 1095.6L258.2 1094.9L259.3 1094.9L260.4 1095.6L261.5 1095.7L262.6 1095.1L263.7 1095.4L264.8 1095.9L265.9 1095.5L267.0 1095.3L268.1 1094.5L269.2 1095.9L270.3 1095.7L271.4 1095.5L272.5 1095.2L273.6 1094.9L274.7 1095.4L275.8 1095.4L276.9 1095.9L278.0 1095.0L279.1 1096.1L280.2 1095.5L281.3 1096.0L282.4 1095.1L283.5 1095.6L284.6 1096.0L285.7 1095.5L286.8 1094.8L287.9 1095.3L289.0 1095.6L290.1 1094.8L291.2 1094.7L292.3 1095.4L293.4 1094.9L294.5 1095.5L295.6 1094.7L296.7 1094.4L297.8 1094.8L298.9 1095.7L300.0 1094.7L301.1 1095.0L302.2 1095.0L303.3 1094.5L304.4 1095.3L305.5 1094.9L306.6 1094.9L307.7 1094.0L308.8 1093.9L309.9 1093.5L311.0 1094.5L312.1 1094.4L313.2 1094.8L314.3 1095.1L315.4 1094.3L316.5 1094.2L317.6 1094.5L318.7 1094.9L319.8 1093.9L320.9 1094.4L322.0 1094.0L323.1 1093.9L324.2 1094.4L325.3 1093.6L326.4 1093.4L327.5 1094.1L328.6 1093.8L329.7 1093.6L330.8 1093.6L331.9 1093.8L333.0 1093.4L334.1 1093.8L335.2 1093.5L336.3 1093.9L337.3 1093.7L338.4 1093.5L339.5 1092.9L340.6 1093.0L341.7 1092.6L342.8 1093.9L343.9 1092.5L345.0 1092.7L346.1 1093.0L347.2 1091.7L348.3 1091.8L349.4 1091.9L350.5 1091.5L351.6 1091.3L352.7 1091.5L353.8 1092.1L354.9 1091.7L355.9 1091.3L357.0 1091.2L358.1 1090.3L359.2 1091.2L360.3 1090.9L361.4 1090.2L362.5 1090.6L363.6 1090.2L364.7 1089.9L365.8 1089.6L366.9 1089.6L367.9 1089.3L369.0 1089.7L370.1 1089.5L371.2 1089.3L372.3 1088.9L373.4 1088.7L374.5 1089.5L375.5 1087.7L376.6 1088.8L377.7 1088.3L378.8 1088.0L379.9 1087.6L381.0 1087.5L382.1 1086.9L383.2 1086.7L384.2 1087.1L385.3 1086.2L386.4 1087.1L387.5 1087.1L388.6 1085.0L389.7 1085.6L390.8 1086.3L391.9 1086.1L392.9 1085.9L394.0 1085.8L395.1 1085.8L396.2 1085.7L397.3 1085.9L398.4 1085.0L399.5 1085.2L400.6 1084.0L401.6 1084.5L402.7 1083.8L403.8 1084.8L404.9 1085.0L406.0 1084.1L407.1 1083.1L408.2 1083.4L409.3 1083.3L410.3 1083.2L411.4 1083.4L412.5 1083.2L413.6 1081.5L414.7 1083.0L415.8 1082.0L416.8 1081.8L417.9 1082.4L419.0 1081.5L420.1 1080.9L421.2 1080.7L422.3 1081.1L423.3 1081.2L424.4 1081.3L425.5 1080.4L426.6 1080.1L427.7 1080.7L428.7 1079.7L429.8 1080.3L430.9 1079.6L432.0 1079.4L433.1 1079.0L434.2 1079.0L435.2 1078.5L436.3 1078.2L437.4 1078.2L438.5 1077.8L439.6 1078.0L440.6 1077.7L441.7 1077.3L442.8 1077.1L443.9 1076.9L445.0 1077.5L446.0 1076.6L447.1 1076.1L448.2 1076.0L449.3 1076.2L450.4 1075.7L451.4 1075.5L452.5 1075.2L453.6 1075.2L454.7 1075.1L455.8 1074.9L456.8 1073.8L457.9 1073.9L459.0 1073.0L460.1 1074.2L461.2 1074.2L462.3 1074.1L463.3 1073.4L464.4 1073.6L465.5 1072.9L466.6 1072.7L467.7 1071.9L468.8 1072.0L469.8 1071.9L470.9 1072.4L472.0 1072.5L473.1 1071.4L474.2 1071.6L475.3 1071.3L476.3 1070.7L477.4 1070.1L478.5 1070.3L479.6 1069.8L480.7 1070.1L481.7 1070.0L482.8 1069.8L483.9 1069.6L485.0 1069.6L486.1 1068.8L487.2 1069.4L488.2 1068.1L489.3 1068.6L490.4 1068.6L491.5 1067.8L492.5 1067.3L493.6 1068.0L494.7 1067.2L495.8 1067.6L496.9 1067.4L497.9 1066.9L499.0 1066.6L500.1 1066.8L501.2 1066.4L502.2 1065.6L503.3 1065.8L504.4 1065.8L505.5 1065.4L506.6 1065.2L507.6 1064.9L508.7 1064.7L509.8 1064.1L510.9 1063.7L512.0 1064.6L513.0 1063.6L514.1 1063.8L515.2 1062.8L516.3 1063.3L517.4 1062.7L518.4 1064.1L519.5 1062.2L520.6 1062.0L521.7 1062.6L522.8 1062.5L523.8 1060.9L524.9 1061.7L526.0 1061.8L527.1 1060.7L528.2 1061.3L529.3 1060.6L530.3 1060.2L531.4 1060.3L532.5 1060.1L533.6 1059.5L534.7 1060.9L535.8 1059.6L536.9 1059.3L538.0 1059.8L539.0 1059.3L540.1 1059.7L541.2 1058.9L542.3 1059.0L543.4 1058.7L544.5 1058.6L545.6 1058.4L546.7 1058.3L547.8 1058.9L548.9 1057.8L550.0 1057.8L551.1 1057.8L552.2 1058.1L553.3 1058.0L554.4 1058.1L555.5 1057.1L556.6 1057.7L557.7 1057.5L558.7 1057.4L559.8 1057.5L560.9 1056.5L562.0 1057.4L563.1 1057.2L564.2 1056.4L565.3 1056.9L566.4 1057.4L567.5 1056.5L568.6 1056.7L569.7 1056.1L570.7 1055.7L571.8 1055.4L572.9 1055.4L574.0 1055.9L575.0 1055.4L576.1 1054.5L577.2 1055.0L578.3 1054.3L579.3 1053.9L580.4 1054.1L581.5 1053.3L582.6 1052.9L583.7 1053.9L584.8 1052.4L585.9 1053.3L586.9 1052.3L588.0 1052.8L589.1 1052.6L590.2 1052.4L591.3 1051.6L592.4 1052.4L593.5 1052.3L594.6 1051.8L595.7 1052.1L596.8 1052.4L597.9 1051.6L599.0 1051.9L600.1 1051.2L601.2 1051.6L602.3 1051.6L603.3 1052.2L604.4 1051.4L605.5 1051.0L606.6 1051.2L607.7 1050.1L608.8 1050.7L609.9 1049.9L610.9 1049.7L612.0 1050.2L613.1 1049.6L614.2 1049.9L615.3 1048.5L616.4 1049.1L617.4 1048.6L618.5 1048.5L619.6 1047.6L620.7 1048.6L621.8 1048.1L622.9 1047.5L624.0 1047.1L625.0 1047.1L626.1 1047.9L627.2 1047.1L628.3 1046.8L629.4 1047.0L630.5 1046.6L631.5 1046.5L632.6 1046.5L633.7 1046.2L634.8 1046.2L635.9 1045.2L637.0 1045.5L638.1 1045.2L639.1 1045.2L640.2 1044.9L641.3 1044.5L642.4 1044.4L643.5 1044.8L644.6 1044.0L645.7 1043.5L646.7 1044.1L647.8 1044.1L648.9 1043.4L650.0 1043.4L651.1 1042.8L652.2 1042.9L653.2 1043.2L654.3 1042.9L655.4 1042.5L656.5 1042.1L657.6 1041.3L658.7 1041.9L659.7 1041.8L660.8 1041.8L661.9 1042.0L663.0 1041.2L664.1 1041.2L665.1 1040.1L666.2 1040.9L667.3 1040.5L668.4 1040.5L669.5 1040.0L670.5 1039.7L671.6 1039.9L672.7 1038.8L673.8 1039.1L674.9 1039.1L675.9 1038.1L677.0 1037.7L678.1 1038.1L679.1 1037.7L680.2 1037.7L681.3 1037.5L682.4 1036.6L683.4 1036.8L684.5 1036.9L685.6 1036.0L686.6 1035.8L687.7 1035.2L688.8 1035.7L689.8 1035.9L690.9 1034.3L692.0 1034.9L693.0 1034.6L694.1 1033.8L695.2 1033.5L696.2 1033.0L697.3 1032.8L698.3 1032.9L699.4 1032.8L700.4 1032.3L701.5 1032.3L702.6 1031.7L703.6 1030.8L704.7 1031.5L705.7 1031.1L706.8 1030.0L707.8 1030.7L708.9 1029.8L709.9 1029.4L711.0 1029.8L712.0 1027.6L713.1 1027.6L714.1 1028.2L715.1 1027.5L716.2 1026.9L717.2 1027.5L718.3 1026.7L719.3 1025.7L720.3 1025.6L721.4 1025.8L722.4 1025.8L723.5 1023.9L724.5 1024.5L725.5 1023.8L726.6 1022.9L727.6 1023.1L728.6 1022.2L729.6 1022.2L730.7 1022.7L731.7 1021.8L732.7 1021.5L733.7 1021.0L734.7 1020.5L735.8 1020.4L736.8 1019.1L737.8 1019.0L738.8 1019.0L739.8 1017.9L740.8 1017.6L741.8 1017.8L742.8 1017.5L743.8 1016.2L744.8 1015.6L745.8 1015.7L746.8 1015.1L747.8 1014.2L748.7 1014.2L749.7 1013.7L750.7 1013.0L751.6 1013.7L752.6 1012.5L753.5 1011.7L754.5 1011.3L755.4 1011.5L756.4 1010.2L757.3 1008.9L758.2 1008.7L759.2 1008.0L760.1 1007.2L761.0 1006.9L761.9 1006.3L762.8 1005.5L763.7 1004.7L764.6 1004.6L765.4 1003.0L766.3 1003.3L767.2 1002.3L768.0 1001.7L768.9 1000.0L769.8 1000.9L770.6 998.8L771.4 998.5L772.3 998.4L773.1 997.2L773.9 996.5L774.8 995.1L775.6 995.1L776.4 994.6L777.2 994.1L778.0 992.9L778.8 992.4L779.6 991.7L780.4 990.5L781.2 989.7L782.0 990.1L782.8 988.1L783.6 988.2L784.4 987.0L785.2 986.8L785.9 985.1L786.7 984.8L787.5 984.0L788.2 982.9L789.0 982.4L789.8 981.1L790.5 980.6L791.2 979.7L792.0 979.3L792.7 978.2L793.5 976.8L794.2 976.4L794.9 975.7L795.7 974.6L796.4 974.7L797.1 973.4L797.8 972.8L798.5 971.3L799.2 970.6L799.9 970.3L800.6 968.5L801.3 968.4L802.0 967.4L802.7 966.3L803.4 965.7L804.0 964.3L804.7 964.0L805.4 962.5L806.1 961.6L806.7 961.9L807.4 960.1L808.1 958.7L808.7 959.1L809.4 957.5L810.0 955.4L810.7 956.0L811.4 955.5L812.0 954.4L812.7 954.1L813.3 952.4L814.0 951.8L814.6 950.3L815.3 949.9L815.9 949.6L816.6 948.3L817.2 947.2L817.9 945.5L818.5 945.2L819.2 944.0L819.8 943.9L820.5 942.4L821.1 942.0L821.7 940.5L822.4 940.8L823.0 938.7L823.7 938.3L824.3 938.4L824.9 936.5L825.6 935.2L826.2 934.9L826.8 934.2L827.4 933.2L828.1 931.1L828.7 931.1L829.3 929.2L829.9 930.0L830.5 928.3L831.1 927.2L831.8 926.7L832.4 925.7L833.0 924.1L833.6 924.4L834.2 922.7L834.8 921.1L835.3 921.5L835.9 920.6L836.5 919.6L837.1 918.4L837.7 916.8L838.3 916.7L838.8 916.1L839.4 914.7L840.0 914.1L840.5 912.2L841.1 912.0L841.7 911.0L842.2 909.0L842.8 908.0L843.3 907.5L843.9 906.8L844.4 906.0L844.9 904.8L845.5 903.9L846.0 902.9L846.5 902.0L847.1 901.3L847.6 900.3L848.1 899.1L848.6 898.2L849.1 897.0L849.6 896.5L850.1 895.0L850.6 894.9L851.1 893.2L851.6 892.4L852.1 890.9L852.5 890.1L853.0 889.3L853.5 888.3L853.9 887.0L854.4 885.8L854.9 885.3L855.3 884.4L855.8 883.5L856.2 882.8L856.7 881.2L857.1 879.5L857.6 879.2L858.0 877.5L858.5 876.7L858.9 876.7L859.4 875.5L859.8 874.0L860.3 873.0L860.7 872.2L861.2 870.5L861.6 870.5L862.1 869.1L862.6 869.0L863.0 866.8L863.5 866.7L863.9 865.0L864.4 864.7L864.9 862.9L865.3 862.6L865.8 861.1L866.3 859.9L866.7 859.2L867.2 858.5L867.7 857.5L868.1 857.0L868.6 855.6L869.1 853.2L869.5 853.1L870.0 851.5L870.4 851.1L870.9 850.6L871.3 848.7L871.8 847.8L872.2 847.4L872.7 846.2L873.1 845.9L873.5 844.4L874.0 843.5L874.4 843.0L874.8 841.0L875.3 840.2L875.7 838.8L876.1 838.3L876.5 837.6L876.9 836.7L877.4 835.1L877.8 833.8L878.2 832.8L878.6 831.5L879.0 831.1L879.4 830.6L879.8 828.0L880.2 827.1L880.6 827.6L881.0 825.3L881.4 825.1L881.9 823.4L882.3 823.2L882.7 822.2L883.1 820.9L883.5 820.2L883.9 818.8L884.3 818.0L884.7 817.5L885.1 816.2L885.5 814.4L885.9 813.3L886.3 812.5L886.7 811.5L887.1 810.6L887.4 809.3L887.8 808.8L888.2 807.5L888.6 806.6L889.0 805.5L889.4 804.7L889.8 802.9L890.2 803.0L890.6 801.5L891.0 800.5L891.4 799.5L891.7 798.7L892.1 797.5L892.5 796.3L892.9 795.1L893.3 793.4L893.6 793.2L894.0 791.9L894.4 790.9L894.8 791.0L895.1 788.2L895.5 787.9L895.9 787.4L896.2 786.2L896.6 785.3L897.0 783.2L897.3 782.3L897.7 781.9L898.0 780.5L898.4 780.3L898.7 778.7L899.1 777.6L899.4 776.7L899.8 775.3L900.1 774.4L900.5 773.1L900.8 772.3L901.1 771.0L901.5 770.3L901.8 768.6L902.2 767.5L902.5 767.3L902.8 766.1L903.2 764.6L903.5 763.8L903.8 762.4L904.2 762.7L904.5 760.1L904.8 760.5L905.2 758.3L905.5 757.8L905.9 756.5L906.2 755.4L906.5 754.9L906.9 753.8L907.2 752.3L907.5 751.0L907.9 751.2L908.2 749.9L908.6 748.3L908.9 747.1L909.2 746.3L909.6 745.1L909.9 744.5L910.3 742.6L910.6 742.0L910.9 740.6L911.3 740.4L911.6 739.6L911.9 737.7L912.3 736.9L912.6 736.2L912.9 734.5L913.3 733.2L913.6 732.9L913.9 731.7L914.2 730.3L914.6 730.0L914.9 728.4L915.2 726.5L915.5 726.4L915.9 725.1L916.2 724.9L916.5 723.0L916.8 721.9L917.1 721.1L917.5 720.0L917.8 718.2L918.1 717.8L918.4 716.6L918.7 716.3L919.1 715.6L919.4 713.1L919.7 712.1L920.0 711.1L920.3 710.1L920.6 709.1L920.9 708.3L921.3 707.7L921.6 705.6L921.9 704.5L922.2 703.3L922.5 703.5L922.8 702.5L923.2 700.3L923.5 699.2L923.8 698.9L924.1 698.2L924.4 697.1L924.8 695.7L925.1 694.9L925.4 693.7L925.7 692.3L926.0 692.3L926.4 690.4L926.7 688.9L927.0 688.1L927.3 686.6L927.7 686.2L928.0 685.6L928.3 683.6L928.6 683.5L929.0 682.9L929.3 681.1L929.6 679.4L929.9 678.5L930.2 677.6L930.6 676.2L930.9 675.2L931.2 674.5L931.5 673.5L931.8 672.8L932.2 671.0L932.5 671.2L932.8 669.8L933.1 668.7L933.4 667.0L933.8 666.9L934.1 665.0L934.4 664.9L934.7 663.5L935.0 661.6L935.3 660.8L935.7 660.7L936.0 659.3L936.3 657.7L936.6 656.8L936.9 655.8L937.2 654.3L937.5 653.5L937.8 652.2L938.1 651.3L938.4 650.6L938.8 648.9L939.1 648.6L939.4 647.3L939.7 646.5L940.0 645.5L940.3 644.6L940.6 643.3L940.9 642.2L941.2 640.8L941.5 640.1L941.8 638.4L942.1 637.6L942.4 637.0L942.7 635.6L943.0 634.7L943.3 633.0L943.6 633.0L943.9 631.1L944.2 630.5L944.5 629.2L944.9 628.6L945.2 627.0L945.5 625.7L945.8 624.2L946.1 623.8L946.4 622.4L946.7 622.1L947.0 621.4L947.3 618.8L947.6 618.1L947.9 617.8L948.2 617.1L948.5 615.7L948.8 614.6L949.2 613.6L949.5 612.6L949.8 612.0L950.1 610.5L950.4 608.7L950.7 607.9L951.0 607.2L951.3 605.7L951.6 604.9L951.9 603.7L952.3 602.6L952.6 602.1L952.9 600.6L953.2 599.2L953.5 598.3L953.8 597.6L954.1 597.4L954.4 595.6L954.7 595.0L955.1 593.6L955.4 591.4L955.7 591.4L956.0 589.8L956.3 588.6L956.6 587.6L956.9 587.8L957.2 585.3L957.6 584.7L957.9 584.4L958.2 583.1L958.5 581.0L958.8 580.7L959.1 579.4L959.4 578.5L959.7 577.9L960.0 576.2L960.4 575.3L960.7 575.0L961.0 572.5L961.3 572.1L961.6 571.4L961.9 569.6L962.2 568.8L962.5 567.5L962.8 567.1L963.1 565.7L963.5 565.2L963.8 564.3L964.1 562.8L964.4 561.5L964.7 560.8L965.0 559.6L965.3 558.0L965.6 557.9L965.9 556.5L966.3 555.7L966.6 553.7L966.9 553.6L967.2 553.1L967.5 551.4L967.8 549.5L968.1 549.1L968.4 548.0L968.7 547.0L969.0 545.8L969.3 545.0L969.7 543.6L970.0 542.8L970.3 541.4L970.6 540.6L970.9 540.0L971.2 538.3L971.5 537.7L971.8 536.0L972.1 535.2L972.4 534.2L972.7 533.7L973.0 531.8L973.3 531.6L973.6 529.4L974.0 528.9L974.3 528.3L974.6 527.2L974.9 525.4L975.2 524.2L975.5 524.1L975.8 522.1L976.1 521.8L976.4 520.3L976.7 519.5L977.0 519.4L977.3 518.0L977.6 516.7L977.9 514.7L978.2 514.3L978.5 513.1L978.8 512.0L979.1 511.6L979.4 509.2L979.8 509.0L980.1 507.9L980.4 506.5L980.7 506.5L981.0 504.1L981.3 503.6L981.6 502.6L981.9 500.6L982.2 499.8L982.5 499.0L982.8 498.7L983.1 497.7L983.4 496.5L983.7 495.2L984.0 493.2L984.3 493.1L984.6 491.8L984.9 491.4L985.2 490.4L985.5 489.7L985.8 488.0L986.1 487.0L986.4 485.2L986.7 484.6L987.0 483.0L987.3 482.8L987.6 480.9L987.9 480.2L988.2 478.9L988.5 478.0L988.8 477.3L989.1 475.9L989.4 475.1L989.7 473.6L990.0 473.5L990.3 471.6L990.6 471.2L990.9 470.6L991.2 467.7L991.5 467.2L991.7 466.5L992.0 466.0L992.3 464.2L992.6 463.5L992.9 462.0L993.2 461.5L993.5 459.7L993.8 459.5L994.1 456.9L994.4 456.3L994.7 456.7L995.0 455.0L995.3 453.5L995.6 453.6L995.9 452.1L996.2 451.1L996.5 449.4L996.8 448.8L997.1 447.7L997.4 445.8L997.7 445.6L998.0 444.2L998.3 443.7L998.5 442.7L998.8 440.9L999.1 439.8L999.4 439.1L999.7 438.2L1000.0 436.7L1000.3 435.8L1000.6 435.0L1000.9 433.9L1001.2 433.1L1001.5 431.7L1001.8 430.2L1002.0 428.8L1002.3 428.7L1002.6 427.2L1002.9 426.1L1003.2 425.1L1003.5 423.6L1003.8 422.9L1004.1 421.1L1004.4 420.8L1004.6 419.6L1004.9 419.5L1005.2 417.9L1005.5 416.6L1005.8 415.7L1006.1 414.8L1006.3 413.3L1006.6 412.4L1006.9 411.3L1007.2 411.2L1007.5 409.3L1007.8 407.5L1008.0 407.4L1008.3 407.0L1008.6 404.7L1008.9 405.1L1009.2 402.9L1009.4 402.2L1009.7 400.6L1010.0 399.6L1010.3 398.2L1010.6 397.2L1010.8 395.8L1011.1 395.8L1011.4 394.0L1011.7 393.4L1012.0 392.4L1012.2 391.0L1012.5 390.1L1012.8 389.0L1013.1 387.8L1013.4 386.9L1013.7 385.9L1013.9 384.5L1014.2 383.3L1014.5 382.4L1014.8 381.7L1015.1 381.0L1015.4 380.0L1015.7 378.5L1015.9 377.7L1016.2 376.3L1016.5 375.6L1016.8 374.2L1017.1 373.2L1017.4 372.0L1017.7 371.0L1018.0 370.5L1018.3 368.5L1018.5 367.8L1018.8 366.6L1019.1 366.0L1019.4 365.2L1019.7 363.5L1020.0 361.7L1020.3 361.6L1020.6 360.6L1020.9 358.8L1021.2 358.2L1021.5 357.2L1021.8 355.5L1022.1 355.3L1022.4 354.2L1022.7 353.0L1023.0 351.6L1023.3 350.6L1023.5 349.6L1023.8 348.9L1024.1 347.4L1024.4 347.0L1024.7 345.7L1025.0 343.9L1025.3 343.9L1025.6 342.4L1025.9 341.2L1026.2 340.3L1026.5 338.7L1026.8 338.2L1027.1 336.4L1027.4 335.8L1027.7 335.4L1028.1 334.3L1028.4 332.8L1028.7 331.5L1029.0 331.0L1029.3 329.7L1029.6 328.7L1029.9 327.7L1030.2 326.2L1030.5 325.7L1030.8 323.8L1031.1 323.7L1031.4 321.9L1031.7 321.1L1032.0 320.0L1032.3 319.3L1032.7 318.3L1033.0 317.1L1033.3 316.1L1033.6 315.0L1033.9 313.8L1034.2 312.3L1034.5 311.2L1034.8 310.1L1035.1 309.6L1035.4 308.5L1035.7 307.5L1036.1 306.5L1036.4 305.3L1036.7 304.1L1037.0 302.9L1037.3 301.8L1037.6 301.5L1037.9 300.3L1038.2 298.7L1038.5 297.9L1038.8 297.1L1039.1 296.3L1039.4 294.7L1039.7 293.8L1040.1 293.0L1040.4 291.3L1040.7 290.4L1041.0 289.6L1041.3 288.3L1041.6 287.9L1041.9 286.6L1042.2 285.4L1042.5 284.1L1042.8 283.4L1043.1 282.3L1043.4 281.0L1043.7 280.0L1044.1 278.7L1044.4 277.9L1044.7 277.1L1045.0 276.1L1045.3 274.9L1045.6 273.9L1045.9 272.5L1046.2 271.5L1046.6 270.8L1046.9 269.6L1047.2 268.3L1047.5 267.5L1047.8 266.5L1048.1 265.4L1048.4 264.3L1048.8 263.1L1049.1 262.2L1049.4 261.4L1049.7 260.1L1050.0 258.8L1050.4 258.0L1050.7 256.6L1051.0 255.9L1051.3 254.7L1051.6 253.9L1051.9 252.7L1052.3 251.8L1052.6 251.0L1052.9 249.5L1053.2 248.3L1053.5 247.5L1053.8 246.3L1054.2 245.3L1054.5 244.1L1054.8 243.3L1055.1 242.1L1055.4 240.7L1055.7 240.0L1056.1 239.0L1056.4 238.1L1056.7 236.7L1057.0 235.6L1057.3 234.9L1057.6 233.6L1057.9 232.6L1058.2 231.7L1058.6 230.7L1058.9 229.5L1059.2 228.2L1059.5 227.5L1059.8 226.2L1060.1 225.2L1060.4 224.5L1060.7 223.3L1061.1 221.9L1061.4 220.9L1061.7 219.9L1062.0 218.8L1062.3 217.5L1062.6 216.9L1062.9 215.9L1063.2 214.7L1063.5 213.6L1063.8 212.6L1064.2 211.6L1064.5 210.3L1064.8 209.4L1065.1 208.3L1065.4 207.4L1065.7 206.3L1066.0 205.0L1066.3 204.0L1066.6 203.3L1066.9 201.9L1067.2 201.0L1067.5 199.8L1067.8 199.0L1068.2 197.8L1068.5 196.7L1068.8 195.5L1069.1 194.6L1069.4 193.7L1069.7 192.6L1070.0 191.3L1070.3 190.6L1070.6 189.3L1070.9 188.2L1071.3 187.3L1071.6 186.1L1071.9 185.1L1072.2 184.0L1072.5 183.0L1072.9 181.9L1073.2 180.7L1073.5 180.0L1073.9 178.8L1074.2 178.0L1074.6 176.8L1074.9 175.8L1075.3 174.7L1075.6 173.8L1076.0 172.6L1076.4 171.5L1076.8 170.6L1077.1 169.2L1077.5 168.4L1077.9 167.5L1078.3 166.4L1078.7 165.5L1079.1 164.5L1079.5 163.4L1079.9 162.3L1080.3 161.4L1080.7 160.2L1081.1 159.2L1081.5 158.3L1082.0 157.3L1082.4 156.4L1082.8 155.2L1083.2 154.0L1083.6 153.2L1084.0 152.3L1084.4 151.1L1084.9 150.3L1085.3 149.3L1085.7 148.0L1086.1 147.0L1086.5 145.9L1086.9 145.1L1087.3 144.0L1087.7 143.0L1088.1 141.8L1088.5 140.8L1088.9 139.8L1089.3 138.7L1089.7 137.7L1090.1 136.7L1090.5 135.8L1090.9 134.8L1091.3 133.8L1091.8 132.7L1092.2 131.7L1092.6 130.7L1093.0 129.7L1093.4 128.6L1093.8 127.6L1094.3 126.6L1094.7 125.6L1095.1 124.6L1095.6 123.5L1096.0 122.7L1096.5 121.5L1096.9 120.6L1097.4 119.5L1097.8 118.7L1098.3 117.7L1098.8 116.6L1099.3 115.6L1099.8 114.6L1100.2 113.7L1100.7 112.7L1101.2 111.9L1101.7 110.7L1102.3 109.8L1102.8 108.8L1103.3 107.8L1103.8 106.9L1104.4 105.9L1104.9 105.0L1105.5 104.0L1106.0 103.1L1106.6 102.1L1107.1 101.2L1107.7 100.2L1108.3 99.3L1108.9 98.3L1109.5 97.4L1110.1 96.5L1110.7 95.7L1111.3 94.8L1111.9 93.9L1112.5 92.9L1113.2 92.0L1113.8 91.1L1114.5 90.3L1115.1 89.4L1115.8 88.5L1116.5 87.7L1117.2 86.8L1117.9 85.9L1118.6 85.0L1119.3 84.3L1120.0 83.5L1120.7 82.7L1121.4 81.8L1122.2 81.0L1122.9 80.3L1123.7 79.5L1124.5 78.7L1125.3 77.9L1126.0 77.2L1126.8 76.4L1127.7 75.7L1128.5 74.9L1129.3 74.2L1130.1 73.5L1131.0 72.7L1131.8 72.2L1132.7 71.5L1133.5 70.9L1134.4 70.3L1135.3 69.5L1136.2 69.0L1137.1 68.3L1138.0 67.7L1138.9 67.0L1139.8 66.5L1140.8 65.9L1141.7 65.4L1142.7 64.9L1143.6 64.3L1144.6 63.8L1145.5 63.3L1146.5 62.9L1147.5 62.4L1148.5 61.9L1149.5 61.5L1150.5 61.0L1151.5 60.7L1152.5 60.2L1153.5 59.9L1154.6 59.5L1155.6 59.2L1156.6 58.8L1157.7 58.6L1158.7 58.2L1159.8 57.9L1160.8 57.6L1161.9 57.4L1162.9 57.1L1164.0 56.9L1165.1 56.6L1166.1 56.4L1167.2 56.2L1168.3 55.9L1169.4 55.8L1170.4 55.5L1171.5 55.2L1172.6 55.1L1173.7 54.9L1174.8 54.8L1175.8 54.6L1176.9 54.4L1178.0 54.3L1179.1 54.0L1180.2 54.0L1181.3 53.8L1182.4 53.8L1183.5 53.7L1184.6 53.5L1185.7 53.3L1186.7 53.2L1187.8 53.1L1188.9 53.0L1190.0 52.9L1191.1 52.7L1192.2 52.7L1193.3 52.6L1194.4 52.6L1195.5 52.4L1196.6 52.3L1197.7 52.3L1198.8 52.1L1199.9 52.1L1201.0 52.1L1202.1 52.0L1203.2 52.0L1204.3 52.0L1205.4 51.9L1206.5 51.7L1207.6 51.7L1208.7 51.8L1209.8 51.6L1210.9 51.6L1212.0 51.6L1213.1 51.6L1214.2 51.5L1215.3 51.5L1216.4 51.4L1217.5 51.4L1218.6 51.3L1219.7 51.4L1220.8 51.3L1221.9 51.2L1223.0 51.2L1224.1 51.1L1225.2 51.1L1226.3 51.1L1227.4 51.0L1228.5 51.0L1229.6 50.9L1230.7 51.0L1231.8 50.9L1232.9 50.9L1234.0 50.8L1235.1 50.9L1236.2 50.9L1237.3 50.7L1238.4 50.8L1239.5 50.7L1240.6 50.7L1241.7 50.7L1242.8 50.6L1243.9 50.6L1245.0 50.6L1246.1 50.5L1247.2 50.6L1248.3 50.6L1249.4 50.6L1250.5 50.4L1251.6 50.5L1252.7 50.5L1253.8 50.5L1254.9 50.6L1256.0 50.4L1257.1 50.5L1258.2 50.5L1259.3 50.6L1260.4 50.5L1261.5 50.4L1262.6 50.5L1263.7 50.4L1264.8 50.5L1265.9 50.5L1267.0 50.5L1268.1 50.5L1269.2 50.4L1270.3 50.6L1271.4 50.6L1272.5 50.5L1273.6 50.4L1274.7 50.4L1275.8 50.5L1276.9 50.5L1278.0 50.6L1279.1 50.6L1280.2 50.5L1281.3 50.6L1282.4 50.6L1283.5 50.5L1284.6 50.6L1285.7 50.5L1286.8 50.5L1287.9 50.4L1289.0 50.5L1290.1 50.6L1291.2 50.4L1292.3 50.4L1293.4 50.5L1294.5 50.4L1295.6 50.6L1296.7 50.5L1297.8 50.5L1298.9 50.6L1300.0 50.4L1301.1 50.4L1302.2 50.6L1303.3 50.5L1304.4 50.5L1305.5 50.6L1306.6 50.6L1307.7 50.6L1308.8 50.6L1309.9 50.6L1311.0 50.7L1312.1 50.7L1313.2 50.8L1314.3 50.8L1315.4 50.9L1316.5 50.8L1317.6 50.9L1318.7 51.0L1319.8 51.0L1320.9 51.0L1322.0 51.0L1323.1 51.0L1324.2 51.1L1325.3 51.1L1326.4 51.1L1327.5 51.1L1328.6 51.2L1329.7 51.3L1330.8 51.3L1331.9 51.2L1333.0 51.3L1334.1 51.2L1335.2 51.3L1336.3 51.5L1337.4 51.3L1338.5 51.3L1339.6 51.3L1340.7 51.3L1341.8 51.3L1342.9 51.4L1344.0 51.4L1345.1 51.5L1346.2 51.3L1347.3 51.4L1348.4 51.5L1349.5 51.3L1350.6 51.4L1351.7 51.3L1352.8 51.4L1353.9 51.5L1355.0 51.4L1356.1 51.4L1357.2 51.4L1358.3 51.5L1359.4 51.5L1360.5 51.4L1361.6 51.5L1362.7 51.5L1363.8 51.5L1364.9 51.4L1366.0 51.5L1367.1 51.5L1368.2 51.5L1369.3 51.6L1370.4 51.5L1371.5 51.6L1372.6 51.5L1373.7 51.5L1374.8 51.5L1375.9 51.6L1377.0 51.6L1378.1 51.6L1379.2 51.6L1380.3 51.6L1381.4 51.6L1382.5 51.7L1383.6 51.7L1384.7 51.7L1385.8 51.7L1386.9 51.6L1388.0 51.7L1389.1 51.7L1390.2 51.8L1391.3 51.8L1392.4 51.8L1393.5 51.8L1394.6 51.7L1395.7 51.7L1396.8 51.8L1397.9 51.8L1399.0 51.7L1400.1 51.8L1401.2 51.8L1402.3 51.8L1403.4 51.9L1404.5 51.8L1405.6 51.7L1406.7 51.7L1407.8 51.7L1408.9 51.6L1410.0 51.6L1411.0 51.5L1412.1 51.4L1413.2 51.3L1414.3 51.5L1415.4 51.3L1416.5 51.2L1417.6 51.2L1418.7 51.0L1419.8 50.9L1420.9 50.9L1422.0 50.7L1423.1 50.7L1424.2 50.5L1425.3 50.5L1426.4 50.4L1427.5 50.2L1428.6 50.3L1429.7 50.1L1430.8 50.1L1431.9 50.0L1433.0 49.9L1434.1 49.8L1435.2 49.9L1436.3 49.8L1437.4 49.7L1438.5 49.6L1439.6 49.5L1440.7 49.5L1441.8 49.4L1442.9 49.4L1444.0 49.3L1445.1 49.2L1446.2 49.1L1447.3 49.1L1448.4 49.0L1449.5 48.9L1450.6 48.9L1451.7 48.8L1452.8 48.7L1453.9 48.6L1455.0 48.5L1456.0 48.5L1457.1 48.4L1458.2 48.4L1459.3 48.2L1460.4 48.0L1461.5 48.1L1462.6 47.9L1463.7 47.8L1464.8 47.8L1465.9 47.6L1467.0 47.4L1468.1 47.3L1469.2 47.1L1470.3 47.0L1471.4 46.8L1472.4 46.6L1473.5 46.5L1474.6 46.4L1475.7 46.2L1476.8 45.9L1477.9 45.8L1478.9 45.5L1480.0 45.4L1481.1 45.1L1482.2 44.9L1483.2 44.6L1484.3 44.4L1485.4 44.1L1486.5 43.9L1487.5 43.6L1488.6 43.3L1489.7 43.3L1490.8 42.9L1491.8 42.6L1492.9 42.4L1494.0 42.1L1495.1 42.0L1496.2 41.9L1497.2 41.5L1498.3 41.4L1499.4 41.1L1500.4 40.9L1501.5 40.6L1502.6 40.3L1503.6 40.0L1504.6 39.7L1505.7 39.3L1506.7 38.8L1507.8 38.5L1508.8 38.2L1509.9 37.8L1511.0 37.8L1512.0 37.5L1513.1 37.3L1514.2 37.2L1515.3 37.2L1516.4 37.0L1517.5 37.0L1518.6 36.9L1519.7 36.8L1520.8 36.6L1521.9 36.7L1523.0 36.6L1524.1 36.5L1525.2 36.5L1526.3 36.5L1527.4 36.5L1528.5 36.4L1529.6 36.4L1530.7 36.4L1531.8 36.4L1532.9 36.4L1534.0 36.4L1535.1 36.5L1536.2 36.4L1537.3 36.4L1538.4 36.5L1539.5 36.6L1540.6 36.5L1541.7 36.6L1542.8 36.6L1543.9 36.7L1545.0 36.7L1546.1 36.8L1547.2 36.8L1548.3 37.2L1549.3 37.5L1550.4 37.7L1551.4 38.2L1552.4 38.5L1553.5 39.0L1554.5 39.2L1555.6 39.7L1556.6 39.8L1557.7 40.0L1558.8 40.3L1559.9 40.4L1561.0 40.6L1562.0 40.8L1563.1 40.9L1564.2 41.2L1565.3 41.3L1566.4 41.5L1567.5 41.7L1568.6 41.8L1569.7 41.9L1570.8 42.0L1571.8 42.2L1572.9 42.4L1574.0 42.4L1575.1 42.5L1576.2 42.8L1577.3 42.9L1578.4 43.0L1579.5 43.2L1580.6 43.2L1581.7 43.4L1582.8 43.4L1583.9 43.6L1585.0 43.7L1586.1 43.9L1587.1 43.9L1588.2 44.1L1589.3 44.2L1590.4 44.2L1591.5 44.5L1592.6 44.4L1593.7 44.5L1594.8 44.6L1595.9 44.6L1597.0 44.9L1598.1 44.9L1599.2 44.9L1600.3 45.1L1601.4 45.2L1602.5 45.3L1603.6 45.3L1604.7 45.3L1605.8 45.4L1606.9 45.5L1608.0 45.5L1609.1 45.7L1610.2 45.8L1611.3 45.8L1612.4 45.8L1613.5 46.0L1614.6 45.9L1615.7 46.0L1616.8 46.0L1617.9 45.9L1619.0 46.0L1620.1 46.1L1621.2 46.0L1622.3 45.9L1623.4 46.0L1624.5 45.9L1625.6 45.9L1626.7 45.9L1627.8 45.9L1628.9 45.9L1630.0 45.9L1631.1 45.8L1632.2 45.7L1633.3 45.8L1634.4 45.7L1635.5 45.8L1636.6 45.7L1637.7 45.6L1638.8 45.7L1639.9 45.5L1641.0 45.6L1642.1 45.6L1643.2 45.5L1644.3 45.3L1645.4 45.3L1646.4 45.2L1647.5 45.1L1648.6 44.8L1649.7 44.8L1650.8 44.7L1651.9 44.5L1653.0 44.3L1654.1 44.3L1655.2 44.1L1656.3 43.9L1657.4 43.7L1658.4 43.6L1659.5 43.4L1660.6 43.3L1661.7 43.1L1662.8 42.8L1663.9 42.6L1664.9 42.3L1666.0 42.2L1667.1 41.9L1668.2 41.7L1669.2 41.4L1670.3 41.2L1671.4 40.9L1672.4 40.7L1673.5 40.5L1674.6 40.3L1675.7 40.2L1676.8 40.0L1677.9 39.8L1679.0 39.8L1680.1 39.5L1681.2 39.4L1682.2 39.3L1683.3 39.1L1684.4 38.9L1685.5 38.9L1686.6 38.7L1687.7 38.6L1688.8 38.4L1689.9 38.3L1691.0 38.1L1692.0 37.9L1693.1 37.8L1694.2 37.6L1695.3 37.2L1695.9 37.2L1698.5 42.0L1700.5 46.6L1702.0 43.0L1702.9 40.3" stroke="#ff1111"/>
</g>
<g fill="none" stroke-width="11.6" stroke-linecap="round">
<path d="M1271.5 600.3H1418.7" stroke="#8ecde9"/>
<path d="M1271.5 666.4H1418.7" stroke="#0078b8"/>
<path d="M1271.5 732.5H1418.7" stroke="#a0dc86"/>
<path d="M1271.5 798.6H1418.7" stroke="#04a50e"/>
<path d="M1271.5 864.7H1418.7" stroke="#ff9c9c"/>
<path d="M1271.5 930.8H1418.7" stroke="#ff1111"/>
</g>
<g>
<text transform="matrix(1.0287 0 0 1 121.62 65.70)" font-size="45.60">0</text>
<text x="106.25" y="255.37" font-size="45.60">-1</text>
<text x="106.25" y="445.04" font-size="45.60">-2</text>
<text x="106.25" y="634.71" font-size="45.60">-3</text>
<text x="106.25" y="824.38" font-size="45.60">-4</text>
<text x="106.25" y="1014.05" font-size="45.60">-5</text>
<text x="106.25" y="1203.72" font-size="45.60">-6</text>
<text transform="matrix(0.975 0 0 1 327.70 1270.00)" font-size="45.60">0.2</text>
<text transform="matrix(0.975 0 0 1 576.90 1270.00)" font-size="45.60">0.4</text>
<text transform="matrix(0.975 0 0 1 826.10 1270.00)" font-size="45.60">0.6</text>
<text transform="matrix(0.975 0 0 1 1075.30 1270.00)" font-size="45.60">0.8</text>
<text transform="matrix(0.975 0 0 1 1324.50 1270.00)" font-size="45.60">1.0</text>
<text transform="matrix(0.975 0 0 1 1573.70 1270.00)" font-size="45.60">1.2</text>
<text transform="matrix(1.0368 0 0 1 1432.25 620.50)" font-size="54.20">500 rpm</text>
<text transform="matrix(1.0302 0 0 1 1432.91 686.60)" font-size="54.20">1000 rpm</text>
<text transform="matrix(1.0325 0 0 1 1432.40 752.70)" font-size="54.20">2000 rpm</text>
<text transform="matrix(1.0303 0 0 1 1432.91 818.80)" font-size="54.20">3000 rpm</text>
<text transform="matrix(1.0301 0 0 1 1432.94 884.90)" font-size="54.20">4000 rpm</text>
<text transform="matrix(1.0318 0 0 1 1432.56 951.00)" font-size="54.20">5000 rpm</text>
<text font-size="55.40"><tspan x="823.16" y="1344.00" textLength="26.19" lengthAdjust="spacingAndGlyphs">E</tspan> <tspan x="865.98" y="1344.00" textLength="48.83" lengthAdjust="spacingAndGlyphs">vs</tspan> <tspan x="930.10" y="1344.00" textLength="112.92" lengthAdjust="spacingAndGlyphs">RHE,</tspan> <tspan x="1057.75" y="1344.00" textLength="33.68" lengthAdjust="spacingAndGlyphs">V</tspan></text>
<text transform="translate(78.7 0) rotate(-90)" font-size="55.40">
<tspan x="-744.98" y="0.00" textLength="28.76" lengthAdjust="spacingAndGlyphs">i,</tspan> <tspan x="-701.23" y="0.00" textLength="80.77" lengthAdjust="spacingAndGlyphs">mA</tspan> <tspan x="-604.73" y="0.00" textLength="73.23" lengthAdjust="spacingAndGlyphs">cm</tspan><tspan font-size="37" x="-530.64" y="-24.30" textLength="32.43" lengthAdjust="spacingAndGlyphs">-2</tspan>
</text>
</g>
</svg>
</body>
</html>
